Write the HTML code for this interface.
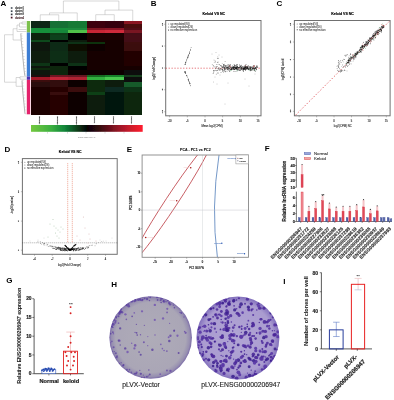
<!DOCTYPE html>
<html><head><meta charset="utf-8"><title>Figure</title>
<style>html,body{margin:0;padding:0;background:#fff;overflow:hidden;}svg{display:block;font-family:"Liberation Sans",Arial,sans-serif;}</style>
</head><body>
<svg width="394" height="400" viewBox="0 0 394 400">
<defs><filter id="gb" filterUnits="userSpaceOnUse" x="0" y="0" width="394" height="400"><feGaussianBlur stdDeviation="0.45"/></filter></defs>
<rect width="394" height="400" fill="#fff"/>
<g filter="url(#gb)" font-family="Liberation Sans, Arial, sans-serif">
<text x="0.60" y="6.40" font-size="8" fill="#000" text-anchor="start" font-weight="bold" >A</text>
<text x="150.80" y="6.30" font-size="8" fill="#000" text-anchor="start" font-weight="bold" >B</text>
<text x="276.50" y="6.40" font-size="8" fill="#000" text-anchor="start" font-weight="bold" >C</text>
<text x="4.50" y="151.60" font-size="8" fill="#000" text-anchor="start" font-weight="bold" >D</text>
<text x="126.70" y="151.60" font-size="8" fill="#000" text-anchor="start" font-weight="bold" >E</text>
<text x="264.80" y="151.30" font-size="8" fill="#000" text-anchor="start" font-weight="bold" >F</text>
<text x="6.20" y="283.40" font-size="8" fill="#000" text-anchor="start" font-weight="bold" >G</text>
<text x="111.20" y="287.00" font-size="8" fill="#000" text-anchor="start" font-weight="bold" >H</text>
<text x="283.30" y="283.70" font-size="8" fill="#000" text-anchor="start" font-weight="bold" >I</text>
<rect x="10.80" y="7.15" width="1.70" height="1.70" fill="#4d5560" stroke="none" stroke-width="0" />
<text x="14.90" y="8.95" font-size="2.6" fill="#333" text-anchor="start" font-weight="normal" stroke="#333" stroke-width="0.14" >cluster1</text>
<rect x="10.80" y="10.35" width="1.70" height="1.70" fill="#3e4650" stroke="none" stroke-width="0" />
<text x="14.90" y="12.15" font-size="2.6" fill="#333" text-anchor="start" font-weight="normal" stroke="#333" stroke-width="0.14" >cluster2</text>
<rect x="10.80" y="13.55" width="1.70" height="1.70" fill="#30343e" stroke="none" stroke-width="0" />
<text x="14.90" y="15.35" font-size="2.6" fill="#333" text-anchor="start" font-weight="normal" stroke="#333" stroke-width="0.14" >cluster3</text>
<rect x="10.80" y="16.75" width="1.70" height="1.70" fill="#4a1420" stroke="none" stroke-width="0" />
<text x="14.90" y="18.55" font-size="2.6" fill="#4a2a30" text-anchor="start" font-weight="normal" stroke="#4a2a30" stroke-width="0.14" >cluster4</text>
<rect x="26.80" y="21.00" width="3.40" height="11.50" fill="#7cc04e" stroke="none" stroke-width="0" />
<rect x="26.80" y="32.50" width="3.40" height="44.00" fill="#3d7ed4" stroke="none" stroke-width="0" />
<rect x="26.80" y="76.50" width="3.40" height="3.30" fill="#4b32b0" stroke="none" stroke-width="0" />
<rect x="26.80" y="79.80" width="3.40" height="34.50" fill="#e4246c" stroke="none" stroke-width="0" />
<g shape-rendering="crispEdges">
<rect x="31.00" y="21.00" width="18.80" height="3.30" fill="#0c2612" stroke="none" stroke-width="0" />
<rect x="49.50" y="21.00" width="18.80" height="3.30" fill="#147034" stroke="none" stroke-width="0" />
<rect x="68.00" y="21.00" width="18.80" height="3.30" fill="#147a36" stroke="none" stroke-width="0" />
<rect x="86.50" y="21.00" width="18.80" height="3.30" fill="#3c060c" stroke="none" stroke-width="0" />
<rect x="105.00" y="21.00" width="18.80" height="3.30" fill="#36060c" stroke="none" stroke-width="0" />
<rect x="123.50" y="21.00" width="18.80" height="3.30" fill="#8a1222" stroke="none" stroke-width="0" />
<rect x="31.00" y="24.00" width="18.80" height="4.50" fill="#0c2612" stroke="none" stroke-width="0" />
<rect x="49.50" y="24.00" width="18.80" height="4.50" fill="#147034" stroke="none" stroke-width="0" />
<rect x="68.00" y="24.00" width="18.80" height="4.50" fill="#147a36" stroke="none" stroke-width="0" />
<rect x="86.50" y="24.00" width="18.80" height="4.50" fill="#3c060c" stroke="none" stroke-width="0" />
<rect x="105.00" y="24.00" width="18.80" height="4.50" fill="#36060c" stroke="none" stroke-width="0" />
<rect x="123.50" y="24.00" width="18.80" height="4.50" fill="#4a0810" stroke="none" stroke-width="0" />
<rect x="31.00" y="28.20" width="18.80" height="2.10" fill="#18903a" stroke="none" stroke-width="0" />
<rect x="49.50" y="28.20" width="18.80" height="2.10" fill="#18903a" stroke="none" stroke-width="0" />
<rect x="68.00" y="28.20" width="18.80" height="2.10" fill="#1a8a3c" stroke="none" stroke-width="0" />
<rect x="86.50" y="28.20" width="18.80" height="2.10" fill="#801420" stroke="none" stroke-width="0" />
<rect x="105.00" y="28.20" width="18.80" height="2.10" fill="#8a1826" stroke="none" stroke-width="0" />
<rect x="123.50" y="28.20" width="18.80" height="2.10" fill="#500a12" stroke="none" stroke-width="0" />
<rect x="31.00" y="30.00" width="18.80" height="2.80" fill="#18903a" stroke="none" stroke-width="0" />
<rect x="49.50" y="30.00" width="18.80" height="2.80" fill="#17883a" stroke="none" stroke-width="0" />
<rect x="68.00" y="30.00" width="18.80" height="2.80" fill="#50c048" stroke="none" stroke-width="0" />
<rect x="86.50" y="30.00" width="18.80" height="2.80" fill="#c82535" stroke="none" stroke-width="0" />
<rect x="105.00" y="30.00" width="18.80" height="2.80" fill="#d02a3a" stroke="none" stroke-width="0" />
<rect x="123.50" y="30.00" width="18.80" height="2.80" fill="#7a1420" stroke="none" stroke-width="0" />
<rect x="31.00" y="32.50" width="18.80" height="2.30" fill="#0a200c" stroke="none" stroke-width="0" />
<rect x="49.50" y="32.50" width="18.80" height="2.30" fill="#0e3a18" stroke="none" stroke-width="0" />
<rect x="68.00" y="32.50" width="18.80" height="2.30" fill="#050505" stroke="none" stroke-width="0" />
<rect x="86.50" y="32.50" width="18.80" height="2.30" fill="#1a0305" stroke="none" stroke-width="0" />
<rect x="105.00" y="32.50" width="18.80" height="2.30" fill="#1a0305" stroke="none" stroke-width="0" />
<rect x="123.50" y="32.50" width="18.80" height="2.30" fill="#440a12" stroke="none" stroke-width="0" />
<rect x="31.00" y="34.50" width="18.80" height="6.00" fill="#0a200c" stroke="none" stroke-width="0" />
<rect x="49.50" y="34.50" width="18.80" height="6.00" fill="#10401a" stroke="none" stroke-width="0" />
<rect x="68.00" y="34.50" width="18.80" height="6.00" fill="#060404" stroke="none" stroke-width="0" />
<rect x="86.50" y="34.50" width="18.80" height="6.00" fill="#1a0305" stroke="none" stroke-width="0" />
<rect x="105.00" y="34.50" width="18.80" height="6.00" fill="#1a0305" stroke="none" stroke-width="0" />
<rect x="123.50" y="34.50" width="18.80" height="6.00" fill="#460a12" stroke="none" stroke-width="0" />
<rect x="31.00" y="40.20" width="18.80" height="2.40" fill="#104a1e" stroke="none" stroke-width="0" />
<rect x="49.50" y="40.20" width="18.80" height="2.40" fill="#050505" stroke="none" stroke-width="0" />
<rect x="68.00" y="40.20" width="18.80" height="2.40" fill="#0a1a0a" stroke="none" stroke-width="0" />
<rect x="86.50" y="40.20" width="18.80" height="2.40" fill="#120303" stroke="none" stroke-width="0" />
<rect x="105.00" y="40.20" width="18.80" height="2.40" fill="#180305" stroke="none" stroke-width="0" />
<rect x="123.50" y="40.20" width="18.80" height="2.40" fill="#420a12" stroke="none" stroke-width="0" />
<rect x="31.00" y="42.30" width="18.80" height="2.40" fill="#081808" stroke="none" stroke-width="0" />
<rect x="49.50" y="42.30" width="18.80" height="2.40" fill="#0c2c12" stroke="none" stroke-width="0" />
<rect x="68.00" y="42.30" width="18.80" height="2.40" fill="#0c3012" stroke="none" stroke-width="0" />
<rect x="86.50" y="42.30" width="18.80" height="2.40" fill="#0c3010" stroke="none" stroke-width="0" />
<rect x="105.00" y="42.30" width="18.80" height="2.40" fill="#180305" stroke="none" stroke-width="0" />
<rect x="123.50" y="42.30" width="18.80" height="2.40" fill="#3e0810" stroke="none" stroke-width="0" />
<rect x="31.00" y="44.40" width="18.80" height="6.90" fill="#081808" stroke="none" stroke-width="0" />
<rect x="49.50" y="44.40" width="18.80" height="6.90" fill="#0c2c12" stroke="none" stroke-width="0" />
<rect x="68.00" y="44.40" width="18.80" height="6.90" fill="#0a0a06" stroke="none" stroke-width="0" />
<rect x="86.50" y="44.40" width="18.80" height="6.90" fill="#100202" stroke="none" stroke-width="0" />
<rect x="105.00" y="44.40" width="18.80" height="6.90" fill="#180305" stroke="none" stroke-width="0" />
<rect x="123.50" y="44.40" width="18.80" height="6.90" fill="#3a0810" stroke="none" stroke-width="0" />
<rect x="31.00" y="51.00" width="18.80" height="12.10" fill="#081a0c" stroke="none" stroke-width="0" />
<rect x="49.50" y="51.00" width="18.80" height="12.10" fill="#0c2e14" stroke="none" stroke-width="0" />
<rect x="68.00" y="51.00" width="18.80" height="12.10" fill="#0a1a0e" stroke="none" stroke-width="0" />
<rect x="86.50" y="51.00" width="18.80" height="12.10" fill="#140304" stroke="none" stroke-width="0" />
<rect x="105.00" y="51.00" width="18.80" height="12.10" fill="#140304" stroke="none" stroke-width="0" />
<rect x="123.50" y="51.00" width="18.80" height="12.10" fill="#200406" stroke="none" stroke-width="0" />
<rect x="31.00" y="62.80" width="18.80" height="3.10" fill="#0c3414" stroke="none" stroke-width="0" />
<rect x="49.50" y="62.80" width="18.80" height="3.10" fill="#030303" stroke="none" stroke-width="0" />
<rect x="68.00" y="62.80" width="18.80" height="3.10" fill="#0c3012" stroke="none" stroke-width="0" />
<rect x="86.50" y="62.80" width="18.80" height="3.10" fill="#140304" stroke="none" stroke-width="0" />
<rect x="105.00" y="62.80" width="18.80" height="3.10" fill="#140304" stroke="none" stroke-width="0" />
<rect x="123.50" y="62.80" width="18.80" height="3.10" fill="#200406" stroke="none" stroke-width="0" />
<rect x="31.00" y="65.60" width="18.80" height="2.50" fill="#081808" stroke="none" stroke-width="0" />
<rect x="49.50" y="65.60" width="18.80" height="2.50" fill="#0a2810" stroke="none" stroke-width="0" />
<rect x="68.00" y="65.60" width="18.80" height="2.50" fill="#060606" stroke="none" stroke-width="0" />
<rect x="86.50" y="65.60" width="18.80" height="2.50" fill="#140304" stroke="none" stroke-width="0" />
<rect x="105.00" y="65.60" width="18.80" height="2.50" fill="#140304" stroke="none" stroke-width="0" />
<rect x="123.50" y="65.60" width="18.80" height="2.50" fill="#140304" stroke="none" stroke-width="0" />
<rect x="31.00" y="67.80" width="18.80" height="2.50" fill="#0a2a10" stroke="none" stroke-width="0" />
<rect x="49.50" y="67.80" width="18.80" height="2.50" fill="#0a2810" stroke="none" stroke-width="0" />
<rect x="68.00" y="67.80" width="18.80" height="2.50" fill="#060606" stroke="none" stroke-width="0" />
<rect x="86.50" y="67.80" width="18.80" height="2.50" fill="#140304" stroke="none" stroke-width="0" />
<rect x="105.00" y="67.80" width="18.80" height="2.50" fill="#140304" stroke="none" stroke-width="0" />
<rect x="123.50" y="67.80" width="18.80" height="2.50" fill="#140304" stroke="none" stroke-width="0" />
<rect x="31.00" y="70.00" width="18.80" height="5.30" fill="#081808" stroke="none" stroke-width="0" />
<rect x="49.50" y="70.00" width="18.80" height="5.30" fill="#0a2810" stroke="none" stroke-width="0" />
<rect x="68.00" y="70.00" width="18.80" height="5.30" fill="#080606" stroke="none" stroke-width="0" />
<rect x="86.50" y="70.00" width="18.80" height="5.30" fill="#100304" stroke="none" stroke-width="0" />
<rect x="105.00" y="70.00" width="18.80" height="5.30" fill="#100304" stroke="none" stroke-width="0" />
<rect x="123.50" y="70.00" width="18.80" height="5.30" fill="#0a0a0a" stroke="none" stroke-width="0" />
<rect x="31.00" y="75.00" width="18.80" height="1.80" fill="#1a0808" stroke="none" stroke-width="0" />
<rect x="49.50" y="75.00" width="18.80" height="1.80" fill="#701822" stroke="none" stroke-width="0" />
<rect x="68.00" y="75.00" width="18.80" height="1.80" fill="#681822" stroke="none" stroke-width="0" />
<rect x="86.50" y="75.00" width="18.80" height="1.80" fill="#126a24" stroke="none" stroke-width="0" />
<rect x="105.00" y="75.00" width="18.80" height="1.80" fill="#18802c" stroke="none" stroke-width="0" />
<rect x="123.50" y="75.00" width="18.80" height="1.80" fill="#183e1c" stroke="none" stroke-width="0" />
<rect x="31.00" y="76.50" width="18.80" height="3.40" fill="#a01828" stroke="none" stroke-width="0" />
<rect x="49.50" y="76.50" width="18.80" height="3.40" fill="#c02838" stroke="none" stroke-width="0" />
<rect x="68.00" y="76.50" width="18.80" height="3.40" fill="#b02030" stroke="none" stroke-width="0" />
<rect x="86.50" y="76.50" width="18.80" height="3.40" fill="#30b040" stroke="none" stroke-width="0" />
<rect x="105.00" y="76.50" width="18.80" height="3.40" fill="#48c850" stroke="none" stroke-width="0" />
<rect x="123.50" y="76.50" width="18.80" height="3.40" fill="#0a0a0a" stroke="none" stroke-width="0" />
<rect x="31.00" y="79.60" width="18.80" height="2.20" fill="#3a0a0c" stroke="none" stroke-width="0" />
<rect x="49.50" y="79.60" width="18.80" height="2.20" fill="#300808" stroke="none" stroke-width="0" />
<rect x="68.00" y="79.60" width="18.80" height="2.20" fill="#100303" stroke="none" stroke-width="0" />
<rect x="86.50" y="79.60" width="18.80" height="2.20" fill="#0a2a10" stroke="none" stroke-width="0" />
<rect x="105.00" y="79.60" width="18.80" height="2.20" fill="#0a1a0c" stroke="none" stroke-width="0" />
<rect x="123.50" y="79.60" width="18.80" height="2.20" fill="#0a0a0a" stroke="none" stroke-width="0" />
<rect x="31.00" y="81.50" width="18.80" height="5.30" fill="#2a0708" stroke="none" stroke-width="0" />
<rect x="49.50" y="81.50" width="18.80" height="5.30" fill="#300808" stroke="none" stroke-width="0" />
<rect x="68.00" y="81.50" width="18.80" height="5.30" fill="#100303" stroke="none" stroke-width="0" />
<rect x="86.50" y="81.50" width="18.80" height="5.30" fill="#0a2a10" stroke="none" stroke-width="0" />
<rect x="105.00" y="81.50" width="18.80" height="5.30" fill="#0a1a0c" stroke="none" stroke-width="0" />
<rect x="123.50" y="81.50" width="18.80" height="5.30" fill="#175a2a" stroke="none" stroke-width="0" />
<rect x="31.00" y="86.50" width="18.80" height="6.00" fill="#1e0405" stroke="none" stroke-width="0" />
<rect x="49.50" y="86.50" width="18.80" height="6.00" fill="#280606" stroke="none" stroke-width="0" />
<rect x="68.00" y="86.50" width="18.80" height="6.00" fill="#3a0a10" stroke="none" stroke-width="0" />
<rect x="86.50" y="86.50" width="18.80" height="6.00" fill="#0a2a10" stroke="none" stroke-width="0" />
<rect x="105.00" y="86.50" width="18.80" height="6.00" fill="#0c2a20" stroke="none" stroke-width="0" />
<rect x="123.50" y="86.50" width="18.80" height="6.00" fill="#0a3014" stroke="none" stroke-width="0" />
<rect x="31.00" y="92.20" width="18.80" height="3.10" fill="#1e0405" stroke="none" stroke-width="0" />
<rect x="49.50" y="92.20" width="18.80" height="3.10" fill="#380a0c" stroke="none" stroke-width="0" />
<rect x="68.00" y="92.20" width="18.80" height="3.10" fill="#0c0303" stroke="none" stroke-width="0" />
<rect x="86.50" y="92.20" width="18.80" height="3.10" fill="#0e4018" stroke="none" stroke-width="0" />
<rect x="105.00" y="92.20" width="18.80" height="3.10" fill="#061408" stroke="none" stroke-width="0" />
<rect x="123.50" y="92.20" width="18.80" height="3.10" fill="#0a2810" stroke="none" stroke-width="0" />
<rect x="31.00" y="95.00" width="18.80" height="19.60" fill="#1e0405" stroke="none" stroke-width="0" />
<rect x="49.50" y="95.00" width="18.80" height="19.60" fill="#280606" stroke="none" stroke-width="0" />
<rect x="68.00" y="95.00" width="18.80" height="19.60" fill="#0c0303" stroke="none" stroke-width="0" />
<rect x="86.50" y="95.00" width="18.80" height="19.60" fill="#081e0c" stroke="none" stroke-width="0" />
<rect x="105.00" y="95.00" width="18.80" height="19.60" fill="#061408" stroke="none" stroke-width="0" />
<rect x="123.50" y="95.00" width="18.80" height="19.60" fill="#0a2810" stroke="none" stroke-width="0" />
</g>
<line x1="40.25" y1="21.00" x2="40.25" y2="14.80" stroke="#a8a8a8" stroke-width="0.45" />
<line x1="58.75" y1="21.00" x2="58.75" y2="14.80" stroke="#a8a8a8" stroke-width="0.45" />
<line x1="40.25" y1="14.80" x2="58.75" y2="14.80" stroke="#a8a8a8" stroke-width="0.45" />
<line x1="49.50" y1="14.80" x2="49.50" y2="12.90" stroke="#a8a8a8" stroke-width="0.45" />
<line x1="77.25" y1="21.00" x2="77.25" y2="12.90" stroke="#a8a8a8" stroke-width="0.45" />
<line x1="49.50" y1="12.90" x2="77.25" y2="12.90" stroke="#a8a8a8" stroke-width="0.45" />
<line x1="95.75" y1="21.00" x2="95.75" y2="14.70" stroke="#a8a8a8" stroke-width="0.45" />
<line x1="114.25" y1="21.00" x2="114.25" y2="14.70" stroke="#a8a8a8" stroke-width="0.45" />
<line x1="95.75" y1="14.70" x2="114.25" y2="14.70" stroke="#a8a8a8" stroke-width="0.45" />
<line x1="105.00" y1="14.70" x2="105.00" y2="10.10" stroke="#a8a8a8" stroke-width="0.45" />
<line x1="132.75" y1="21.00" x2="132.75" y2="10.10" stroke="#a8a8a8" stroke-width="0.45" />
<line x1="105.00" y1="10.10" x2="132.75" y2="10.10" stroke="#a8a8a8" stroke-width="0.45" />
<line x1="63.38" y1="12.90" x2="63.38" y2="1.00" stroke="#a8a8a8" stroke-width="0.45" />
<line x1="118.88" y1="10.10" x2="118.88" y2="1.00" stroke="#a8a8a8" stroke-width="0.45" />
<line x1="63.38" y1="1.00" x2="118.88" y2="1.00" stroke="#a8a8a8" stroke-width="0.45" />
<line x1="4.50" y1="34.75" x2="4.50" y2="82.20" stroke="#a8a8a8" stroke-width="0.45" />
<line x1="4.50" y1="34.75" x2="13.10" y2="34.75" stroke="#a8a8a8" stroke-width="0.45" />
<line x1="13.10" y1="28.75" x2="13.10" y2="40.00" stroke="#a8a8a8" stroke-width="0.45" />
<line x1="13.10" y1="28.75" x2="17.00" y2="28.75" stroke="#a8a8a8" stroke-width="0.45" />
<line x1="17.00" y1="25.00" x2="17.00" y2="31.50" stroke="#a8a8a8" stroke-width="0.45" />
<line x1="17.00" y1="31.50" x2="26.50" y2="31.50" stroke="#a8a8a8" stroke-width="0.45" />
<line x1="17.00" y1="25.00" x2="19.50" y2="25.00" stroke="#a8a8a8" stroke-width="0.45" />
<line x1="19.50" y1="23.00" x2="19.50" y2="27.00" stroke="#a8a8a8" stroke-width="0.45" />
<line x1="19.50" y1="27.00" x2="26.50" y2="27.00" stroke="#a8a8a8" stroke-width="0.45" />
<line x1="19.50" y1="23.00" x2="22.00" y2="23.00" stroke="#a8a8a8" stroke-width="0.45" />
<line x1="22.00" y1="22.00" x2="22.00" y2="24.00" stroke="#a8a8a8" stroke-width="0.45" />
<line x1="22.00" y1="22.00" x2="26.50" y2="22.00" stroke="#a8a8a8" stroke-width="0.45" />
<line x1="22.00" y1="24.00" x2="26.50" y2="24.00" stroke="#a8a8a8" stroke-width="0.45" />
<line x1="18.50" y1="29.50" x2="26.50" y2="29.50" stroke="#a8a8a8" stroke-width="0.45" />
<line x1="13.10" y1="40.00" x2="20.80" y2="40.00" stroke="#a8a8a8" stroke-width="0.45" />
<polyline points="20.8,33.5 21.2,40 21.8,46 22.4,52 22.9,58 23.5,64 24.1,70 24.8,75.8" fill="none" stroke="#8a8a8a" stroke-width="0.65"/>
<line x1="20.80" y1="33.50" x2="22.40" y2="33.50" stroke="#a8a8a8" stroke-width="0.3" />
<line x1="21.04" y1="36.00" x2="22.64" y2="36.00" stroke="#a8a8a8" stroke-width="0.3" />
<line x1="21.28" y1="38.50" x2="22.88" y2="38.50" stroke="#a8a8a8" stroke-width="0.3" />
<line x1="21.56" y1="41.50" x2="23.16" y2="41.50" stroke="#a8a8a8" stroke-width="0.3" />
<line x1="21.84" y1="44.50" x2="23.45" y2="44.50" stroke="#a8a8a8" stroke-width="0.3" />
<line x1="22.13" y1="47.50" x2="23.73" y2="47.50" stroke="#a8a8a8" stroke-width="0.3" />
<line x1="22.41" y1="50.50" x2="24.02" y2="50.50" stroke="#a8a8a8" stroke-width="0.3" />
<line x1="22.70" y1="53.50" x2="24.30" y2="53.50" stroke="#a8a8a8" stroke-width="0.3" />
<line x1="22.98" y1="56.50" x2="24.59" y2="56.50" stroke="#a8a8a8" stroke-width="0.3" />
<line x1="23.27" y1="59.50" x2="24.87" y2="59.50" stroke="#a8a8a8" stroke-width="0.3" />
<line x1="23.55" y1="62.50" x2="25.16" y2="62.50" stroke="#a8a8a8" stroke-width="0.3" />
<line x1="23.84" y1="65.50" x2="25.44" y2="65.50" stroke="#a8a8a8" stroke-width="0.3" />
<line x1="24.12" y1="68.50" x2="25.73" y2="68.50" stroke="#a8a8a8" stroke-width="0.3" />
<line x1="24.41" y1="71.50" x2="26.01" y2="71.50" stroke="#a8a8a8" stroke-width="0.3" />
<line x1="24.65" y1="74.00" x2="26.25" y2="74.00" stroke="#a8a8a8" stroke-width="0.3" />
<line x1="24.82" y1="75.80" x2="26.42" y2="75.80" stroke="#a8a8a8" stroke-width="0.3" />
<line x1="4.50" y1="82.20" x2="16.10" y2="82.20" stroke="#a8a8a8" stroke-width="0.45" />
<line x1="16.10" y1="77.50" x2="16.10" y2="86.30" stroke="#a8a8a8" stroke-width="0.45" />
<line x1="16.10" y1="77.50" x2="20.00" y2="77.50" stroke="#a8a8a8" stroke-width="0.45" />
<line x1="20.00" y1="76.80" x2="20.00" y2="79.20" stroke="#a8a8a8" stroke-width="0.45" />
<line x1="20.00" y1="76.80" x2="26.50" y2="76.80" stroke="#a8a8a8" stroke-width="0.45" />
<line x1="20.00" y1="79.20" x2="26.50" y2="79.20" stroke="#a8a8a8" stroke-width="0.45" />
<line x1="16.10" y1="86.30" x2="22.00" y2="86.30" stroke="#a8a8a8" stroke-width="0.45" />
<polyline points="22,80.5 22.3,86 22.8,92 23.4,98 24.0,104 24.6,110 25.0,113.8" fill="none" stroke="#8a8a8a" stroke-width="0.65"/>
<line x1="22.00" y1="80.50" x2="23.60" y2="80.50" stroke="#a8a8a8" stroke-width="0.3" />
<line x1="22.23" y1="83.00" x2="23.83" y2="83.00" stroke="#a8a8a8" stroke-width="0.3" />
<line x1="22.50" y1="86.00" x2="24.10" y2="86.00" stroke="#a8a8a8" stroke-width="0.3" />
<line x1="22.77" y1="89.00" x2="24.37" y2="89.00" stroke="#a8a8a8" stroke-width="0.3" />
<line x1="23.04" y1="92.00" x2="24.64" y2="92.00" stroke="#a8a8a8" stroke-width="0.3" />
<line x1="23.30" y1="95.00" x2="24.91" y2="95.00" stroke="#a8a8a8" stroke-width="0.3" />
<line x1="23.57" y1="98.00" x2="25.18" y2="98.00" stroke="#a8a8a8" stroke-width="0.3" />
<line x1="23.84" y1="101.00" x2="25.45" y2="101.00" stroke="#a8a8a8" stroke-width="0.3" />
<line x1="24.11" y1="104.00" x2="25.71" y2="104.00" stroke="#a8a8a8" stroke-width="0.3" />
<line x1="24.38" y1="107.00" x2="25.98" y2="107.00" stroke="#a8a8a8" stroke-width="0.3" />
<line x1="24.66" y1="110.00" x2="26.26" y2="110.00" stroke="#a8a8a8" stroke-width="0.3" />
<line x1="25.00" y1="113.80" x2="26.60" y2="113.80" stroke="#a8a8a8" stroke-width="0.3" />
<text x="38.95" y="116.60" font-size="2.1" fill="#444" text-anchor="start" font-weight="normal" transform="rotate(90 38.95 116.60)" stroke="#444" stroke-width="0.15" >Normal1</text>
<text x="57.45" y="116.60" font-size="2.1" fill="#444" text-anchor="start" font-weight="normal" transform="rotate(90 57.45 116.60)" stroke="#444" stroke-width="0.15" >Normal2</text>
<text x="75.95" y="116.60" font-size="2.1" fill="#444" text-anchor="start" font-weight="normal" transform="rotate(90 75.95 116.60)" stroke="#444" stroke-width="0.15" >Normal3</text>
<text x="94.45" y="116.60" font-size="2.1" fill="#444" text-anchor="start" font-weight="normal" transform="rotate(90 94.45 116.60)" stroke="#444" stroke-width="0.15" >Keloid1</text>
<text x="112.95" y="116.60" font-size="2.1" fill="#444" text-anchor="start" font-weight="normal" transform="rotate(90 112.95 116.60)" stroke="#444" stroke-width="0.15" >Keloid2</text>
<text x="131.45" y="116.60" font-size="2.1" fill="#444" text-anchor="start" font-weight="normal" transform="rotate(90 131.45 116.60)" stroke="#444" stroke-width="0.15" >Keloid3</text>
<defs><linearGradient id="cb" x1="0" x2="1" y1="0" y2="0"><stop offset="0" stop-color="#74c840"/><stop offset="0.18" stop-color="#3cb040"/><stop offset="0.3" stop-color="#12863a"/><stop offset="0.42" stop-color="#0a3a18"/><stop offset="0.5" stop-color="#050505"/><stop offset="0.62" stop-color="#3a0810"/><stop offset="0.8" stop-color="#a01828"/><stop offset="1" stop-color="#ff1e2e"/></linearGradient></defs>
<rect x="31.00" y="125.00" width="111.70" height="6.80" fill="url(#cb)" stroke="none" stroke-width="0" />
<line x1="47.50" y1="132.00" x2="47.50" y2="133.60" stroke="#999" stroke-width="0.35" />
<line x1="67.50" y1="132.00" x2="67.50" y2="133.60" stroke="#999" stroke-width="0.35" />
<line x1="86.00" y1="132.00" x2="86.00" y2="133.60" stroke="#999" stroke-width="0.35" />
<line x1="105.00" y1="132.00" x2="105.00" y2="133.60" stroke="#999" stroke-width="0.35" />
<line x1="124.00" y1="132.00" x2="124.00" y2="133.60" stroke="#999" stroke-width="0.35" />
<text x="86.60" y="138.20" font-size="1.8" fill="#777" text-anchor="middle" font-weight="normal" >scaled log2(FPKM+1)</text>
<rect x="165.70" y="20.50" width="95.30" height="95.30" fill="none" stroke="#707070" stroke-width="1.0" />
<text x="213.80" y="15.00" font-size="3.55" fill="#000" text-anchor="middle" font-weight="bold" stroke="#000" stroke-width="0.15" >Keloid VS NC</text>
<line x1="164.20" y1="24.25" x2="165.70" y2="24.25" stroke="#707070" stroke-width="0.45" />
<text x="162.60" y="24.25" font-size="2.5" fill="#333" text-anchor="middle" font-weight="normal" transform="rotate(-90 162.60 24.25)" stroke="#333" stroke-width="0.12" >10</text>
<line x1="164.20" y1="46.00" x2="165.70" y2="46.00" stroke="#707070" stroke-width="0.45" />
<text x="162.60" y="46.00" font-size="2.5" fill="#333" text-anchor="middle" font-weight="normal" transform="rotate(-90 162.60 46.00)" stroke="#333" stroke-width="0.12" >5</text>
<line x1="164.20" y1="68.00" x2="165.70" y2="68.00" stroke="#707070" stroke-width="0.45" />
<text x="162.60" y="68.00" font-size="2.5" fill="#333" text-anchor="middle" font-weight="normal" transform="rotate(-90 162.60 68.00)" stroke="#333" stroke-width="0.12" >0</text>
<line x1="164.20" y1="89.75" x2="165.70" y2="89.75" stroke="#707070" stroke-width="0.45" />
<text x="162.60" y="89.75" font-size="2.5" fill="#333" text-anchor="middle" font-weight="normal" transform="rotate(-90 162.60 89.75)" stroke="#333" stroke-width="0.12" >-5</text>
<line x1="164.20" y1="111.75" x2="165.70" y2="111.75" stroke="#707070" stroke-width="0.45" />
<text x="162.60" y="111.75" font-size="2.5" fill="#333" text-anchor="middle" font-weight="normal" transform="rotate(-90 162.60 111.75)" stroke="#333" stroke-width="0.12" >-10</text>
<line x1="169.60" y1="115.80" x2="169.60" y2="117.30" stroke="#707070" stroke-width="0.45" />
<text x="169.60" y="121.80" font-size="2.6" fill="#333" text-anchor="middle" font-weight="normal" stroke="#333" stroke-width="0.12" >-10</text>
<line x1="187.30" y1="115.80" x2="187.30" y2="117.30" stroke="#707070" stroke-width="0.45" />
<text x="187.30" y="121.80" font-size="2.6" fill="#333" text-anchor="middle" font-weight="normal" stroke="#333" stroke-width="0.12" >-5</text>
<line x1="205.00" y1="115.80" x2="205.00" y2="117.30" stroke="#707070" stroke-width="0.45" />
<text x="205.00" y="121.80" font-size="2.6" fill="#333" text-anchor="middle" font-weight="normal" stroke="#333" stroke-width="0.12" >0</text>
<line x1="222.60" y1="115.80" x2="222.60" y2="117.30" stroke="#707070" stroke-width="0.45" />
<text x="222.60" y="121.80" font-size="2.6" fill="#333" text-anchor="middle" font-weight="normal" stroke="#333" stroke-width="0.12" >5</text>
<line x1="240.30" y1="115.80" x2="240.30" y2="117.30" stroke="#707070" stroke-width="0.45" />
<text x="240.30" y="121.80" font-size="2.6" fill="#333" text-anchor="middle" font-weight="normal" stroke="#333" stroke-width="0.12" >10</text>
<line x1="257.90" y1="115.80" x2="257.90" y2="117.30" stroke="#707070" stroke-width="0.45" />
<text x="257.90" y="121.80" font-size="2.6" fill="#333" text-anchor="middle" font-weight="normal" stroke="#333" stroke-width="0.12" >15</text>
<text x="212.00" y="127.20" font-size="2.8" fill="#333" text-anchor="middle" font-weight="normal" stroke="#333" stroke-width="0.1" >Mean log2(CPM)</text>
<text x="155.40" y="68.40" font-size="2.8" fill="#333" text-anchor="middle" font-weight="normal" transform="rotate(-90 155.40 68.40)" stroke="#333" stroke-width="0.1" >log2(Fold Change)</text>
<circle cx="168.60" cy="24.10" r="0.50" fill="#777" />
<text x="170.60" y="25.00" font-size="2.6" fill="#444" text-anchor="start" font-weight="normal" stroke="#444" stroke-width="0.06" >up regulated(53)</text>
<circle cx="168.60" cy="27.03" r="0.50" fill="#777" />
<text x="170.60" y="27.93" font-size="2.6" fill="#444" text-anchor="start" font-weight="normal" stroke="#444" stroke-width="0.06" >down regulated(26)</text>
<circle cx="168.60" cy="29.96" r="0.50" fill="#111" />
<text x="170.60" y="30.86" font-size="2.6" fill="#444" text-anchor="start" font-weight="normal" stroke="#444" stroke-width="0.06" >no effective expression</text>
<line x1="165.70" y1="68.20" x2="261.00" y2="68.20" stroke="#d83038" stroke-width="0.65" stroke-dasharray="1.3,1.6"/>
<circle cx="186.76" cy="59.27" r="0.45" fill="#333" />
<circle cx="188.41" cy="80.83" r="0.45" fill="#333" />
<circle cx="188.35" cy="55.39" r="0.45" fill="#333" />
<circle cx="185.15" cy="72.06" r="0.45" fill="#333" />
<circle cx="185.01" cy="64.51" r="0.45" fill="#333" />
<circle cx="184.93" cy="72.23" r="0.45" fill="#333" />
<circle cx="187.92" cy="57.43" r="0.45" fill="#333" />
<circle cx="185.35" cy="73.03" r="0.45" fill="#333" />
<circle cx="189.38" cy="53.72" r="0.45" fill="#333" />
<circle cx="188.19" cy="79.74" r="0.45" fill="#333" />
<circle cx="191.12" cy="47.33" r="0.45" fill="#333" />
<circle cx="189.80" cy="83.91" r="0.45" fill="#333" />
<circle cx="185.51" cy="62.56" r="0.45" fill="#333" />
<circle cx="186.87" cy="75.77" r="0.45" fill="#333" />
<circle cx="186.09" cy="61.89" r="0.45" fill="#333" />
<circle cx="188.54" cy="80.66" r="0.45" fill="#333" />
<circle cx="188.22" cy="55.18" r="0.45" fill="#333" />
<circle cx="184.95" cy="72.08" r="0.45" fill="#333" />
<circle cx="189.38" cy="52.75" r="0.45" fill="#333" />
<circle cx="186.74" cy="75.85" r="0.45" fill="#333" />
<circle cx="187.74" cy="56.91" r="0.45" fill="#333" />
<circle cx="189.71" cy="82.96" r="0.45" fill="#333" />
<circle cx="186.51" cy="60.73" r="0.45" fill="#333" />
<circle cx="188.21" cy="78.97" r="0.45" fill="#333" />
<circle cx="189.61" cy="51.85" r="0.45" fill="#333" />
<circle cx="190.41" cy="85.71" r="0.45" fill="#333" />
<circle cx="187.82" cy="57.55" r="0.45" fill="#333" />
<circle cx="185.70" cy="73.45" r="0.45" fill="#333" />
<circle cx="185.18" cy="64.48" r="0.45" fill="#333" />
<circle cx="189.44" cy="82.52" r="0.45" fill="#333" />
<circle cx="190.62" cy="49.18" r="0.45" fill="#333" />
<circle cx="189.04" cy="81.49" r="0.45" fill="#333" />
<circle cx="188.71" cy="54.59" r="0.45" fill="#333" />
<circle cx="190.15" cy="83.63" r="0.45" fill="#333" />
<circle cx="188.14" cy="56.52" r="0.45" fill="#333" />
<circle cx="185.31" cy="72.10" r="0.45" fill="#333" />
<circle cx="189.55" cy="53.36" r="0.45" fill="#333" />
<circle cx="189.58" cy="83.36" r="0.45" fill="#333" />
<circle cx="187.54" cy="58.14" r="0.45" fill="#333" />
<circle cx="184.91" cy="71.53" r="0.45" fill="#333" />
<circle cx="185.67" cy="62.12" r="0.45" fill="#333" />
<circle cx="185.34" cy="72.07" r="0.45" fill="#333" />
<circle cx="185.50" cy="62.83" r="0.45" fill="#333" />
<circle cx="187.41" cy="76.99" r="0.45" fill="#333" />
<circle cx="185.31" cy="63.73" r="0.45" fill="#333" />
<circle cx="188.37" cy="79.33" r="0.45" fill="#333" />
<circle cx="190.63" cy="50.21" r="0.45" fill="#333" />
<circle cx="186.41" cy="75.32" r="0.45" fill="#333" />
<circle cx="247.40" cy="68.16" r="0.45" fill="#1a1a1a" />
<circle cx="237.57" cy="69.55" r="0.45" fill="#1a1a1a" />
<circle cx="229.88" cy="66.94" r="0.45" fill="#1a1a1a" />
<circle cx="254.87" cy="68.85" r="0.45" fill="#1a1a1a" />
<circle cx="250.16" cy="70.71" r="0.45" fill="#1a1a1a" />
<circle cx="235.37" cy="68.44" r="0.45" fill="#1a1a1a" />
<circle cx="250.38" cy="68.54" r="0.45" fill="#1a1a1a" />
<circle cx="246.49" cy="68.32" r="0.45" fill="#1a1a1a" />
<circle cx="247.96" cy="69.16" r="0.45" fill="#1a1a1a" />
<circle cx="252.96" cy="70.01" r="0.45" fill="#1a1a1a" />
<circle cx="241.41" cy="68.24" r="0.45" fill="#1a1a1a" />
<circle cx="231.10" cy="69.61" r="0.45" fill="#1a1a1a" />
<circle cx="255.78" cy="68.30" r="0.45" fill="#1a1a1a" />
<circle cx="251.81" cy="68.86" r="0.45" fill="#1a1a1a" />
<circle cx="225.14" cy="69.03" r="0.45" fill="#1a1a1a" />
<circle cx="250.35" cy="70.15" r="0.45" fill="#1a1a1a" />
<circle cx="254.13" cy="70.02" r="0.45" fill="#40a060" />
<circle cx="245.64" cy="66.62" r="0.45" fill="#1a1a1a" />
<circle cx="243.48" cy="68.43" r="0.45" fill="#1a1a1a" />
<circle cx="234.02" cy="67.17" r="0.45" fill="#1a1a1a" />
<circle cx="234.41" cy="65.47" r="0.45" fill="#1a1a1a" />
<circle cx="256.35" cy="66.54" r="0.45" fill="#1a1a1a" />
<circle cx="224.89" cy="67.73" r="0.45" fill="#1a1a1a" />
<circle cx="240.02" cy="66.30" r="0.45" fill="#1a1a1a" />
<circle cx="246.24" cy="69.25" r="0.45" fill="#1a1a1a" />
<circle cx="236.04" cy="67.24" r="0.45" fill="#1a1a1a" />
<circle cx="235.24" cy="68.98" r="0.45" fill="#1a1a1a" />
<circle cx="232.52" cy="67.63" r="0.45" fill="#1a1a1a" />
<circle cx="224.36" cy="69.21" r="0.45" fill="#1a1a1a" />
<circle cx="231.75" cy="69.77" r="0.45" fill="#1a1a1a" />
<circle cx="231.82" cy="68.40" r="0.45" fill="#1a1a1a" />
<circle cx="225.11" cy="69.11" r="0.45" fill="#1a1a1a" />
<circle cx="254.89" cy="68.86" r="0.45" fill="#1a1a1a" />
<circle cx="237.16" cy="64.50" r="0.45" fill="#1a1a1a" />
<circle cx="237.64" cy="70.86" r="0.45" fill="#1a1a1a" />
<circle cx="248.88" cy="69.40" r="0.45" fill="#1a1a1a" />
<circle cx="247.75" cy="67.56" r="0.45" fill="#1a1a1a" />
<circle cx="245.80" cy="69.07" r="0.45" fill="#1a1a1a" />
<circle cx="252.91" cy="68.59" r="0.45" fill="#1a1a1a" />
<circle cx="239.45" cy="67.74" r="0.45" fill="#1a1a1a" />
<circle cx="232.13" cy="66.97" r="0.45" fill="#1a1a1a" />
<circle cx="236.34" cy="68.70" r="0.45" fill="#1a1a1a" />
<circle cx="241.57" cy="68.81" r="0.45" fill="#1a1a1a" />
<circle cx="245.23" cy="69.23" r="0.45" fill="#1a1a1a" />
<circle cx="256.37" cy="69.15" r="0.45" fill="#1a1a1a" />
<circle cx="228.84" cy="68.73" r="0.45" fill="#1a1a1a" />
<circle cx="241.45" cy="67.08" r="0.45" fill="#1a1a1a" />
<circle cx="225.24" cy="68.77" r="0.45" fill="#1a1a1a" />
<circle cx="253.96" cy="65.44" r="0.45" fill="#1a1a1a" />
<circle cx="244.66" cy="67.93" r="0.45" fill="#1a1a1a" />
<circle cx="244.34" cy="66.23" r="0.45" fill="#1a1a1a" />
<circle cx="257.66" cy="67.32" r="0.45" fill="#1a1a1a" />
<circle cx="234.64" cy="68.95" r="0.45" fill="#1a1a1a" />
<circle cx="236.57" cy="68.48" r="0.45" fill="#1a1a1a" />
<circle cx="244.08" cy="68.62" r="0.45" fill="#1a1a1a" />
<circle cx="242.95" cy="68.83" r="0.45" fill="#1a1a1a" />
<circle cx="244.81" cy="67.34" r="0.45" fill="#1a1a1a" />
<circle cx="234.42" cy="68.14" r="0.45" fill="#1a1a1a" />
<circle cx="248.01" cy="68.44" r="0.45" fill="#1a1a1a" />
<circle cx="251.63" cy="69.73" r="0.45" fill="#1a1a1a" />
<circle cx="234.77" cy="69.57" r="0.45" fill="#1a1a1a" />
<circle cx="240.60" cy="68.04" r="0.45" fill="#1a1a1a" />
<circle cx="222.21" cy="69.80" r="0.45" fill="#1a1a1a" />
<circle cx="245.90" cy="67.99" r="0.45" fill="#1a1a1a" />
<circle cx="234.81" cy="69.59" r="0.45" fill="#1a1a1a" />
<circle cx="227.69" cy="67.38" r="0.45" fill="#1a1a1a" />
<circle cx="236.69" cy="67.35" r="0.45" fill="#1a1a1a" />
<circle cx="240.71" cy="70.11" r="0.45" fill="#1a1a1a" />
<circle cx="240.73" cy="67.05" r="0.45" fill="#1a1a1a" />
<circle cx="245.59" cy="68.02" r="0.45" fill="#1a1a1a" />
<circle cx="233.00" cy="68.00" r="0.45" fill="#1a1a1a" />
<circle cx="245.86" cy="66.61" r="0.45" fill="#1a1a1a" />
<circle cx="247.23" cy="66.81" r="0.45" fill="#1a1a1a" />
<circle cx="245.06" cy="68.86" r="0.45" fill="#1a1a1a" />
<circle cx="229.63" cy="69.00" r="0.45" fill="#1a1a1a" />
<circle cx="228.25" cy="67.82" r="0.45" fill="#1a1a1a" />
<circle cx="245.56" cy="70.28" r="0.45" fill="#1a1a1a" />
<circle cx="243.49" cy="68.58" r="0.45" fill="#1a1a1a" />
<circle cx="244.59" cy="67.84" r="0.45" fill="#1a1a1a" />
<circle cx="236.42" cy="67.88" r="0.45" fill="#1a1a1a" />
<circle cx="234.57" cy="67.09" r="0.45" fill="#1a1a1a" />
<circle cx="226.89" cy="68.50" r="0.45" fill="#1a1a1a" />
<circle cx="248.17" cy="69.15" r="0.45" fill="#1a1a1a" />
<circle cx="243.80" cy="67.78" r="0.45" fill="#1a1a1a" />
<circle cx="253.00" cy="68.84" r="0.45" fill="#1a1a1a" />
<circle cx="243.30" cy="71.55" r="0.45" fill="#1a1a1a" />
<circle cx="247.83" cy="68.05" r="0.45" fill="#1a1a1a" />
<circle cx="249.35" cy="68.09" r="0.45" fill="#1a1a1a" />
<circle cx="253.23" cy="65.89" r="0.45" fill="#1a1a1a" />
<circle cx="254.59" cy="70.17" r="0.45" fill="#1a1a1a" />
<circle cx="250.24" cy="69.80" r="0.45" fill="#1a1a1a" />
<circle cx="239.12" cy="67.51" r="0.45" fill="#1a1a1a" />
<circle cx="237.41" cy="66.58" r="0.45" fill="#1a1a1a" />
<circle cx="227.86" cy="68.67" r="0.45" fill="#1a1a1a" />
<circle cx="247.95" cy="68.11" r="0.45" fill="#1a1a1a" />
<circle cx="245.92" cy="67.46" r="0.45" fill="#1a1a1a" />
<circle cx="254.18" cy="69.30" r="0.45" fill="#1a1a1a" />
<circle cx="242.14" cy="68.90" r="0.45" fill="#1a1a1a" />
<circle cx="242.92" cy="68.61" r="0.45" fill="#1a1a1a" />
<circle cx="246.87" cy="67.05" r="0.45" fill="#1a1a1a" />
<circle cx="230.24" cy="64.65" r="0.45" fill="#1a1a1a" />
<circle cx="230.88" cy="70.56" r="0.45" fill="#40a060" />
<circle cx="230.55" cy="69.09" r="0.45" fill="#1a1a1a" />
<circle cx="231.27" cy="68.28" r="0.45" fill="#1a1a1a" />
<circle cx="232.94" cy="68.26" r="0.45" fill="#1a1a1a" />
<circle cx="231.34" cy="69.27" r="0.45" fill="#1a1a1a" />
<circle cx="222.57" cy="67.65" r="0.45" fill="#1a1a1a" />
<circle cx="252.95" cy="68.84" r="0.45" fill="#1a1a1a" />
<circle cx="252.24" cy="67.07" r="0.45" fill="#1a1a1a" />
<circle cx="244.78" cy="68.59" r="0.45" fill="#1a1a1a" />
<circle cx="256.88" cy="65.78" r="0.45" fill="#1a1a1a" />
<circle cx="239.11" cy="69.15" r="0.45" fill="#1a1a1a" />
<circle cx="231.14" cy="69.22" r="0.45" fill="#1a1a1a" />
<circle cx="248.18" cy="68.99" r="0.45" fill="#1a1a1a" />
<circle cx="246.88" cy="66.68" r="0.45" fill="#d04040" />
<circle cx="233.39" cy="67.85" r="0.45" fill="#1a1a1a" />
<circle cx="240.10" cy="66.44" r="0.45" fill="#1a1a1a" />
<circle cx="246.26" cy="68.86" r="0.45" fill="#1a1a1a" />
<circle cx="233.50" cy="67.18" r="0.45" fill="#1a1a1a" />
<circle cx="231.43" cy="68.22" r="0.45" fill="#1a1a1a" />
<circle cx="237.76" cy="67.76" r="0.45" fill="#1a1a1a" />
<circle cx="229.32" cy="65.67" r="0.45" fill="#d04040" />
<circle cx="244.74" cy="69.32" r="0.45" fill="#1a1a1a" />
<circle cx="235.96" cy="71.58" r="0.45" fill="#1a1a1a" />
<circle cx="248.98" cy="66.82" r="0.45" fill="#1a1a1a" />
<circle cx="232.19" cy="67.96" r="0.45" fill="#1a1a1a" />
<circle cx="253.19" cy="67.07" r="0.45" fill="#1a1a1a" />
<circle cx="233.51" cy="67.02" r="0.45" fill="#1a1a1a" />
<circle cx="236.15" cy="66.29" r="0.45" fill="#1a1a1a" />
<circle cx="233.25" cy="66.98" r="0.45" fill="#1a1a1a" />
<circle cx="256.57" cy="69.00" r="0.45" fill="#1a1a1a" />
<circle cx="250.40" cy="68.79" r="0.45" fill="#1a1a1a" />
<circle cx="237.93" cy="69.59" r="0.45" fill="#1a1a1a" />
<circle cx="244.49" cy="69.09" r="0.45" fill="#1a1a1a" />
<circle cx="250.30" cy="69.60" r="0.45" fill="#1a1a1a" />
<circle cx="233.40" cy="68.45" r="0.45" fill="#1a1a1a" />
<circle cx="233.29" cy="68.32" r="0.45" fill="#1a1a1a" />
<circle cx="227.54" cy="67.23" r="0.45" fill="#1a1a1a" />
<circle cx="252.32" cy="68.04" r="0.45" fill="#1a1a1a" />
<circle cx="236.40" cy="68.38" r="0.45" fill="#1a1a1a" />
<circle cx="233.99" cy="67.81" r="0.45" fill="#1a1a1a" />
<circle cx="254.73" cy="69.93" r="0.45" fill="#1a1a1a" />
<circle cx="240.25" cy="68.88" r="0.45" fill="#1a1a1a" />
<circle cx="235.11" cy="67.18" r="0.45" fill="#1a1a1a" />
<circle cx="237.89" cy="68.45" r="0.45" fill="#1a1a1a" />
<circle cx="224.86" cy="69.83" r="0.45" fill="#1a1a1a" />
<circle cx="230.47" cy="69.20" r="0.45" fill="#1a1a1a" />
<circle cx="254.64" cy="65.42" r="0.45" fill="#d04040" />
<circle cx="246.98" cy="67.25" r="0.45" fill="#1a1a1a" />
<circle cx="237.32" cy="67.18" r="0.45" fill="#1a1a1a" />
<circle cx="227.51" cy="67.20" r="0.45" fill="#1a1a1a" />
<circle cx="243.51" cy="68.88" r="0.45" fill="#1a1a1a" />
<circle cx="236.59" cy="68.38" r="0.45" fill="#1a1a1a" />
<circle cx="233.74" cy="67.55" r="0.45" fill="#1a1a1a" />
<circle cx="236.81" cy="67.78" r="0.45" fill="#1a1a1a" />
<circle cx="233.97" cy="71.23" r="0.45" fill="#1a1a1a" />
<circle cx="225.75" cy="67.12" r="0.45" fill="#1a1a1a" />
<circle cx="251.71" cy="67.09" r="0.45" fill="#1a1a1a" />
<circle cx="236.69" cy="68.15" r="0.45" fill="#1a1a1a" />
<circle cx="243.61" cy="69.49" r="0.45" fill="#1a1a1a" />
<circle cx="228.66" cy="68.70" r="0.45" fill="#1a1a1a" />
<circle cx="243.93" cy="69.27" r="0.45" fill="#1a1a1a" />
<circle cx="228.80" cy="68.44" r="0.45" fill="#1a1a1a" />
<circle cx="247.31" cy="68.65" r="0.45" fill="#1a1a1a" />
<circle cx="242.91" cy="70.39" r="0.45" fill="#1a1a1a" />
<circle cx="236.02" cy="67.76" r="0.45" fill="#1a1a1a" />
<circle cx="241.25" cy="67.45" r="0.45" fill="#1a1a1a" />
<circle cx="237.60" cy="66.51" r="0.45" fill="#1a1a1a" />
<circle cx="244.82" cy="67.52" r="0.45" fill="#1a1a1a" />
<circle cx="241.13" cy="65.26" r="0.45" fill="#1a1a1a" />
<circle cx="249.86" cy="68.43" r="0.45" fill="#1a1a1a" />
<circle cx="236.10" cy="65.91" r="0.45" fill="#1a1a1a" />
<circle cx="252.26" cy="68.24" r="0.45" fill="#1a1a1a" />
<circle cx="234.01" cy="66.68" r="0.45" fill="#1a1a1a" />
<circle cx="228.99" cy="66.08" r="0.45" fill="#1a1a1a" />
<circle cx="236.65" cy="67.85" r="0.45" fill="#1a1a1a" />
<circle cx="233.95" cy="67.79" r="0.45" fill="#1a1a1a" />
<circle cx="233.99" cy="69.35" r="0.45" fill="#1a1a1a" />
<circle cx="242.37" cy="67.27" r="0.45" fill="#1a1a1a" />
<circle cx="244.60" cy="68.59" r="0.45" fill="#1a1a1a" />
<circle cx="238.09" cy="69.04" r="0.45" fill="#1a1a1a" />
<circle cx="248.16" cy="65.74" r="0.45" fill="#1a1a1a" />
<circle cx="240.23" cy="70.16" r="0.45" fill="#1a1a1a" />
<circle cx="235.34" cy="68.04" r="0.45" fill="#1a1a1a" />
<circle cx="255.38" cy="69.96" r="0.45" fill="#40a060" />
<circle cx="253.38" cy="66.68" r="0.45" fill="#d04040" />
<circle cx="238.52" cy="69.97" r="0.45" fill="#1a1a1a" />
<circle cx="243.12" cy="66.64" r="0.45" fill="#1a1a1a" />
<circle cx="238.33" cy="68.07" r="0.45" fill="#1a1a1a" />
<circle cx="236.90" cy="68.74" r="0.45" fill="#1a1a1a" />
<circle cx="257.21" cy="66.30" r="0.45" fill="#1a1a1a" />
<circle cx="252.53" cy="68.35" r="0.45" fill="#1a1a1a" />
<circle cx="223.69" cy="66.15" r="0.45" fill="#1a1a1a" />
<circle cx="255.23" cy="71.34" r="0.45" fill="#1a1a1a" />
<circle cx="240.93" cy="65.71" r="0.45" fill="#1a1a1a" />
<circle cx="238.27" cy="67.63" r="0.45" fill="#1a1a1a" />
<circle cx="241.10" cy="66.65" r="0.45" fill="#1a1a1a" />
<circle cx="234.62" cy="66.03" r="0.45" fill="#1a1a1a" />
<circle cx="242.24" cy="68.88" r="0.45" fill="#1a1a1a" />
<circle cx="235.17" cy="68.03" r="0.45" fill="#1a1a1a" />
<circle cx="238.49" cy="67.61" r="0.45" fill="#1a1a1a" />
<circle cx="251.89" cy="67.15" r="0.45" fill="#1a1a1a" />
<circle cx="243.96" cy="69.05" r="0.45" fill="#1a1a1a" />
<circle cx="237.20" cy="65.87" r="0.45" fill="#1a1a1a" />
<circle cx="255.35" cy="68.66" r="0.45" fill="#1a1a1a" />
<circle cx="244.23" cy="68.17" r="0.45" fill="#1a1a1a" />
<circle cx="245.42" cy="67.43" r="0.45" fill="#1a1a1a" />
<circle cx="256.91" cy="67.26" r="0.45" fill="#1a1a1a" />
<circle cx="256.05" cy="67.40" r="0.45" fill="#1a1a1a" />
<circle cx="225.70" cy="65.41" r="0.45" fill="#1a1a1a" />
<circle cx="255.16" cy="68.23" r="0.45" fill="#1a1a1a" />
<circle cx="226.52" cy="67.50" r="0.45" fill="#1a1a1a" />
<circle cx="234.78" cy="67.04" r="0.45" fill="#1a1a1a" />
<circle cx="240.20" cy="66.98" r="0.45" fill="#1a1a1a" />
<circle cx="224.94" cy="67.09" r="0.45" fill="#1a1a1a" />
<circle cx="252.48" cy="69.60" r="0.45" fill="#1a1a1a" />
<circle cx="235.65" cy="68.39" r="0.45" fill="#1a1a1a" />
<circle cx="233.24" cy="66.97" r="0.45" fill="#1a1a1a" />
<circle cx="223.15" cy="67.03" r="0.45" fill="#1a1a1a" />
<circle cx="255.78" cy="67.53" r="0.45" fill="#1a1a1a" />
<circle cx="231.08" cy="67.10" r="0.45" fill="#1a1a1a" />
<circle cx="247.91" cy="68.20" r="0.45" fill="#1a1a1a" />
<circle cx="243.57" cy="68.33" r="0.45" fill="#1a1a1a" />
<circle cx="244.27" cy="68.82" r="0.45" fill="#1a1a1a" />
<circle cx="228.22" cy="67.73" r="0.45" fill="#1a1a1a" />
<circle cx="247.17" cy="67.97" r="0.45" fill="#1a1a1a" />
<circle cx="253.94" cy="68.38" r="0.45" fill="#1a1a1a" />
<circle cx="229.66" cy="68.22" r="0.45" fill="#1a1a1a" />
<circle cx="231.82" cy="67.35" r="0.45" fill="#1a1a1a" />
<circle cx="250.83" cy="66.82" r="0.45" fill="#1a1a1a" />
<circle cx="245.25" cy="65.63" r="0.45" fill="#d04040" />
<circle cx="236.60" cy="64.87" r="0.45" fill="#1a1a1a" />
<circle cx="235.91" cy="67.19" r="0.45" fill="#1a1a1a" />
<circle cx="254.16" cy="68.10" r="0.45" fill="#1a1a1a" />
<circle cx="231.22" cy="69.89" r="0.45" fill="#40a060" />
<circle cx="236.56" cy="65.90" r="0.45" fill="#1a1a1a" />
<circle cx="246.25" cy="68.08" r="0.45" fill="#1a1a1a" />
<circle cx="244.61" cy="68.45" r="0.45" fill="#1a1a1a" />
<circle cx="237.00" cy="70.82" r="0.45" fill="#40a060" />
<circle cx="239.60" cy="70.46" r="0.45" fill="#1a1a1a" />
<circle cx="250.74" cy="68.37" r="0.45" fill="#1a1a1a" />
<circle cx="255.32" cy="67.72" r="0.45" fill="#1a1a1a" />
<circle cx="254.38" cy="68.81" r="0.45" fill="#1a1a1a" />
<circle cx="226.21" cy="67.50" r="0.45" fill="#1a1a1a" />
<circle cx="249.07" cy="66.39" r="0.45" fill="#1a1a1a" />
<circle cx="254.53" cy="66.63" r="0.45" fill="#1a1a1a" />
<circle cx="249.69" cy="69.30" r="0.45" fill="#1a1a1a" />
<circle cx="245.79" cy="67.18" r="0.45" fill="#1a1a1a" />
<circle cx="222.77" cy="69.55" r="0.45" fill="#1a1a1a" />
<circle cx="233.94" cy="69.47" r="0.45" fill="#1a1a1a" />
<circle cx="240.51" cy="68.94" r="0.45" fill="#1a1a1a" />
<circle cx="243.33" cy="67.80" r="0.45" fill="#1a1a1a" />
<circle cx="223.74" cy="67.82" r="0.45" fill="#1a1a1a" />
<circle cx="230.68" cy="67.40" r="0.45" fill="#1a1a1a" />
<circle cx="236.59" cy="69.06" r="0.45" fill="#1a1a1a" />
<circle cx="234.11" cy="69.41" r="0.45" fill="#1a1a1a" />
<circle cx="245.99" cy="64.50" r="0.45" fill="#1a1a1a" />
<circle cx="243.57" cy="69.50" r="0.45" fill="#1a1a1a" />
<circle cx="243.59" cy="68.73" r="0.45" fill="#1a1a1a" />
<circle cx="244.62" cy="68.10" r="0.45" fill="#1a1a1a" />
<circle cx="239.64" cy="65.04" r="0.45" fill="#1a1a1a" />
<circle cx="236.67" cy="67.20" r="0.45" fill="#1a1a1a" />
<circle cx="248.61" cy="69.56" r="0.45" fill="#1a1a1a" />
<circle cx="250.29" cy="67.56" r="0.45" fill="#1a1a1a" />
<circle cx="242.04" cy="69.45" r="0.45" fill="#1a1a1a" />
<circle cx="239.69" cy="68.89" r="0.45" fill="#1a1a1a" />
<circle cx="237.29" cy="67.63" r="0.45" fill="#1a1a1a" />
<circle cx="245.25" cy="68.93" r="0.45" fill="#1a1a1a" />
<circle cx="247.86" cy="67.35" r="0.45" fill="#1a1a1a" />
<circle cx="229.03" cy="70.23" r="0.45" fill="#1a1a1a" />
<circle cx="251.34" cy="70.14" r="0.45" fill="#1a1a1a" />
<circle cx="232.83" cy="67.44" r="0.45" fill="#1a1a1a" />
<circle cx="243.09" cy="68.09" r="0.45" fill="#1a1a1a" />
<circle cx="253.94" cy="66.47" r="0.45" fill="#d04040" />
<circle cx="247.48" cy="66.74" r="0.45" fill="#1a1a1a" />
<circle cx="239.47" cy="67.39" r="0.45" fill="#1a1a1a" />
<circle cx="241.70" cy="68.61" r="0.45" fill="#1a1a1a" />
<circle cx="245.13" cy="65.44" r="0.45" fill="#1a1a1a" />
<circle cx="232.44" cy="68.88" r="0.45" fill="#1a1a1a" />
<circle cx="226.86" cy="67.77" r="0.45" fill="#1a1a1a" />
<circle cx="241.61" cy="67.47" r="0.45" fill="#1a1a1a" />
<circle cx="242.69" cy="66.77" r="0.45" fill="#1a1a1a" />
<circle cx="236.95" cy="69.52" r="0.45" fill="#1a1a1a" />
<circle cx="247.73" cy="67.65" r="0.45" fill="#1a1a1a" />
<circle cx="232.21" cy="69.63" r="0.45" fill="#1a1a1a" />
<circle cx="245.04" cy="66.73" r="0.45" fill="#1a1a1a" />
<circle cx="230.23" cy="65.40" r="0.45" fill="#1a1a1a" />
<circle cx="229.78" cy="71.43" r="0.45" fill="#1a1a1a" />
<circle cx="245.08" cy="67.80" r="0.45" fill="#1a1a1a" />
<circle cx="249.10" cy="69.94" r="0.45" fill="#40a060" />
<circle cx="229.28" cy="66.14" r="0.45" fill="#d04040" />
<circle cx="225.39" cy="66.40" r="0.45" fill="#1a1a1a" />
<circle cx="246.16" cy="66.91" r="0.45" fill="#1a1a1a" />
<circle cx="235.38" cy="67.38" r="0.45" fill="#1a1a1a" />
<circle cx="234.16" cy="64.70" r="0.45" fill="#1a1a1a" />
<circle cx="246.48" cy="68.09" r="0.45" fill="#1a1a1a" />
<circle cx="247.65" cy="67.45" r="0.45" fill="#1a1a1a" />
<circle cx="248.57" cy="68.67" r="0.45" fill="#1a1a1a" />
<circle cx="250.24" cy="67.40" r="0.45" fill="#1a1a1a" />
<circle cx="253.41" cy="68.81" r="0.45" fill="#1a1a1a" />
<circle cx="246.12" cy="68.36" r="0.45" fill="#1a1a1a" />
<circle cx="254.84" cy="67.39" r="0.45" fill="#1a1a1a" />
<circle cx="246.65" cy="67.03" r="0.45" fill="#1a1a1a" />
<circle cx="237.16" cy="67.97" r="0.45" fill="#1a1a1a" />
<circle cx="235.28" cy="68.48" r="0.45" fill="#1a1a1a" />
<circle cx="234.34" cy="67.50" r="0.45" fill="#1a1a1a" />
<circle cx="245.46" cy="69.17" r="0.45" fill="#1a1a1a" />
<circle cx="243.37" cy="70.36" r="0.45" fill="#1a1a1a" />
<circle cx="241.43" cy="69.51" r="0.45" fill="#1a1a1a" />
<circle cx="231.43" cy="69.53" r="0.45" fill="#1a1a1a" />
<circle cx="251.16" cy="67.35" r="0.45" fill="#1a1a1a" />
<circle cx="250.53" cy="66.92" r="0.45" fill="#1a1a1a" />
<circle cx="253.39" cy="67.79" r="0.45" fill="#1a1a1a" />
<circle cx="232.47" cy="65.88" r="0.45" fill="#1a1a1a" />
<circle cx="224.68" cy="68.94" r="0.45" fill="#1a1a1a" />
<circle cx="230.73" cy="66.52" r="0.45" fill="#d04040" />
<circle cx="256.69" cy="69.83" r="0.45" fill="#1a1a1a" />
<circle cx="231.12" cy="69.54" r="0.45" fill="#1a1a1a" />
<circle cx="230.00" cy="66.97" r="0.45" fill="#1a1a1a" />
<circle cx="245.47" cy="66.93" r="0.45" fill="#1a1a1a" />
<circle cx="250.98" cy="69.89" r="0.45" fill="#1a1a1a" />
<circle cx="238.70" cy="67.63" r="0.45" fill="#1a1a1a" />
<circle cx="231.43" cy="68.08" r="0.45" fill="#1a1a1a" />
<circle cx="243.84" cy="69.00" r="0.45" fill="#1a1a1a" />
<circle cx="235.46" cy="65.82" r="0.45" fill="#1a1a1a" />
<circle cx="245.90" cy="67.32" r="0.45" fill="#1a1a1a" />
<circle cx="233.43" cy="69.02" r="0.45" fill="#1a1a1a" />
<circle cx="254.21" cy="68.41" r="0.45" fill="#1a1a1a" />
<circle cx="251.38" cy="69.73" r="0.45" fill="#40a060" />
<circle cx="249.31" cy="67.78" r="0.45" fill="#1a1a1a" />
<circle cx="228.55" cy="66.11" r="0.42" fill="#888" />
<circle cx="223.75" cy="64.51" r="0.42" fill="#333" />
<circle cx="216.43" cy="68.70" r="0.42" fill="#888" />
<circle cx="227.11" cy="68.45" r="0.42" fill="#333" />
<circle cx="215.34" cy="61.96" r="0.42" fill="#888" />
<circle cx="215.03" cy="60.78" r="0.42" fill="#888" />
<circle cx="226.95" cy="67.89" r="0.42" fill="#333" />
<circle cx="226.86" cy="65.75" r="0.42" fill="#333" />
<circle cx="218.63" cy="64.20" r="0.42" fill="#888" />
<circle cx="216.31" cy="66.59" r="0.42" fill="#333" />
<circle cx="222.20" cy="63.56" r="0.42" fill="#888" />
<circle cx="228.29" cy="65.01" r="0.42" fill="#888" />
<circle cx="220.90" cy="65.82" r="0.42" fill="#333" />
<circle cx="222.46" cy="68.01" r="0.42" fill="#333" />
<circle cx="224.38" cy="69.69" r="0.42" fill="#888" />
<circle cx="213.61" cy="72.80" r="0.42" fill="#333" />
<circle cx="219.91" cy="70.28" r="0.42" fill="#333" />
<circle cx="227.13" cy="71.69" r="0.42" fill="#888" />
<circle cx="226.16" cy="66.06" r="0.42" fill="#333" />
<circle cx="221.26" cy="69.34" r="0.42" fill="#333" />
<circle cx="218.10" cy="62.12" r="0.42" fill="#888" />
<circle cx="228.27" cy="69.25" r="0.42" fill="#333" />
<circle cx="217.32" cy="62.65" r="0.42" fill="#333" />
<circle cx="215.52" cy="70.16" r="0.42" fill="#333" />
<circle cx="217.83" cy="56.80" r="0.42" fill="#888" />
<circle cx="227.58" cy="69.56" r="0.42" fill="#888" />
<circle cx="229.31" cy="65.29" r="0.42" fill="#333" />
<circle cx="224.18" cy="64.17" r="0.42" fill="#333" />
<circle cx="217.35" cy="58.13" r="0.42" fill="#333" />
<circle cx="223.65" cy="64.61" r="0.42" fill="#333" />
<circle cx="218.18" cy="68.76" r="0.42" fill="#333" />
<circle cx="224.22" cy="67.52" r="0.42" fill="#333" />
<circle cx="213.53" cy="65.33" r="0.42" fill="#333" />
<circle cx="219.49" cy="64.74" r="0.42" fill="#333" />
<circle cx="222.17" cy="66.64" r="0.42" fill="#333" />
<circle cx="228.02" cy="68.69" r="0.42" fill="#333" />
<circle cx="214.02" cy="70.52" r="0.42" fill="#333" />
<circle cx="221.55" cy="65.91" r="0.42" fill="#333" />
<circle cx="220.81" cy="65.47" r="0.42" fill="#333" />
<circle cx="214.03" cy="66.78" r="0.42" fill="#333" />
<circle cx="222.59" cy="71.03" r="0.42" fill="#333" />
<circle cx="219.91" cy="69.94" r="0.42" fill="#888" />
<circle cx="221.91" cy="66.70" r="0.42" fill="#333" />
<circle cx="229.83" cy="64.83" r="0.42" fill="#888" />
<circle cx="213.84" cy="70.47" r="0.42" fill="#333" />
<circle cx="229.28" cy="66.21" r="0.42" fill="#333" />
<circle cx="225.95" cy="71.06" r="0.42" fill="#333" />
<circle cx="216.26" cy="74.09" r="0.42" fill="#333" />
<circle cx="212.27" cy="64.87" r="0.42" fill="#333" />
<circle cx="224.73" cy="66.86" r="0.42" fill="#333" />
<circle cx="228.00" cy="64.62" r="0.42" fill="#333" />
<circle cx="228.52" cy="64.93" r="0.42" fill="#888" />
<circle cx="215.02" cy="67.87" r="0.42" fill="#888" />
<circle cx="224.25" cy="65.21" r="0.42" fill="#888" />
<circle cx="214.21" cy="62.23" r="0.42" fill="#888" />
<circle cx="224.99" cy="71.40" r="0.42" fill="#333" />
<circle cx="222.87" cy="71.40" r="0.42" fill="#888" />
<circle cx="214.03" cy="71.77" r="0.42" fill="#888" />
<circle cx="224.15" cy="67.94" r="0.42" fill="#333" />
<circle cx="227.09" cy="69.63" r="0.42" fill="#333" />
<circle cx="214.04" cy="70.44" r="0.42" fill="#888" />
<circle cx="215.33" cy="68.31" r="0.42" fill="#333" />
<circle cx="217.22" cy="66.32" r="0.42" fill="#333" />
<circle cx="227.76" cy="65.88" r="0.42" fill="#333" />
<circle cx="224.41" cy="70.63" r="0.42" fill="#333" />
<circle cx="218.16" cy="58.28" r="0.42" fill="#333" />
<circle cx="221.03" cy="72.63" r="0.42" fill="#333" />
<circle cx="215.28" cy="61.78" r="0.42" fill="#888" />
<circle cx="224.23" cy="65.29" r="0.42" fill="#333" />
<circle cx="227.21" cy="69.75" r="0.42" fill="#333" />
<circle cx="227.71" cy="67.28" r="0.42" fill="#333" />
<circle cx="215.89" cy="66.80" r="0.42" fill="#888" />
<circle cx="222.61" cy="69.98" r="0.42" fill="#333" />
<circle cx="220.42" cy="68.63" r="0.42" fill="#333" />
<circle cx="218.98" cy="67.73" r="0.42" fill="#333" />
<circle cx="218.01" cy="68.37" r="0.42" fill="#333" />
<circle cx="220.27" cy="69.17" r="0.42" fill="#333" />
<circle cx="224.08" cy="67.92" r="0.42" fill="#333" />
<circle cx="216.92" cy="64.48" r="0.42" fill="#333" />
<circle cx="221.51" cy="68.00" r="0.42" fill="#888" />
<circle cx="229.86" cy="70.42" r="0.42" fill="#888" />
<circle cx="227.70" cy="68.64" r="0.42" fill="#888" />
<circle cx="223.40" cy="65.97" r="0.42" fill="#333" />
<circle cx="226.32" cy="66.13" r="0.42" fill="#888" />
<circle cx="228.90" cy="67.24" r="0.42" fill="#888" />
<circle cx="225.31" cy="65.81" r="0.42" fill="#333" />
<circle cx="223.43" cy="65.60" r="0.42" fill="#333" />
<circle cx="213.09" cy="73.40" r="0.42" fill="#333" />
<circle cx="217.82" cy="72.96" r="0.42" fill="#333" />
<circle cx="216.38" cy="67.61" r="0.42" fill="#333" />
<circle cx="218.29" cy="68.34" r="0.42" fill="#888" />
<circle cx="220.16" cy="68.35" r="0.42" fill="#333" />
<circle cx="222.24" cy="67.32" r="0.42" fill="#333" />
<circle cx="217.43" cy="70.54" r="0.42" fill="#333" />
<circle cx="225.08" cy="61.56" r="0.42" fill="#333" />
<circle cx="228.58" cy="66.37" r="0.42" fill="#333" />
<circle cx="213.44" cy="70.97" r="0.42" fill="#888" />
<circle cx="218.43" cy="73.01" r="0.42" fill="#888" />
<circle cx="219.71" cy="69.00" r="0.42" fill="#333" />
<circle cx="228.18" cy="67.38" r="0.42" fill="#333" />
<circle cx="216.64" cy="70.71" r="0.42" fill="#333" />
<circle cx="224.68" cy="68.26" r="0.42" fill="#333" />
<circle cx="219.19" cy="69.69" r="0.42" fill="#888" />
<circle cx="223.67" cy="72.10" r="0.42" fill="#333" />
<circle cx="225.21" cy="71.77" r="0.42" fill="#333" />
<circle cx="226.57" cy="67.20" r="0.42" fill="#888" />
<circle cx="218.14" cy="69.80" r="0.42" fill="#333" />
<circle cx="227.76" cy="69.15" r="0.42" fill="#333" />
<circle cx="228.61" cy="68.46" r="0.42" fill="#888" />
<circle cx="223.68" cy="70.74" r="0.42" fill="#333" />
<circle cx="212.00" cy="54.00" r="0.42" fill="#999" />
<circle cx="216.00" cy="52.50" r="0.42" fill="#999" />
<circle cx="219.00" cy="55.00" r="0.42" fill="#999" />
<circle cx="222.00" cy="57.00" r="0.42" fill="#999" />
<circle cx="213.50" cy="82.00" r="0.42" fill="#999" />
<circle cx="217.00" cy="84.00" r="0.42" fill="#999" />
<circle cx="228.00" cy="83.00" r="0.42" fill="#999" />
<circle cx="245.00" cy="79.00" r="0.42" fill="#999" />
<circle cx="225.00" cy="104.00" r="0.42" fill="#999" />
<circle cx="249.00" cy="86.00" r="0.42" fill="#999" />
<circle cx="255.00" cy="74.00" r="0.42" fill="#999" />
<circle cx="214.00" cy="60.00" r="0.42" fill="#999" />
<circle cx="215.00" cy="77.00" r="0.42" fill="#999" />
<circle cx="218.00" cy="62.00" r="0.42" fill="#999" />
<circle cx="220.00" cy="75.00" r="0.42" fill="#999" />
<rect x="294.40" y="20.50" width="95.70" height="95.30" fill="none" stroke="#707070" stroke-width="1.0" />
<text x="342.60" y="14.90" font-size="3.55" fill="#000" text-anchor="middle" font-weight="bold" stroke="#000" stroke-width="0.15" >Keloid VS NC</text>
<line x1="292.90" y1="24.25" x2="294.40" y2="24.25" stroke="#707070" stroke-width="0.45" />
<text x="291.10" y="24.25" font-size="2.5" fill="#333" text-anchor="middle" font-weight="normal" transform="rotate(-90 291.10 24.25)" stroke="#333" stroke-width="0.12" >15</text>
<line x1="292.90" y1="42.00" x2="294.40" y2="42.00" stroke="#707070" stroke-width="0.45" />
<text x="291.10" y="42.00" font-size="2.5" fill="#333" text-anchor="middle" font-weight="normal" transform="rotate(-90 291.10 42.00)" stroke="#333" stroke-width="0.12" >10</text>
<line x1="292.90" y1="59.50" x2="294.40" y2="59.50" stroke="#707070" stroke-width="0.45" />
<text x="291.10" y="59.50" font-size="2.5" fill="#333" text-anchor="middle" font-weight="normal" transform="rotate(-90 291.10 59.50)" stroke="#333" stroke-width="0.12" >5</text>
<line x1="292.90" y1="77.10" x2="294.40" y2="77.10" stroke="#707070" stroke-width="0.45" />
<text x="291.10" y="77.10" font-size="2.5" fill="#333" text-anchor="middle" font-weight="normal" transform="rotate(-90 291.10 77.10)" stroke="#333" stroke-width="0.12" >0</text>
<line x1="292.90" y1="94.40" x2="294.40" y2="94.40" stroke="#707070" stroke-width="0.45" />
<text x="291.10" y="94.40" font-size="2.5" fill="#333" text-anchor="middle" font-weight="normal" transform="rotate(-90 291.10 94.40)" stroke="#333" stroke-width="0.12" >-5</text>
<line x1="292.90" y1="111.30" x2="294.40" y2="111.30" stroke="#707070" stroke-width="0.45" />
<text x="291.10" y="111.30" font-size="2.5" fill="#333" text-anchor="middle" font-weight="normal" transform="rotate(-90 291.10 111.30)" stroke="#333" stroke-width="0.12" >-10</text>
<line x1="299.20" y1="115.80" x2="299.20" y2="117.30" stroke="#707070" stroke-width="0.45" />
<text x="299.20" y="121.80" font-size="2.6" fill="#333" text-anchor="middle" font-weight="normal" stroke="#333" stroke-width="0.12" >-10</text>
<line x1="316.60" y1="115.80" x2="316.60" y2="117.30" stroke="#707070" stroke-width="0.45" />
<text x="316.60" y="121.80" font-size="2.6" fill="#333" text-anchor="middle" font-weight="normal" stroke="#333" stroke-width="0.12" >-5</text>
<line x1="334.00" y1="115.80" x2="334.00" y2="117.30" stroke="#707070" stroke-width="0.45" />
<text x="334.00" y="121.80" font-size="2.6" fill="#333" text-anchor="middle" font-weight="normal" stroke="#333" stroke-width="0.12" >0</text>
<line x1="351.50" y1="115.80" x2="351.50" y2="117.30" stroke="#707070" stroke-width="0.45" />
<text x="351.50" y="121.80" font-size="2.6" fill="#333" text-anchor="middle" font-weight="normal" stroke="#333" stroke-width="0.12" >5</text>
<line x1="368.90" y1="115.80" x2="368.90" y2="117.30" stroke="#707070" stroke-width="0.45" />
<text x="368.90" y="121.80" font-size="2.6" fill="#333" text-anchor="middle" font-weight="normal" stroke="#333" stroke-width="0.12" >10</text>
<line x1="386.30" y1="115.80" x2="386.30" y2="117.30" stroke="#707070" stroke-width="0.45" />
<text x="386.30" y="121.80" font-size="2.6" fill="#333" text-anchor="middle" font-weight="normal" stroke="#333" stroke-width="0.12" >15</text>
<text x="342.80" y="127.20" font-size="2.8" fill="#333" text-anchor="middle" font-weight="normal" stroke="#333" stroke-width="0.1" >log2(CPM) NC</text>
<text x="284.00" y="69.40" font-size="2.8" fill="#333" text-anchor="middle" font-weight="normal" transform="rotate(-90 284.00 69.40)" stroke="#333" stroke-width="0.1" >log2(CPM) keloid</text>
<circle cx="297.20" cy="24.10" r="0.50" fill="#777" />
<text x="299.20" y="25.00" font-size="2.6" fill="#444" text-anchor="start" font-weight="normal" stroke="#444" stroke-width="0.06" >up regulated(53)</text>
<circle cx="297.20" cy="26.95" r="0.50" fill="#777" />
<text x="299.20" y="27.85" font-size="2.6" fill="#444" text-anchor="start" font-weight="normal" stroke="#444" stroke-width="0.06" >down regulated(26)</text>
<circle cx="297.20" cy="29.80" r="0.50" fill="#111" />
<text x="299.20" y="30.70" font-size="2.6" fill="#444" text-anchor="start" font-weight="normal" stroke="#444" stroke-width="0.06" >no effective expression</text>
<line x1="295.50" y1="115.20" x2="389.50" y2="21.20" stroke="#d83038" stroke-width="0.7" stroke-dasharray="1.4,1.8"/>
<circle cx="372.82" cy="36.92" r="0.42" fill="#151515" />
<circle cx="348.35" cy="62.07" r="0.42" fill="#151515" />
<circle cx="360.18" cy="47.86" r="0.42" fill="#151515" />
<circle cx="365.02" cy="45.05" r="0.42" fill="#c04040" />
<circle cx="381.44" cy="24.62" r="0.42" fill="#c04040" />
<circle cx="370.50" cy="37.82" r="0.42" fill="#151515" />
<circle cx="359.98" cy="50.73" r="0.42" fill="#50a060" />
<circle cx="375.94" cy="34.53" r="0.42" fill="#c04040" />
<circle cx="377.58" cy="30.83" r="0.42" fill="#151515" />
<circle cx="368.37" cy="42.47" r="0.42" fill="#151515" />
<circle cx="370.05" cy="38.79" r="0.42" fill="#151515" />
<circle cx="373.97" cy="38.11" r="0.42" fill="#151515" />
<circle cx="376.25" cy="32.85" r="0.42" fill="#151515" />
<circle cx="364.64" cy="47.69" r="0.42" fill="#151515" />
<circle cx="367.22" cy="43.50" r="0.42" fill="#c04040" />
<circle cx="365.47" cy="44.25" r="0.42" fill="#151515" />
<circle cx="376.18" cy="30.98" r="0.42" fill="#151515" />
<circle cx="375.56" cy="37.77" r="0.42" fill="#c04040" />
<circle cx="347.52" cy="62.82" r="0.42" fill="#151515" />
<circle cx="368.38" cy="42.00" r="0.42" fill="#151515" />
<circle cx="381.93" cy="27.52" r="0.42" fill="#151515" />
<circle cx="374.90" cy="35.72" r="0.42" fill="#151515" />
<circle cx="353.39" cy="59.09" r="0.42" fill="#151515" />
<circle cx="383.40" cy="27.06" r="0.42" fill="#151515" />
<circle cx="371.29" cy="37.26" r="0.42" fill="#151515" />
<circle cx="359.77" cy="52.39" r="0.42" fill="#151515" />
<circle cx="351.12" cy="58.83" r="0.42" fill="#151515" />
<circle cx="362.73" cy="46.74" r="0.42" fill="#151515" />
<circle cx="349.02" cy="59.61" r="0.42" fill="#151515" />
<circle cx="382.11" cy="27.30" r="0.42" fill="#151515" />
<circle cx="355.89" cy="54.10" r="0.42" fill="#151515" />
<circle cx="356.18" cy="54.95" r="0.42" fill="#151515" />
<circle cx="375.65" cy="33.58" r="0.42" fill="#151515" />
<circle cx="355.59" cy="53.45" r="0.42" fill="#151515" />
<circle cx="353.17" cy="58.74" r="0.42" fill="#151515" />
<circle cx="375.39" cy="32.40" r="0.42" fill="#151515" />
<circle cx="358.18" cy="51.00" r="0.42" fill="#151515" />
<circle cx="353.37" cy="58.09" r="0.42" fill="#151515" />
<circle cx="369.91" cy="38.27" r="0.42" fill="#151515" />
<circle cx="355.32" cy="55.23" r="0.42" fill="#151515" />
<circle cx="361.17" cy="49.37" r="0.42" fill="#151515" />
<circle cx="379.31" cy="27.84" r="0.42" fill="#151515" />
<circle cx="358.77" cy="51.93" r="0.42" fill="#151515" />
<circle cx="346.57" cy="63.54" r="0.42" fill="#151515" />
<circle cx="352.92" cy="57.02" r="0.42" fill="#151515" />
<circle cx="372.95" cy="36.39" r="0.42" fill="#c04040" />
<circle cx="360.37" cy="51.63" r="0.42" fill="#151515" />
<circle cx="383.30" cy="25.57" r="0.42" fill="#c04040" />
<circle cx="356.31" cy="54.27" r="0.42" fill="#c04040" />
<circle cx="366.54" cy="41.32" r="0.42" fill="#151515" />
<circle cx="363.80" cy="46.43" r="0.42" fill="#151515" />
<circle cx="359.49" cy="50.69" r="0.42" fill="#151515" />
<circle cx="351.66" cy="57.56" r="0.42" fill="#151515" />
<circle cx="354.08" cy="55.98" r="0.42" fill="#151515" />
<circle cx="352.81" cy="57.07" r="0.42" fill="#50a060" />
<circle cx="360.91" cy="47.39" r="0.42" fill="#151515" />
<circle cx="381.21" cy="28.20" r="0.42" fill="#151515" />
<circle cx="379.98" cy="30.84" r="0.42" fill="#151515" />
<circle cx="357.81" cy="52.69" r="0.42" fill="#c04040" />
<circle cx="348.25" cy="62.77" r="0.42" fill="#151515" />
<circle cx="362.96" cy="45.75" r="0.42" fill="#c04040" />
<circle cx="373.15" cy="36.38" r="0.42" fill="#151515" />
<circle cx="367.97" cy="39.91" r="0.42" fill="#151515" />
<circle cx="379.66" cy="29.66" r="0.42" fill="#151515" />
<circle cx="362.63" cy="46.74" r="0.42" fill="#151515" />
<circle cx="362.17" cy="49.20" r="0.42" fill="#151515" />
<circle cx="363.03" cy="50.20" r="0.42" fill="#c04040" />
<circle cx="370.28" cy="43.79" r="0.42" fill="#151515" />
<circle cx="357.10" cy="51.82" r="0.42" fill="#151515" />
<circle cx="354.86" cy="54.23" r="0.42" fill="#50a060" />
<circle cx="378.59" cy="32.08" r="0.42" fill="#c04040" />
<circle cx="373.36" cy="33.54" r="0.42" fill="#151515" />
<circle cx="371.65" cy="37.14" r="0.42" fill="#151515" />
<circle cx="346.07" cy="63.55" r="0.42" fill="#151515" />
<circle cx="378.95" cy="29.11" r="0.42" fill="#151515" />
<circle cx="356.30" cy="53.58" r="0.42" fill="#151515" />
<circle cx="375.10" cy="33.25" r="0.42" fill="#151515" />
<circle cx="367.32" cy="44.25" r="0.42" fill="#151515" />
<circle cx="372.76" cy="36.35" r="0.42" fill="#151515" />
<circle cx="355.86" cy="55.98" r="0.42" fill="#151515" />
<circle cx="357.50" cy="53.88" r="0.42" fill="#151515" />
<circle cx="367.17" cy="41.94" r="0.42" fill="#151515" />
<circle cx="355.78" cy="56.31" r="0.42" fill="#151515" />
<circle cx="367.24" cy="45.35" r="0.42" fill="#151515" />
<circle cx="377.55" cy="32.51" r="0.42" fill="#151515" />
<circle cx="364.90" cy="45.99" r="0.42" fill="#151515" />
<circle cx="378.04" cy="34.25" r="0.42" fill="#c04040" />
<circle cx="361.95" cy="46.24" r="0.42" fill="#151515" />
<circle cx="377.71" cy="32.89" r="0.42" fill="#151515" />
<circle cx="350.90" cy="59.68" r="0.42" fill="#151515" />
<circle cx="377.20" cy="31.22" r="0.42" fill="#c04040" />
<circle cx="362.49" cy="47.30" r="0.42" fill="#151515" />
<circle cx="373.39" cy="35.04" r="0.42" fill="#151515" />
<circle cx="375.64" cy="34.88" r="0.42" fill="#50a060" />
<circle cx="372.86" cy="35.96" r="0.42" fill="#151515" />
<circle cx="361.56" cy="49.75" r="0.42" fill="#151515" />
<circle cx="361.95" cy="49.02" r="0.42" fill="#151515" />
<circle cx="348.92" cy="61.19" r="0.42" fill="#151515" />
<circle cx="374.21" cy="35.59" r="0.42" fill="#151515" />
<circle cx="378.28" cy="32.99" r="0.42" fill="#c04040" />
<circle cx="371.29" cy="39.32" r="0.42" fill="#151515" />
<circle cx="376.82" cy="32.43" r="0.42" fill="#151515" />
<circle cx="361.59" cy="49.92" r="0.42" fill="#151515" />
<circle cx="374.01" cy="36.42" r="0.42" fill="#151515" />
<circle cx="362.96" cy="45.47" r="0.42" fill="#151515" />
<circle cx="362.11" cy="45.77" r="0.42" fill="#151515" />
<circle cx="381.42" cy="29.97" r="0.42" fill="#151515" />
<circle cx="361.62" cy="51.99" r="0.42" fill="#151515" />
<circle cx="359.99" cy="52.21" r="0.42" fill="#151515" />
<circle cx="367.31" cy="43.74" r="0.42" fill="#151515" />
<circle cx="380.61" cy="29.41" r="0.42" fill="#151515" />
<circle cx="364.99" cy="44.68" r="0.42" fill="#151515" />
<circle cx="378.47" cy="30.12" r="0.42" fill="#151515" />
<circle cx="364.14" cy="46.69" r="0.42" fill="#151515" />
<circle cx="366.80" cy="44.18" r="0.42" fill="#151515" />
<circle cx="362.72" cy="45.35" r="0.42" fill="#c04040" />
<circle cx="372.85" cy="34.81" r="0.42" fill="#151515" />
<circle cx="351.56" cy="57.62" r="0.42" fill="#151515" />
<circle cx="349.79" cy="60.49" r="0.42" fill="#c04040" />
<circle cx="375.45" cy="33.94" r="0.42" fill="#151515" />
<circle cx="348.79" cy="60.25" r="0.42" fill="#151515" />
<circle cx="348.78" cy="59.14" r="0.42" fill="#151515" />
<circle cx="363.33" cy="42.24" r="0.42" fill="#151515" />
<circle cx="379.59" cy="27.83" r="0.42" fill="#50a060" />
<circle cx="360.18" cy="49.67" r="0.42" fill="#151515" />
<circle cx="357.88" cy="52.10" r="0.42" fill="#151515" />
<circle cx="359.36" cy="50.55" r="0.42" fill="#151515" />
<circle cx="366.77" cy="46.10" r="0.42" fill="#151515" />
<circle cx="348.62" cy="60.41" r="0.42" fill="#151515" />
<circle cx="379.06" cy="33.68" r="0.42" fill="#151515" />
<circle cx="355.01" cy="56.70" r="0.42" fill="#151515" />
<circle cx="365.05" cy="45.53" r="0.42" fill="#151515" />
<circle cx="369.41" cy="38.86" r="0.42" fill="#151515" />
<circle cx="381.23" cy="30.72" r="0.42" fill="#151515" />
<circle cx="348.62" cy="60.68" r="0.42" fill="#151515" />
<circle cx="368.73" cy="42.92" r="0.42" fill="#151515" />
<circle cx="357.83" cy="52.51" r="0.42" fill="#151515" />
<circle cx="377.17" cy="31.67" r="0.42" fill="#151515" />
<circle cx="364.69" cy="46.75" r="0.42" fill="#151515" />
<circle cx="348.92" cy="60.46" r="0.42" fill="#151515" />
<circle cx="371.40" cy="41.35" r="0.42" fill="#c04040" />
<circle cx="369.86" cy="41.01" r="0.42" fill="#151515" />
<circle cx="381.34" cy="26.25" r="0.42" fill="#151515" />
<circle cx="372.64" cy="36.39" r="0.42" fill="#151515" />
<circle cx="358.66" cy="52.01" r="0.42" fill="#50a060" />
<circle cx="381.18" cy="31.51" r="0.42" fill="#151515" />
<circle cx="350.82" cy="61.28" r="0.42" fill="#151515" />
<circle cx="363.21" cy="48.22" r="0.42" fill="#151515" />
<circle cx="357.21" cy="54.62" r="0.42" fill="#50a060" />
<circle cx="348.87" cy="59.90" r="0.42" fill="#151515" />
<circle cx="348.18" cy="62.44" r="0.42" fill="#151515" />
<circle cx="369.35" cy="39.62" r="0.42" fill="#151515" />
<circle cx="368.57" cy="43.24" r="0.42" fill="#151515" />
<circle cx="378.53" cy="34.11" r="0.42" fill="#50a060" />
<circle cx="377.06" cy="34.37" r="0.42" fill="#c04040" />
<circle cx="361.91" cy="47.91" r="0.42" fill="#151515" />
<circle cx="355.86" cy="53.52" r="0.42" fill="#151515" />
<circle cx="374.56" cy="35.25" r="0.42" fill="#151515" />
<circle cx="372.82" cy="39.23" r="0.42" fill="#50a060" />
<circle cx="381.37" cy="30.43" r="0.42" fill="#151515" />
<circle cx="381.92" cy="26.89" r="0.42" fill="#151515" />
<circle cx="375.34" cy="34.46" r="0.42" fill="#151515" />
<circle cx="381.59" cy="29.80" r="0.42" fill="#151515" />
<circle cx="369.91" cy="41.01" r="0.42" fill="#151515" />
<circle cx="350.28" cy="60.45" r="0.42" fill="#151515" />
<circle cx="378.67" cy="32.22" r="0.42" fill="#151515" />
<circle cx="381.41" cy="30.51" r="0.42" fill="#151515" />
<circle cx="360.56" cy="49.84" r="0.42" fill="#151515" />
<circle cx="372.02" cy="39.22" r="0.42" fill="#151515" />
<circle cx="356.81" cy="53.59" r="0.42" fill="#151515" />
<circle cx="354.07" cy="56.21" r="0.42" fill="#c04040" />
<circle cx="368.52" cy="40.29" r="0.42" fill="#c04040" />
<circle cx="368.24" cy="42.22" r="0.42" fill="#151515" />
<circle cx="347.80" cy="60.31" r="0.42" fill="#151515" />
<circle cx="350.66" cy="58.87" r="0.42" fill="#151515" />
<circle cx="360.88" cy="48.50" r="0.42" fill="#151515" />
<circle cx="372.26" cy="38.20" r="0.42" fill="#151515" />
<circle cx="360.07" cy="50.69" r="0.42" fill="#151515" />
<circle cx="379.64" cy="29.54" r="0.42" fill="#c04040" />
<circle cx="379.84" cy="30.26" r="0.42" fill="#50a060" />
<circle cx="366.22" cy="43.07" r="0.42" fill="#151515" />
<circle cx="353.47" cy="56.37" r="0.42" fill="#151515" />
<circle cx="366.61" cy="42.74" r="0.42" fill="#151515" />
<circle cx="355.07" cy="55.65" r="0.42" fill="#50a060" />
<circle cx="356.51" cy="54.67" r="0.42" fill="#151515" />
<circle cx="346.87" cy="61.89" r="0.42" fill="#151515" />
<circle cx="365.94" cy="44.54" r="0.42" fill="#151515" />
<circle cx="356.09" cy="52.08" r="0.42" fill="#151515" />
<circle cx="353.04" cy="56.93" r="0.42" fill="#151515" />
<circle cx="367.03" cy="43.34" r="0.42" fill="#151515" />
<circle cx="380.23" cy="31.41" r="0.42" fill="#151515" />
<circle cx="369.83" cy="41.14" r="0.42" fill="#151515" />
<circle cx="373.95" cy="37.06" r="0.42" fill="#151515" />
<circle cx="383.42" cy="27.00" r="0.42" fill="#c04040" />
<circle cx="370.65" cy="38.40" r="0.42" fill="#151515" />
<circle cx="377.45" cy="30.06" r="0.42" fill="#151515" />
<circle cx="381.28" cy="32.15" r="0.42" fill="#151515" />
<circle cx="362.92" cy="47.31" r="0.42" fill="#c04040" />
<circle cx="356.71" cy="53.07" r="0.42" fill="#50a060" />
<circle cx="360.56" cy="47.27" r="0.42" fill="#50a060" />
<circle cx="354.85" cy="55.39" r="0.42" fill="#151515" />
<circle cx="383.91" cy="27.37" r="0.42" fill="#151515" />
<circle cx="365.62" cy="41.86" r="0.42" fill="#151515" />
<circle cx="375.38" cy="34.66" r="0.42" fill="#151515" />
<circle cx="354.89" cy="53.13" r="0.42" fill="#151515" />
<circle cx="350.45" cy="57.56" r="0.42" fill="#151515" />
<circle cx="360.74" cy="51.23" r="0.42" fill="#151515" />
<circle cx="375.18" cy="38.03" r="0.42" fill="#50a060" />
<circle cx="378.08" cy="34.82" r="0.42" fill="#151515" />
<circle cx="378.22" cy="30.57" r="0.42" fill="#151515" />
<circle cx="369.65" cy="37.86" r="0.42" fill="#151515" />
<circle cx="379.55" cy="31.52" r="0.42" fill="#151515" />
<circle cx="382.66" cy="23.91" r="0.42" fill="#50a060" />
<circle cx="382.92" cy="26.39" r="0.42" fill="#151515" />
<circle cx="356.99" cy="53.56" r="0.42" fill="#151515" />
<circle cx="364.81" cy="44.29" r="0.42" fill="#151515" />
<circle cx="366.09" cy="45.75" r="0.42" fill="#151515" />
<circle cx="362.36" cy="46.44" r="0.42" fill="#151515" />
<circle cx="376.86" cy="31.72" r="0.42" fill="#151515" />
<circle cx="362.89" cy="43.95" r="0.42" fill="#c04040" />
<circle cx="371.88" cy="38.81" r="0.42" fill="#151515" />
<circle cx="378.35" cy="30.52" r="0.42" fill="#151515" />
<circle cx="346.29" cy="63.44" r="0.42" fill="#50a060" />
<circle cx="377.52" cy="32.50" r="0.42" fill="#151515" />
<circle cx="370.17" cy="38.57" r="0.42" fill="#151515" />
<circle cx="360.91" cy="49.43" r="0.42" fill="#151515" />
<circle cx="370.69" cy="39.15" r="0.42" fill="#151515" />
<circle cx="373.61" cy="36.99" r="0.42" fill="#151515" />
<circle cx="372.18" cy="38.08" r="0.42" fill="#151515" />
<circle cx="348.17" cy="61.14" r="0.42" fill="#151515" />
<circle cx="354.29" cy="55.22" r="0.42" fill="#151515" />
<circle cx="355.89" cy="57.72" r="0.42" fill="#151515" />
<circle cx="370.36" cy="40.78" r="0.42" fill="#151515" />
<circle cx="382.48" cy="26.62" r="0.42" fill="#151515" />
<circle cx="383.61" cy="27.41" r="0.42" fill="#151515" />
<circle cx="367.36" cy="45.18" r="0.42" fill="#c04040" />
<circle cx="353.93" cy="57.57" r="0.42" fill="#151515" />
<circle cx="356.94" cy="52.51" r="0.42" fill="#151515" />
<circle cx="350.82" cy="56.45" r="0.42" fill="#151515" />
<circle cx="361.78" cy="47.28" r="0.42" fill="#151515" />
<circle cx="380.35" cy="29.36" r="0.42" fill="#151515" />
<circle cx="364.30" cy="45.20" r="0.42" fill="#151515" />
<circle cx="361.22" cy="47.69" r="0.42" fill="#151515" />
<circle cx="367.17" cy="41.09" r="0.42" fill="#151515" />
<circle cx="380.81" cy="27.81" r="0.42" fill="#151515" />
<circle cx="348.88" cy="61.13" r="0.42" fill="#151515" />
<circle cx="372.98" cy="35.54" r="0.42" fill="#151515" />
<circle cx="380.25" cy="29.19" r="0.42" fill="#151515" />
<circle cx="375.33" cy="35.93" r="0.42" fill="#50a060" />
<circle cx="382.39" cy="27.89" r="0.42" fill="#151515" />
<circle cx="352.66" cy="55.72" r="0.42" fill="#c04040" />
<circle cx="362.37" cy="46.64" r="0.42" fill="#151515" />
<circle cx="371.48" cy="38.04" r="0.42" fill="#151515" />
<circle cx="367.98" cy="44.43" r="0.42" fill="#151515" />
<circle cx="383.25" cy="25.19" r="0.42" fill="#151515" />
<circle cx="361.93" cy="45.97" r="0.42" fill="#151515" />
<circle cx="373.91" cy="35.67" r="0.42" fill="#151515" />
<circle cx="369.10" cy="39.81" r="0.42" fill="#151515" />
<circle cx="376.86" cy="32.68" r="0.42" fill="#151515" />
<circle cx="379.78" cy="30.87" r="0.42" fill="#151515" />
<circle cx="374.92" cy="35.68" r="0.42" fill="#c04040" />
<circle cx="358.77" cy="52.33" r="0.42" fill="#151515" />
<circle cx="382.87" cy="28.04" r="0.42" fill="#151515" />
<circle cx="382.07" cy="27.71" r="0.42" fill="#151515" />
<circle cx="359.66" cy="49.69" r="0.42" fill="#151515" />
<circle cx="362.43" cy="47.83" r="0.42" fill="#151515" />
<circle cx="382.75" cy="27.14" r="0.42" fill="#151515" />
<circle cx="364.53" cy="46.44" r="0.42" fill="#151515" />
<circle cx="371.33" cy="38.90" r="0.42" fill="#50a060" />
<circle cx="375.58" cy="33.18" r="0.42" fill="#151515" />
<circle cx="368.50" cy="40.34" r="0.42" fill="#151515" />
<circle cx="361.26" cy="46.62" r="0.42" fill="#151515" />
<circle cx="367.44" cy="42.08" r="0.42" fill="#151515" />
<circle cx="376.08" cy="35.90" r="0.42" fill="#c04040" />
<circle cx="378.02" cy="30.75" r="0.42" fill="#151515" />
<circle cx="357.52" cy="51.93" r="0.42" fill="#151515" />
<circle cx="349.46" cy="58.22" r="0.42" fill="#151515" />
<circle cx="363.14" cy="46.14" r="0.42" fill="#151515" />
<circle cx="351.27" cy="58.00" r="0.42" fill="#151515" />
<circle cx="371.21" cy="40.74" r="0.42" fill="#151515" />
<circle cx="376.20" cy="31.09" r="0.42" fill="#151515" />
<circle cx="360.46" cy="51.66" r="0.42" fill="#151515" />
<circle cx="377.29" cy="32.17" r="0.42" fill="#151515" />
<circle cx="367.53" cy="43.23" r="0.42" fill="#151515" />
<circle cx="372.48" cy="38.15" r="0.42" fill="#151515" />
<circle cx="349.29" cy="60.26" r="0.42" fill="#151515" />
<circle cx="366.44" cy="44.84" r="0.42" fill="#151515" />
<circle cx="362.80" cy="45.48" r="0.42" fill="#151515" />
<circle cx="357.84" cy="53.59" r="0.42" fill="#151515" />
<circle cx="352.94" cy="54.95" r="0.42" fill="#151515" />
<circle cx="375.48" cy="31.42" r="0.42" fill="#151515" />
<circle cx="375.09" cy="34.90" r="0.42" fill="#151515" />
<circle cx="371.75" cy="38.81" r="0.42" fill="#151515" />
<circle cx="373.70" cy="35.77" r="0.42" fill="#151515" />
<circle cx="357.89" cy="53.91" r="0.42" fill="#151515" />
<circle cx="357.81" cy="53.00" r="0.42" fill="#151515" />
<circle cx="355.88" cy="55.93" r="0.42" fill="#151515" />
<circle cx="377.16" cy="34.05" r="0.42" fill="#151515" />
<circle cx="373.55" cy="38.94" r="0.42" fill="#151515" />
<circle cx="346.23" cy="64.98" r="0.42" fill="#151515" />
<circle cx="352.42" cy="57.50" r="0.42" fill="#151515" />
<circle cx="368.37" cy="42.13" r="0.42" fill="#151515" />
<circle cx="348.08" cy="62.25" r="0.42" fill="#151515" />
<circle cx="371.05" cy="38.33" r="0.42" fill="#151515" />
<circle cx="360.05" cy="49.03" r="0.42" fill="#151515" />
<circle cx="355.29" cy="54.29" r="0.42" fill="#151515" />
<circle cx="377.39" cy="32.26" r="0.42" fill="#151515" />
<circle cx="347.54" cy="62.38" r="0.42" fill="#151515" />
<circle cx="363.55" cy="48.33" r="0.42" fill="#151515" />
<circle cx="369.45" cy="41.34" r="0.42" fill="#151515" />
<circle cx="366.81" cy="42.31" r="0.42" fill="#151515" />
<circle cx="383.85" cy="25.60" r="0.42" fill="#151515" />
<circle cx="382.68" cy="25.29" r="0.42" fill="#c04040" />
<circle cx="365.55" cy="48.18" r="0.42" fill="#50a060" />
<circle cx="364.67" cy="44.40" r="0.42" fill="#151515" />
<circle cx="360.46" cy="47.47" r="0.42" fill="#151515" />
<circle cx="362.77" cy="47.04" r="0.42" fill="#151515" />
<circle cx="366.96" cy="43.98" r="0.42" fill="#151515" />
<circle cx="354.83" cy="54.89" r="0.42" fill="#151515" />
<circle cx="368.56" cy="40.52" r="0.42" fill="#151515" />
<circle cx="383.08" cy="26.87" r="0.42" fill="#151515" />
<circle cx="374.36" cy="32.11" r="0.42" fill="#151515" />
<circle cx="349.14" cy="60.92" r="0.42" fill="#151515" />
<circle cx="374.34" cy="35.88" r="0.42" fill="#151515" />
<circle cx="357.45" cy="52.01" r="0.42" fill="#151515" />
<circle cx="383.71" cy="26.98" r="0.42" fill="#151515" />
<circle cx="348.30" cy="62.32" r="0.42" fill="#151515" />
<circle cx="377.24" cy="33.97" r="0.42" fill="#151515" />
<circle cx="350.88" cy="59.78" r="0.42" fill="#151515" />
<circle cx="365.31" cy="45.21" r="0.42" fill="#151515" />
<circle cx="380.97" cy="29.49" r="0.42" fill="#151515" />
<circle cx="351.99" cy="56.43" r="0.42" fill="#50a060" />
<circle cx="368.67" cy="40.33" r="0.42" fill="#151515" />
<circle cx="347.19" cy="62.77" r="0.42" fill="#151515" />
<circle cx="373.93" cy="39.90" r="0.42" fill="#151515" />
<circle cx="374.71" cy="33.92" r="0.42" fill="#151515" />
<circle cx="377.50" cy="32.92" r="0.42" fill="#c04040" />
<circle cx="355.49" cy="53.86" r="0.42" fill="#151515" />
<circle cx="361.87" cy="50.86" r="0.42" fill="#151515" />
<circle cx="365.03" cy="45.13" r="0.42" fill="#c04040" />
<circle cx="380.18" cy="29.27" r="0.42" fill="#151515" />
<circle cx="370.88" cy="39.00" r="0.42" fill="#151515" />
<circle cx="365.80" cy="43.57" r="0.42" fill="#151515" />
<circle cx="380.76" cy="28.48" r="0.42" fill="#151515" />
<circle cx="350.96" cy="58.41" r="0.42" fill="#151515" />
<circle cx="364.76" cy="44.83" r="0.42" fill="#151515" />
<circle cx="371.30" cy="38.28" r="0.42" fill="#c04040" />
<circle cx="374.43" cy="34.06" r="0.42" fill="#c04040" />
<circle cx="365.28" cy="42.96" r="0.42" fill="#151515" />
<circle cx="356.51" cy="54.76" r="0.42" fill="#151515" />
<circle cx="373.28" cy="35.93" r="0.42" fill="#151515" />
<circle cx="369.96" cy="40.18" r="0.42" fill="#c04040" />
<circle cx="356.46" cy="54.58" r="0.42" fill="#151515" />
<circle cx="376.67" cy="33.25" r="0.42" fill="#151515" />
<circle cx="371.21" cy="38.77" r="0.42" fill="#c04040" />
<circle cx="383.18" cy="26.41" r="0.42" fill="#151515" />
<circle cx="348.01" cy="63.02" r="0.42" fill="#151515" />
<circle cx="355.71" cy="54.61" r="0.42" fill="#151515" />
<circle cx="381.61" cy="26.30" r="0.42" fill="#151515" />
<circle cx="353.03" cy="54.48" r="0.42" fill="#c04040" />
<circle cx="375.58" cy="37.52" r="0.42" fill="#151515" />
<circle cx="354.40" cy="57.97" r="0.42" fill="#151515" />
<circle cx="353.42" cy="55.90" r="0.42" fill="#151515" />
<circle cx="380.20" cy="29.74" r="0.42" fill="#151515" />
<circle cx="346.16" cy="64.94" r="0.42" fill="#151515" />
<circle cx="366.45" cy="42.06" r="0.42" fill="#151515" />
<circle cx="369.80" cy="40.38" r="0.42" fill="#c04040" />
<circle cx="368.02" cy="41.42" r="0.42" fill="#151515" />
<circle cx="362.54" cy="49.85" r="0.42" fill="#c04040" />
<circle cx="378.12" cy="31.99" r="0.42" fill="#151515" />
<circle cx="364.82" cy="46.70" r="0.42" fill="#151515" />
<circle cx="363.74" cy="47.72" r="0.42" fill="#50a060" />
<circle cx="383.19" cy="25.51" r="0.42" fill="#c04040" />
<circle cx="374.63" cy="34.98" r="0.42" fill="#151515" />
<circle cx="378.77" cy="32.34" r="0.42" fill="#151515" />
<circle cx="375.77" cy="35.06" r="0.42" fill="#50a060" />
<circle cx="370.23" cy="42.23" r="0.42" fill="#c04040" />
<circle cx="349.69" cy="59.97" r="0.42" fill="#50a060" />
<circle cx="373.30" cy="35.27" r="0.42" fill="#151515" />
<circle cx="362.94" cy="46.04" r="0.42" fill="#151515" />
<circle cx="350.48" cy="53.58" r="0.42" fill="#444" />
<circle cx="353.07" cy="61.18" r="0.42" fill="#999" />
<circle cx="340.01" cy="70.91" r="0.42" fill="#444" />
<circle cx="350.28" cy="57.80" r="0.42" fill="#444" />
<circle cx="343.30" cy="59.16" r="0.42" fill="#444" />
<circle cx="341.00" cy="69.84" r="0.42" fill="#999" />
<circle cx="342.91" cy="67.64" r="0.42" fill="#999" />
<circle cx="346.87" cy="54.99" r="0.42" fill="#999" />
<circle cx="342.62" cy="64.91" r="0.42" fill="#444" />
<circle cx="339.64" cy="63.09" r="0.42" fill="#444" />
<circle cx="344.45" cy="70.36" r="0.42" fill="#444" />
<circle cx="355.36" cy="54.70" r="0.42" fill="#444" />
<circle cx="342.10" cy="70.22" r="0.42" fill="#444" />
<circle cx="341.57" cy="66.60" r="0.42" fill="#999" />
<circle cx="339.94" cy="61.32" r="0.42" fill="#444" />
<circle cx="351.19" cy="57.72" r="0.42" fill="#444" />
<circle cx="337.04" cy="66.13" r="0.42" fill="#444" />
<circle cx="341.56" cy="71.32" r="0.42" fill="#444" />
<circle cx="348.03" cy="65.47" r="0.42" fill="#444" />
<circle cx="350.05" cy="58.77" r="0.42" fill="#444" />
<circle cx="338.70" cy="62.38" r="0.42" fill="#999" />
<circle cx="349.91" cy="58.20" r="0.42" fill="#999" />
<circle cx="342.41" cy="60.77" r="0.42" fill="#444" />
<circle cx="345.18" cy="66.84" r="0.42" fill="#444" />
<circle cx="354.68" cy="59.50" r="0.42" fill="#999" />
<circle cx="337.10" cy="68.75" r="0.42" fill="#444" />
<circle cx="349.58" cy="58.28" r="0.42" fill="#444" />
<circle cx="340.20" cy="70.19" r="0.42" fill="#444" />
<circle cx="349.36" cy="64.15" r="0.42" fill="#444" />
<circle cx="338.39" cy="71.67" r="0.42" fill="#444" />
<circle cx="349.22" cy="63.82" r="0.42" fill="#444" />
<circle cx="353.12" cy="55.47" r="0.42" fill="#999" />
<circle cx="343.59" cy="66.73" r="0.42" fill="#444" />
<circle cx="351.87" cy="57.78" r="0.42" fill="#444" />
<circle cx="346.70" cy="55.12" r="0.42" fill="#444" />
<circle cx="352.02" cy="58.42" r="0.42" fill="#444" />
<circle cx="351.41" cy="57.26" r="0.42" fill="#444" />
<circle cx="340.77" cy="60.30" r="0.42" fill="#444" />
<circle cx="349.01" cy="61.96" r="0.42" fill="#999" />
<circle cx="337.49" cy="65.61" r="0.42" fill="#999" />
<circle cx="345.05" cy="55.20" r="0.42" fill="#444" />
<circle cx="350.37" cy="54.78" r="0.42" fill="#444" />
<circle cx="345.85" cy="56.30" r="0.42" fill="#444" />
<circle cx="345.09" cy="55.25" r="0.42" fill="#444" />
<circle cx="343.54" cy="61.91" r="0.42" fill="#999" />
<circle cx="347.32" cy="54.36" r="0.42" fill="#444" />
<circle cx="351.01" cy="63.69" r="0.42" fill="#999" />
<circle cx="338.65" cy="70.93" r="0.42" fill="#444" />
<circle cx="353.36" cy="57.04" r="0.42" fill="#444" />
<circle cx="341.67" cy="70.56" r="0.42" fill="#444" />
<circle cx="350.76" cy="54.41" r="0.42" fill="#444" />
<circle cx="349.43" cy="59.86" r="0.42" fill="#444" />
<circle cx="349.23" cy="62.78" r="0.42" fill="#444" />
<circle cx="345.67" cy="67.07" r="0.42" fill="#444" />
<circle cx="341.06" cy="62.48" r="0.42" fill="#444" />
<circle cx="349.20" cy="55.76" r="0.42" fill="#999" />
<circle cx="353.22" cy="59.99" r="0.42" fill="#999" />
<circle cx="351.10" cy="64.08" r="0.42" fill="#999" />
<circle cx="344.34" cy="65.90" r="0.42" fill="#444" />
<circle cx="354.99" cy="57.43" r="0.42" fill="#444" />
<circle cx="348.61" cy="57.11" r="0.42" fill="#999" />
<circle cx="340.44" cy="71.99" r="0.42" fill="#444" />
<circle cx="340.91" cy="71.26" r="0.42" fill="#444" />
<circle cx="344.44" cy="59.52" r="0.42" fill="#444" />
<circle cx="339.66" cy="68.73" r="0.42" fill="#444" />
<circle cx="348.35" cy="57.90" r="0.42" fill="#444" />
<circle cx="347.46" cy="66.52" r="0.42" fill="#444" />
<circle cx="355.22" cy="55.83" r="0.42" fill="#444" />
<circle cx="346.68" cy="64.05" r="0.42" fill="#999" />
<circle cx="339.77" cy="64.13" r="0.42" fill="#444" />
<circle cx="344.47" cy="69.88" r="0.42" fill="#444" />
<circle cx="341.74" cy="70.90" r="0.42" fill="#444" />
<circle cx="337.51" cy="70.38" r="0.42" fill="#444" />
<circle cx="338.31" cy="62.17" r="0.40" fill="#444" />
<circle cx="338.47" cy="67.25" r="0.40" fill="#444" />
<circle cx="338.82" cy="63.15" r="0.40" fill="#444" />
<circle cx="338.62" cy="66.37" r="0.40" fill="#444" />
<circle cx="338.78" cy="64.90" r="0.40" fill="#444" />
<circle cx="338.61" cy="60.87" r="0.40" fill="#444" />
<circle cx="338.45" cy="64.94" r="0.40" fill="#444" />
<circle cx="338.65" cy="66.01" r="0.40" fill="#444" />
<circle cx="338.84" cy="67.22" r="0.40" fill="#444" />
<circle cx="338.42" cy="60.57" r="0.40" fill="#444" />
<circle cx="341.00" cy="70.50" r="0.40" fill="#666" />
<circle cx="343.00" cy="70.80" r="0.40" fill="#666" />
<circle cx="345.00" cy="70.60" r="0.40" fill="#666" />
<circle cx="347.00" cy="70.90" r="0.40" fill="#666" />
<rect x="22.40" y="158.60" width="94.80" height="95.70" fill="none" stroke="#707070" stroke-width="1.0" />
<text x="70.20" y="152.90" font-size="3.55" fill="#000" text-anchor="middle" font-weight="bold" stroke="#000" stroke-width="0.15" >Keloid VS NC</text>
<line x1="20.90" y1="162.30" x2="22.40" y2="162.30" stroke="#707070" stroke-width="0.45" />
<text x="19.00" y="162.30" font-size="2.5" fill="#333" text-anchor="middle" font-weight="normal" transform="rotate(-90 19.00 162.30)" stroke="#333" stroke-width="0.12" >15</text>
<line x1="20.90" y1="191.70" x2="22.40" y2="191.70" stroke="#707070" stroke-width="0.45" />
<text x="19.00" y="191.70" font-size="2.5" fill="#333" text-anchor="middle" font-weight="normal" transform="rotate(-90 19.00 191.70)" stroke="#333" stroke-width="0.12" >10</text>
<line x1="20.90" y1="221.10" x2="22.40" y2="221.10" stroke="#707070" stroke-width="0.45" />
<text x="19.00" y="221.10" font-size="2.5" fill="#333" text-anchor="middle" font-weight="normal" transform="rotate(-90 19.00 221.10)" stroke="#333" stroke-width="0.12" >5</text>
<line x1="20.90" y1="250.20" x2="22.40" y2="250.20" stroke="#707070" stroke-width="0.45" />
<text x="19.00" y="250.20" font-size="2.5" fill="#333" text-anchor="middle" font-weight="normal" transform="rotate(-90 19.00 250.20)" stroke="#333" stroke-width="0.12" >0</text>
<line x1="34.50" y1="254.30" x2="34.50" y2="255.80" stroke="#707070" stroke-width="0.45" />
<text x="34.50" y="259.60" font-size="2.6" fill="#333" text-anchor="middle" font-weight="normal" stroke="#333" stroke-width="0.12" >-4</text>
<line x1="52.20" y1="254.30" x2="52.20" y2="255.80" stroke="#707070" stroke-width="0.45" />
<text x="52.20" y="259.60" font-size="2.6" fill="#333" text-anchor="middle" font-weight="normal" stroke="#333" stroke-width="0.12" >-2</text>
<line x1="70.00" y1="254.30" x2="70.00" y2="255.80" stroke="#707070" stroke-width="0.45" />
<text x="70.00" y="259.60" font-size="2.6" fill="#333" text-anchor="middle" font-weight="normal" stroke="#333" stroke-width="0.12" >0</text>
<line x1="87.70" y1="254.30" x2="87.70" y2="255.80" stroke="#707070" stroke-width="0.45" />
<text x="87.70" y="259.60" font-size="2.6" fill="#333" text-anchor="middle" font-weight="normal" stroke="#333" stroke-width="0.12" >2</text>
<line x1="105.50" y1="254.30" x2="105.50" y2="255.80" stroke="#707070" stroke-width="0.45" />
<text x="105.50" y="259.60" font-size="2.6" fill="#333" text-anchor="middle" font-weight="normal" stroke="#333" stroke-width="0.12" >4</text>
<text x="69.50" y="266.00" font-size="2.8" fill="#333" text-anchor="middle" font-weight="normal" stroke="#333" stroke-width="0.1" >log2(Fold Change)</text>
<text x="12.80" y="205.00" font-size="2.8" fill="#333" text-anchor="middle" font-weight="normal" transform="rotate(-90 12.80 205.00)" stroke="#333" stroke-width="0.1" >-log10(pvalue)</text>
<circle cx="24.90" cy="162.20" r="0.50" fill="#777" />
<text x="26.90" y="163.10" font-size="2.6" fill="#444" text-anchor="start" font-weight="normal" stroke="#444" stroke-width="0.06" >up regulated(53)</text>
<circle cx="24.90" cy="165.05" r="0.50" fill="#777" />
<text x="26.90" y="165.95" font-size="2.6" fill="#444" text-anchor="start" font-weight="normal" stroke="#444" stroke-width="0.06" >down regulated(26)</text>
<circle cx="24.90" cy="167.90" r="0.50" fill="#111" />
<text x="26.90" y="168.80" font-size="2.6" fill="#444" text-anchor="start" font-weight="normal" stroke="#444" stroke-width="0.06" >no effective expression</text>
<line x1="67.70" y1="163.30" x2="67.70" y2="243.00" stroke="#e04a2a" stroke-width="0.55" stroke-dasharray="0.9,1.1"/>
<line x1="72.30" y1="163.30" x2="72.30" y2="243.00" stroke="#e04a2a" stroke-width="0.55" stroke-dasharray="0.9,1.1"/>
<line x1="22.40" y1="242.80" x2="117.20" y2="242.80" stroke="#333" stroke-width="0.5" stroke-dasharray="0.8,1.2"/>
<circle cx="65.22" cy="245.42" r="0.45" fill="#111" />
<circle cx="73.99" cy="245.79" r="0.45" fill="#111" />
<circle cx="67.96" cy="248.38" r="0.45" fill="#111" />
<circle cx="70.45" cy="249.73" r="0.45" fill="#111" />
<circle cx="67.50" cy="247.92" r="0.45" fill="#111" />
<circle cx="69.89" cy="250.15" r="0.45" fill="#111" />
<circle cx="66.25" cy="246.36" r="0.45" fill="#111" />
<circle cx="75.96" cy="244.19" r="0.45" fill="#111" />
<circle cx="67.89" cy="247.77" r="0.45" fill="#111" />
<circle cx="72.66" cy="247.89" r="0.45" fill="#111" />
<circle cx="68.78" cy="248.85" r="0.45" fill="#111" />
<circle cx="74.12" cy="245.90" r="0.45" fill="#111" />
<circle cx="68.52" cy="248.85" r="0.45" fill="#111" />
<circle cx="69.85" cy="249.83" r="0.45" fill="#111" />
<circle cx="67.41" cy="248.05" r="0.45" fill="#111" />
<circle cx="75.74" cy="244.36" r="0.45" fill="#111" />
<circle cx="66.15" cy="246.38" r="0.45" fill="#111" />
<circle cx="72.55" cy="247.32" r="0.45" fill="#111" />
<circle cx="68.93" cy="249.57" r="0.45" fill="#111" />
<circle cx="74.81" cy="245.58" r="0.45" fill="#111" />
<circle cx="66.67" cy="247.21" r="0.45" fill="#111" />
<circle cx="71.23" cy="248.80" r="0.45" fill="#111" />
<circle cx="68.71" cy="248.88" r="0.45" fill="#111" />
<circle cx="75.34" cy="245.06" r="0.45" fill="#111" />
<circle cx="68.53" cy="249.13" r="0.45" fill="#111" />
<circle cx="74.21" cy="245.49" r="0.45" fill="#111" />
<circle cx="69.63" cy="250.19" r="0.45" fill="#111" />
<circle cx="69.71" cy="249.94" r="0.45" fill="#111" />
<circle cx="66.44" cy="246.26" r="0.45" fill="#111" />
<circle cx="70.82" cy="249.70" r="0.45" fill="#111" />
<circle cx="68.98" cy="249.37" r="0.45" fill="#111" />
<circle cx="71.79" cy="248.17" r="0.45" fill="#111" />
<circle cx="68.24" cy="248.56" r="0.45" fill="#111" />
<circle cx="70.61" cy="249.20" r="0.45" fill="#111" />
<circle cx="66.09" cy="246.79" r="0.45" fill="#111" />
<circle cx="74.27" cy="245.72" r="0.45" fill="#111" />
<circle cx="69.13" cy="249.19" r="0.45" fill="#111" />
<circle cx="69.96" cy="249.91" r="0.45" fill="#111" />
<circle cx="67.98" cy="248.01" r="0.45" fill="#111" />
<circle cx="74.97" cy="245.07" r="0.45" fill="#111" />
<circle cx="66.62" cy="247.29" r="0.45" fill="#111" />
<circle cx="75.01" cy="245.11" r="0.45" fill="#111" />
<circle cx="69.46" cy="249.67" r="0.45" fill="#111" />
<circle cx="70.52" cy="249.32" r="0.45" fill="#111" />
<circle cx="69.37" cy="249.41" r="0.45" fill="#111" />
<circle cx="71.41" cy="248.57" r="0.45" fill="#111" />
<circle cx="65.80" cy="246.61" r="0.45" fill="#111" />
<circle cx="71.09" cy="248.86" r="0.45" fill="#111" />
<circle cx="66.32" cy="246.89" r="0.45" fill="#111" />
<circle cx="71.01" cy="248.97" r="0.45" fill="#111" />
<circle cx="68.29" cy="248.63" r="0.45" fill="#111" />
<circle cx="74.83" cy="245.60" r="0.45" fill="#111" />
<circle cx="65.04" cy="245.19" r="0.45" fill="#111" />
<circle cx="71.94" cy="247.94" r="0.45" fill="#111" />
<circle cx="66.44" cy="246.78" r="0.45" fill="#111" />
<circle cx="72.83" cy="247.28" r="0.45" fill="#111" />
<circle cx="65.27" cy="245.53" r="0.45" fill="#111" />
<circle cx="70.60" cy="249.40" r="0.45" fill="#111" />
<circle cx="68.09" cy="248.30" r="0.45" fill="#111" />
<circle cx="74.42" cy="245.19" r="0.45" fill="#111" />
<circle cx="67.83" cy="248.02" r="0.45" fill="#111" />
<circle cx="73.83" cy="245.98" r="0.45" fill="#111" />
<circle cx="67.50" cy="247.88" r="0.45" fill="#111" />
<circle cx="72.12" cy="248.13" r="0.45" fill="#111" />
<circle cx="65.06" cy="245.19" r="0.45" fill="#111" />
<circle cx="72.76" cy="247.23" r="0.45" fill="#111" />
<circle cx="69.94" cy="250.16" r="0.45" fill="#111" />
<circle cx="70.63" cy="249.40" r="0.45" fill="#111" />
<circle cx="68.03" cy="248.75" r="0.45" fill="#111" />
<circle cx="74.59" cy="245.23" r="0.45" fill="#111" />
<circle cx="67.56" cy="248.41" r="0.45" fill="#111" />
<circle cx="70.04" cy="249.95" r="0.45" fill="#111" />
<circle cx="68.91" cy="249.17" r="0.45" fill="#111" />
<circle cx="70.89" cy="249.32" r="0.45" fill="#111" />
<circle cx="68.77" cy="249.41" r="0.45" fill="#111" />
<circle cx="72.39" cy="247.32" r="0.45" fill="#111" />
<circle cx="68.87" cy="248.66" r="0.45" fill="#111" />
<circle cx="71.60" cy="248.78" r="0.45" fill="#111" />
<circle cx="65.13" cy="245.85" r="0.45" fill="#111" />
<circle cx="73.47" cy="246.45" r="0.45" fill="#111" />
<circle cx="66.27" cy="246.30" r="0.45" fill="#111" />
<circle cx="71.33" cy="248.70" r="0.45" fill="#111" />
<circle cx="65.52" cy="245.88" r="0.45" fill="#111" />
<circle cx="71.41" cy="248.86" r="0.45" fill="#111" />
<circle cx="69.29" cy="249.25" r="0.45" fill="#111" />
<circle cx="71.07" cy="248.97" r="0.45" fill="#111" />
<circle cx="68.83" cy="249.36" r="0.45" fill="#111" />
<circle cx="75.25" cy="244.63" r="0.45" fill="#111" />
<circle cx="65.94" cy="246.52" r="0.45" fill="#111" />
<circle cx="75.65" cy="244.60" r="0.45" fill="#111" />
<circle cx="70.34" cy="249.76" r="0.50" fill="#000" />
<circle cx="68.78" cy="249.75" r="0.50" fill="#000" />
<circle cx="68.97" cy="250.07" r="0.50" fill="#000" />
<circle cx="71.02" cy="249.93" r="0.50" fill="#000" />
<circle cx="71.15" cy="249.44" r="0.50" fill="#000" />
<circle cx="69.02" cy="249.14" r="0.50" fill="#000" />
<circle cx="69.89" cy="249.10" r="0.50" fill="#000" />
<circle cx="68.73" cy="249.23" r="0.50" fill="#000" />
<circle cx="72.27" cy="249.29" r="0.50" fill="#000" />
<circle cx="69.71" cy="249.22" r="0.50" fill="#000" />
<circle cx="69.81" cy="249.74" r="0.50" fill="#000" />
<circle cx="72.04" cy="249.19" r="0.50" fill="#000" />
<circle cx="71.10" cy="249.80" r="0.50" fill="#000" />
<circle cx="71.24" cy="249.22" r="0.50" fill="#000" />
<circle cx="68.22" cy="249.18" r="0.50" fill="#000" />
<circle cx="72.24" cy="249.15" r="0.50" fill="#000" />
<circle cx="72.12" cy="249.31" r="0.50" fill="#000" />
<circle cx="72.56" cy="249.39" r="0.50" fill="#000" />
<circle cx="69.58" cy="249.16" r="0.50" fill="#000" />
<circle cx="69.47" cy="249.54" r="0.50" fill="#000" />
<circle cx="68.54" cy="249.26" r="0.50" fill="#000" />
<circle cx="70.23" cy="249.26" r="0.50" fill="#000" />
<circle cx="70.56" cy="249.79" r="0.50" fill="#000" />
<circle cx="69.09" cy="249.90" r="0.50" fill="#000" />
<circle cx="70.93" cy="250.17" r="0.50" fill="#000" />
<circle cx="64.77" cy="250.77" r="0.42" fill="#2a2a2a" />
<circle cx="60.46" cy="250.31" r="0.42" fill="#2a2a2a" />
<circle cx="82.57" cy="248.93" r="0.42" fill="#2a2a2a" />
<circle cx="103.16" cy="241.07" r="0.42" fill="#888" />
<circle cx="76.18" cy="249.83" r="0.42" fill="#2a2a2a" />
<circle cx="85.79" cy="248.04" r="0.42" fill="#555" />
<circle cx="58.19" cy="247.08" r="0.42" fill="#2a2a2a" />
<circle cx="60.73" cy="249.26" r="0.42" fill="#2a2a2a" />
<circle cx="65.02" cy="249.92" r="0.42" fill="#2a2a2a" />
<circle cx="98.61" cy="242.37" r="0.42" fill="#888" />
<circle cx="56.71" cy="248.06" r="0.42" fill="#2a2a2a" />
<circle cx="81.29" cy="248.82" r="0.42" fill="#2a2a2a" />
<circle cx="61.74" cy="250.38" r="0.42" fill="#2a2a2a" />
<circle cx="89.52" cy="245.63" r="0.42" fill="#555" />
<circle cx="73.42" cy="248.71" r="0.42" fill="#2a2a2a" />
<circle cx="64.88" cy="248.35" r="0.42" fill="#2a2a2a" />
<circle cx="74.07" cy="249.14" r="0.42" fill="#2a2a2a" />
<circle cx="40.79" cy="243.59" r="0.42" fill="#888" />
<circle cx="60.59" cy="248.23" r="0.42" fill="#2a2a2a" />
<circle cx="56.31" cy="249.25" r="0.42" fill="#2a2a2a" />
<circle cx="65.32" cy="248.30" r="0.42" fill="#2a2a2a" />
<circle cx="47.06" cy="245.81" r="0.42" fill="#555" />
<circle cx="65.03" cy="250.94" r="0.42" fill="#2a2a2a" />
<circle cx="60.20" cy="247.63" r="0.42" fill="#2a2a2a" />
<circle cx="65.80" cy="249.17" r="0.42" fill="#2a2a2a" />
<circle cx="61.84" cy="248.86" r="0.42" fill="#2a2a2a" />
<circle cx="81.62" cy="249.35" r="0.42" fill="#2a2a2a" />
<circle cx="60.15" cy="249.02" r="0.42" fill="#2a2a2a" />
<circle cx="52.49" cy="246.29" r="0.42" fill="#555" />
<circle cx="53.55" cy="248.29" r="0.42" fill="#555" />
<circle cx="74.99" cy="248.52" r="0.42" fill="#2a2a2a" />
<circle cx="58.11" cy="247.35" r="0.42" fill="#2a2a2a" />
<circle cx="53.52" cy="246.85" r="0.42" fill="#555" />
<circle cx="64.17" cy="248.42" r="0.42" fill="#2a2a2a" />
<circle cx="60.65" cy="250.49" r="0.42" fill="#2a2a2a" />
<circle cx="47.06" cy="244.20" r="0.42" fill="#555" />
<circle cx="73.88" cy="249.69" r="0.42" fill="#2a2a2a" />
<circle cx="77.60" cy="248.54" r="0.42" fill="#2a2a2a" />
<circle cx="64.77" cy="248.38" r="0.42" fill="#2a2a2a" />
<circle cx="81.98" cy="249.07" r="0.42" fill="#2a2a2a" />
<circle cx="57.27" cy="248.55" r="0.42" fill="#2a2a2a" />
<circle cx="65.20" cy="250.07" r="0.42" fill="#2a2a2a" />
<circle cx="74.38" cy="249.59" r="0.42" fill="#2a2a2a" />
<circle cx="86.99" cy="246.99" r="0.42" fill="#555" />
<circle cx="101.32" cy="241.57" r="0.42" fill="#888" />
<circle cx="60.97" cy="249.02" r="0.42" fill="#2a2a2a" />
<circle cx="64.70" cy="249.92" r="0.42" fill="#2a2a2a" />
<circle cx="85.59" cy="248.14" r="0.42" fill="#555" />
<circle cx="82.72" cy="248.43" r="0.42" fill="#2a2a2a" />
<circle cx="66.92" cy="248.78" r="0.42" fill="#2a2a2a" />
<circle cx="76.73" cy="248.92" r="0.42" fill="#2a2a2a" />
<circle cx="59.27" cy="248.28" r="0.42" fill="#2a2a2a" />
<circle cx="37.53" cy="242.10" r="0.42" fill="#888" />
<circle cx="83.68" cy="248.42" r="0.42" fill="#2a2a2a" />
<circle cx="81.27" cy="248.09" r="0.42" fill="#2a2a2a" />
<circle cx="88.50" cy="247.85" r="0.42" fill="#555" />
<circle cx="82.87" cy="248.94" r="0.42" fill="#2a2a2a" />
<circle cx="44.57" cy="243.50" r="0.42" fill="#555" />
<circle cx="57.77" cy="247.57" r="0.42" fill="#2a2a2a" />
<circle cx="79.20" cy="249.39" r="0.42" fill="#2a2a2a" />
<circle cx="63.04" cy="249.22" r="0.42" fill="#2a2a2a" />
<circle cx="82.54" cy="248.43" r="0.42" fill="#2a2a2a" />
<circle cx="75.29" cy="249.13" r="0.42" fill="#2a2a2a" />
<circle cx="72.52" cy="248.74" r="0.42" fill="#2a2a2a" />
<circle cx="62.84" cy="248.05" r="0.42" fill="#2a2a2a" />
<circle cx="64.12" cy="249.93" r="0.42" fill="#2a2a2a" />
<circle cx="74.10" cy="248.98" r="0.42" fill="#2a2a2a" />
<circle cx="66.56" cy="250.48" r="0.42" fill="#2a2a2a" />
<circle cx="65.76" cy="250.38" r="0.42" fill="#2a2a2a" />
<circle cx="61.61" cy="250.27" r="0.42" fill="#2a2a2a" />
<circle cx="37.99" cy="241.13" r="0.42" fill="#888" />
<circle cx="52.53" cy="248.27" r="0.42" fill="#555" />
<circle cx="66.94" cy="249.64" r="0.42" fill="#2a2a2a" />
<circle cx="77.84" cy="248.78" r="0.42" fill="#2a2a2a" />
<circle cx="58.26" cy="247.16" r="0.42" fill="#2a2a2a" />
<circle cx="66.47" cy="250.62" r="0.42" fill="#2a2a2a" />
<circle cx="67.13" cy="249.01" r="0.42" fill="#2a2a2a" />
<circle cx="66.16" cy="250.60" r="0.42" fill="#2a2a2a" />
<circle cx="65.15" cy="249.94" r="0.42" fill="#2a2a2a" />
<circle cx="62.88" cy="247.86" r="0.42" fill="#2a2a2a" />
<circle cx="76.28" cy="249.63" r="0.42" fill="#2a2a2a" />
<circle cx="75.00" cy="248.06" r="0.42" fill="#2a2a2a" />
<circle cx="65.54" cy="248.37" r="0.42" fill="#2a2a2a" />
<circle cx="82.19" cy="247.97" r="0.42" fill="#2a2a2a" />
<circle cx="79.90" cy="248.32" r="0.42" fill="#2a2a2a" />
<circle cx="52.06" cy="246.93" r="0.42" fill="#555" />
<circle cx="61.34" cy="247.96" r="0.42" fill="#2a2a2a" />
<circle cx="83.14" cy="248.20" r="0.42" fill="#2a2a2a" />
<circle cx="47.73" cy="244.40" r="0.42" fill="#555" />
<circle cx="60.48" cy="248.41" r="0.42" fill="#2a2a2a" />
<circle cx="55.62" cy="249.51" r="0.42" fill="#2a2a2a" />
<circle cx="48.74" cy="246.42" r="0.42" fill="#555" />
<circle cx="58.91" cy="248.02" r="0.42" fill="#2a2a2a" />
<circle cx="76.41" cy="249.40" r="0.42" fill="#2a2a2a" />
<circle cx="63.55" cy="249.74" r="0.42" fill="#2a2a2a" />
<circle cx="51.64" cy="246.09" r="0.42" fill="#555" />
<circle cx="76.18" cy="248.59" r="0.42" fill="#2a2a2a" />
<circle cx="88.50" cy="247.31" r="0.42" fill="#555" />
<circle cx="60.58" cy="248.00" r="0.42" fill="#2a2a2a" />
<circle cx="65.74" cy="248.78" r="0.42" fill="#2a2a2a" />
<circle cx="96.12" cy="243.72" r="0.42" fill="#555" />
<circle cx="84.56" cy="249.39" r="0.42" fill="#2a2a2a" />
<circle cx="66.26" cy="250.26" r="0.42" fill="#2a2a2a" />
<circle cx="58.03" cy="248.74" r="0.42" fill="#2a2a2a" />
<circle cx="73.20" cy="249.76" r="0.42" fill="#2a2a2a" />
<circle cx="73.38" cy="249.62" r="0.42" fill="#2a2a2a" />
<circle cx="74.76" cy="249.04" r="0.42" fill="#2a2a2a" />
<circle cx="87.59" cy="247.98" r="0.42" fill="#555" />
<circle cx="87.00" cy="246.68" r="0.42" fill="#555" />
<circle cx="78.44" cy="248.00" r="0.42" fill="#2a2a2a" />
<circle cx="83.85" cy="247.48" r="0.42" fill="#2a2a2a" />
<circle cx="66.88" cy="248.62" r="0.42" fill="#2a2a2a" />
<circle cx="72.90" cy="248.16" r="0.42" fill="#2a2a2a" />
<circle cx="63.02" cy="248.26" r="0.42" fill="#2a2a2a" />
<circle cx="64.34" cy="249.43" r="0.42" fill="#2a2a2a" />
<circle cx="78.85" cy="250.27" r="0.42" fill="#2a2a2a" />
<circle cx="64.92" cy="249.20" r="0.42" fill="#2a2a2a" />
<circle cx="54.29" cy="248.16" r="0.42" fill="#555" />
<circle cx="56.99" cy="247.31" r="0.42" fill="#2a2a2a" />
<circle cx="76.45" cy="250.35" r="0.42" fill="#2a2a2a" />
<circle cx="60.93" cy="248.18" r="0.42" fill="#2a2a2a" />
<circle cx="75.36" cy="250.77" r="0.42" fill="#2a2a2a" />
<circle cx="43.66" cy="243.67" r="0.42" fill="#555" />
<circle cx="57.39" cy="248.31" r="0.42" fill="#2a2a2a" />
<circle cx="74.74" cy="249.75" r="0.42" fill="#2a2a2a" />
<circle cx="88.73" cy="246.20" r="0.42" fill="#555" />
<circle cx="74.99" cy="249.59" r="0.42" fill="#2a2a2a" />
<circle cx="41.68" cy="244.14" r="0.42" fill="#888" />
<circle cx="59.27" cy="249.06" r="0.42" fill="#2a2a2a" />
<circle cx="42.71" cy="242.40" r="0.42" fill="#555" />
<circle cx="79.15" cy="249.68" r="0.42" fill="#2a2a2a" />
<circle cx="73.39" cy="249.60" r="0.42" fill="#2a2a2a" />
<circle cx="74.12" cy="248.39" r="0.42" fill="#2a2a2a" />
<circle cx="77.13" cy="250.42" r="0.42" fill="#2a2a2a" />
<circle cx="60.45" cy="249.62" r="0.42" fill="#2a2a2a" />
<circle cx="77.21" cy="249.11" r="0.42" fill="#2a2a2a" />
<circle cx="87.07" cy="247.79" r="0.42" fill="#555" />
<circle cx="73.67" cy="250.23" r="0.42" fill="#2a2a2a" />
<circle cx="80.63" cy="247.39" r="0.42" fill="#2a2a2a" />
<circle cx="78.90" cy="247.73" r="0.42" fill="#2a2a2a" />
<circle cx="59.51" cy="247.73" r="0.42" fill="#2a2a2a" />
<circle cx="62.88" cy="248.98" r="0.42" fill="#2a2a2a" />
<circle cx="75.82" cy="248.78" r="0.42" fill="#2a2a2a" />
<circle cx="61.89" cy="250.05" r="0.42" fill="#2a2a2a" />
<circle cx="65.05" cy="249.49" r="0.42" fill="#2a2a2a" />
<circle cx="53.36" cy="248.23" r="0.42" fill="#555" />
<circle cx="55.82" cy="246.79" r="0.42" fill="#2a2a2a" />
<circle cx="56.01" cy="247.47" r="0.42" fill="#2a2a2a" />
<circle cx="64.25" cy="248.02" r="0.42" fill="#2a2a2a" />
<circle cx="60.11" cy="249.36" r="0.42" fill="#2a2a2a" />
<circle cx="67.22" cy="250.53" r="0.42" fill="#2a2a2a" />
<circle cx="43.69" cy="244.85" r="0.42" fill="#555" />
<circle cx="40.46" cy="243.23" r="0.42" fill="#888" />
<circle cx="83.58" cy="248.48" r="0.42" fill="#2a2a2a" />
<circle cx="66.65" cy="248.62" r="0.42" fill="#2a2a2a" />
<circle cx="73.52" cy="248.85" r="0.42" fill="#2a2a2a" />
<circle cx="79.57" cy="249.13" r="0.42" fill="#2a2a2a" />
<circle cx="82.11" cy="247.99" r="0.42" fill="#2a2a2a" />
<circle cx="62.70" cy="249.68" r="0.42" fill="#2a2a2a" />
<circle cx="62.90" cy="248.10" r="0.42" fill="#2a2a2a" />
<circle cx="80.19" cy="249.83" r="0.42" fill="#2a2a2a" />
<circle cx="65.73" cy="249.29" r="0.42" fill="#2a2a2a" />
<circle cx="65.61" cy="249.54" r="0.42" fill="#2a2a2a" />
<circle cx="59.13" cy="249.01" r="0.42" fill="#2a2a2a" />
<circle cx="54.35" cy="248.50" r="0.42" fill="#555" />
<circle cx="64.65" cy="248.71" r="0.42" fill="#2a2a2a" />
<circle cx="44.78" cy="244.92" r="0.42" fill="#555" />
<circle cx="49.34" cy="245.95" r="0.42" fill="#555" />
<circle cx="76.44" cy="248.54" r="0.42" fill="#2a2a2a" />
<circle cx="61.32" cy="249.09" r="0.42" fill="#2a2a2a" />
<circle cx="58.09" cy="249.51" r="0.42" fill="#2a2a2a" />
<circle cx="64.34" cy="248.63" r="0.42" fill="#2a2a2a" />
<circle cx="63.21" cy="250.60" r="0.42" fill="#2a2a2a" />
<circle cx="73.12" cy="248.77" r="0.42" fill="#2a2a2a" />
<circle cx="75.15" cy="250.50" r="0.42" fill="#2a2a2a" />
<circle cx="78.01" cy="247.85" r="0.42" fill="#2a2a2a" />
<circle cx="55.10" cy="248.11" r="0.42" fill="#2a2a2a" />
<circle cx="58.51" cy="248.64" r="0.42" fill="#2a2a2a" />
<circle cx="50.27" cy="245.65" r="0.42" fill="#555" />
<circle cx="79.42" cy="249.43" r="0.42" fill="#2a2a2a" />
<circle cx="59.99" cy="248.15" r="0.42" fill="#2a2a2a" />
<circle cx="60.20" cy="249.92" r="0.42" fill="#2a2a2a" />
<circle cx="61.67" cy="248.66" r="0.42" fill="#2a2a2a" />
<circle cx="64.60" cy="249.57" r="0.42" fill="#2a2a2a" />
<circle cx="56.51" cy="249.42" r="0.42" fill="#2a2a2a" />
<circle cx="73.27" cy="249.04" r="0.42" fill="#2a2a2a" />
<circle cx="76.43" cy="250.04" r="0.42" fill="#2a2a2a" />
<circle cx="74.87" cy="249.79" r="0.42" fill="#2a2a2a" />
<circle cx="73.07" cy="250.86" r="0.42" fill="#2a2a2a" />
<circle cx="59.52" cy="247.34" r="0.42" fill="#2a2a2a" />
<circle cx="62.53" cy="248.71" r="0.42" fill="#2a2a2a" />
<circle cx="74.51" cy="249.01" r="0.42" fill="#2a2a2a" />
<circle cx="80.62" cy="248.89" r="0.42" fill="#2a2a2a" />
<circle cx="40.19" cy="241.46" r="0.42" fill="#888" />
<circle cx="73.71" cy="250.88" r="0.42" fill="#2a2a2a" />
<circle cx="73.71" cy="249.02" r="0.42" fill="#2a2a2a" />
<circle cx="58.72" cy="247.24" r="0.42" fill="#2a2a2a" />
<circle cx="51.77" cy="246.12" r="0.42" fill="#555" />
<circle cx="66.15" cy="250.12" r="0.42" fill="#2a2a2a" />
<circle cx="64.85" cy="248.15" r="0.42" fill="#2a2a2a" />
<circle cx="76.63" cy="248.73" r="0.42" fill="#2a2a2a" />
<circle cx="77.57" cy="248.22" r="0.42" fill="#2a2a2a" />
<circle cx="65.93" cy="249.44" r="0.42" fill="#2a2a2a" />
<circle cx="92.35" cy="245.09" r="0.42" fill="#555" />
<circle cx="56.59" cy="248.96" r="0.42" fill="#2a2a2a" />
<circle cx="66.13" cy="249.94" r="0.42" fill="#2a2a2a" />
<circle cx="67.31" cy="251.02" r="0.42" fill="#2a2a2a" />
<circle cx="73.23" cy="250.19" r="0.42" fill="#2a2a2a" />
<circle cx="91.11" cy="245.21" r="0.42" fill="#555" />
<circle cx="63.62" cy="250.27" r="0.42" fill="#2a2a2a" />
<circle cx="73.70" cy="250.01" r="0.42" fill="#2a2a2a" />
<circle cx="57.69" cy="247.99" r="0.42" fill="#2a2a2a" />
<circle cx="60.34" cy="249.19" r="0.42" fill="#2a2a2a" />
<circle cx="66.90" cy="250.25" r="0.42" fill="#2a2a2a" />
<circle cx="52.65" cy="246.64" r="0.42" fill="#555" />
<circle cx="79.64" cy="249.66" r="0.42" fill="#2a2a2a" />
<circle cx="80.20" cy="249.43" r="0.42" fill="#2a2a2a" />
<circle cx="50.28" cy="246.58" r="0.42" fill="#555" />
<circle cx="54.28" cy="246.60" r="0.42" fill="#555" />
<circle cx="78.42" cy="250.33" r="0.42" fill="#2a2a2a" />
<circle cx="85.57" cy="248.53" r="0.42" fill="#555" />
<circle cx="82.44" cy="247.81" r="0.42" fill="#2a2a2a" />
<circle cx="80.30" cy="249.27" r="0.42" fill="#2a2a2a" />
<circle cx="72.68" cy="248.25" r="0.42" fill="#2a2a2a" />
<circle cx="88.67" cy="247.58" r="0.42" fill="#555" />
<circle cx="78.74" cy="248.39" r="0.42" fill="#2a2a2a" />
<circle cx="60.66" cy="249.39" r="0.42" fill="#2a2a2a" />
<circle cx="95.02" cy="245.82" r="0.42" fill="#555" />
<circle cx="44.78" cy="243.44" r="0.42" fill="#555" />
<circle cx="75.75" cy="250.44" r="0.42" fill="#2a2a2a" />
<circle cx="63.01" cy="250.63" r="0.42" fill="#2a2a2a" />
<circle cx="63.32" cy="248.29" r="0.42" fill="#2a2a2a" />
<circle cx="61.78" cy="250.08" r="0.42" fill="#2a2a2a" />
<circle cx="79.47" cy="250.10" r="0.42" fill="#2a2a2a" />
<circle cx="78.14" cy="249.44" r="0.42" fill="#2a2a2a" />
<circle cx="62.58" cy="250.73" r="0.42" fill="#2a2a2a" />
<circle cx="73.56" cy="250.12" r="0.42" fill="#2a2a2a" />
<circle cx="55.97" cy="247.73" r="0.42" fill="#2a2a2a" />
<circle cx="65.03" cy="249.27" r="0.42" fill="#2a2a2a" />
<circle cx="63.87" cy="250.30" r="0.42" fill="#2a2a2a" />
<circle cx="64.69" cy="249.22" r="0.42" fill="#2a2a2a" />
<circle cx="73.64" cy="249.37" r="0.42" fill="#2a2a2a" />
<circle cx="54.00" cy="226.00" r="0.50" fill="#b0c8b0" />
<circle cx="56.00" cy="228.00" r="0.50" fill="#b0c8b0" />
<circle cx="58.00" cy="230.00" r="0.50" fill="#b0c8b0" />
<circle cx="60.00" cy="232.00" r="0.50" fill="#b0c8b0" />
<circle cx="55.50" cy="233.00" r="0.50" fill="#b0c8b0" />
<circle cx="57.00" cy="236.00" r="0.50" fill="#b0c8b0" />
<circle cx="61.00" cy="227.00" r="0.50" fill="#b0c8b0" />
<circle cx="50.00" cy="224.00" r="0.50" fill="#b0c8b0" />
<circle cx="48.00" cy="237.00" r="0.50" fill="#b0c8b0" />
<circle cx="53.00" cy="219.50" r="0.50" fill="#b0c8b0" />
<circle cx="63.00" cy="229.00" r="0.50" fill="#b0c8b0" />
<circle cx="59.00" cy="238.00" r="0.50" fill="#b0c8b0" />
<circle cx="83.40" cy="217.00" r="0.50" fill="#d8b4b4" />
<circle cx="85.00" cy="228.00" r="0.50" fill="#d8b4b4" />
<circle cx="89.00" cy="234.00" r="0.50" fill="#d8b4b4" />
<circle cx="90.00" cy="239.00" r="0.50" fill="#d8b4b4" />
<circle cx="77.00" cy="236.00" r="0.50" fill="#d8b4b4" />
<circle cx="80.00" cy="240.00" r="0.50" fill="#d8b4b4" />
<circle cx="96.00" cy="241.00" r="0.50" fill="#d8b4b4" />
<circle cx="88.00" cy="243.00" r="0.50" fill="#d8b4b4" />
<circle cx="30.00" cy="241.00" r="0.45" fill="#bbb" />
<circle cx="38.00" cy="240.00" r="0.45" fill="#bbb" />
<circle cx="44.00" cy="238.00" r="0.45" fill="#bbb" />
<circle cx="106.00" cy="241.00" r="0.45" fill="#bbb" />
<circle cx="112.00" cy="238.00" r="0.45" fill="#bbb" />
<circle cx="100.00" cy="240.00" r="0.45" fill="#bbb" />
<defs><clipPath id="ce"><rect x="142.1" y="155" width="106.4" height="102.3"/></clipPath></defs>
<g clip-path="url(#ce)">
<ellipse cx="171.45" cy="201.75" rx="71.8" ry="5.94" transform="rotate(-56.63 171.45 201.75)" fill="none" stroke="#b83038" stroke-width="0.7"/>
<path d="M219,155.1 Q210.8,207.8 217.4,257.3" fill="none" stroke="#3a6cb0" stroke-width="0.7"/>
</g>
<line x1="142.10" y1="210.10" x2="248.50" y2="210.10" stroke="#c0c0c8" stroke-width="0.45" />
<line x1="202.50" y1="155.00" x2="202.50" y2="257.30" stroke="#c8ccd0" stroke-width="0.4" />
<rect x="142.10" y="155.00" width="106.40" height="102.30" fill="none" stroke="#888" stroke-width="0.9" />
<text x="195.40" y="151.30" font-size="3.6" fill="#000" text-anchor="middle" font-weight="bold" stroke="#000" stroke-width="0.05" >PCA - PC1 vs PC2</text>
<line x1="140.70" y1="173.20" x2="142.10" y2="173.20" stroke="#666" stroke-width="0.45" />
<text x="140.30" y="174.10" font-size="2.6" fill="#222" text-anchor="end" font-weight="normal" stroke="#222" stroke-width="0.16" >10</text>
<line x1="140.70" y1="191.80" x2="142.10" y2="191.80" stroke="#666" stroke-width="0.45" />
<text x="140.30" y="192.70" font-size="2.6" fill="#222" text-anchor="end" font-weight="normal" stroke="#222" stroke-width="0.16" >5</text>
<line x1="140.70" y1="210.10" x2="142.10" y2="210.10" stroke="#666" stroke-width="0.45" />
<text x="140.30" y="211.00" font-size="2.6" fill="#222" text-anchor="end" font-weight="normal" stroke="#222" stroke-width="0.16" >0</text>
<line x1="140.70" y1="228.70" x2="142.10" y2="228.70" stroke="#666" stroke-width="0.45" />
<text x="140.30" y="229.60" font-size="2.6" fill="#222" text-anchor="end" font-weight="normal" stroke="#222" stroke-width="0.16" >-5</text>
<line x1="140.70" y1="247.00" x2="142.10" y2="247.00" stroke="#666" stroke-width="0.45" />
<text x="140.30" y="247.90" font-size="2.6" fill="#222" text-anchor="end" font-weight="normal" stroke="#222" stroke-width="0.16" >-10</text>
<line x1="155.20" y1="257.30" x2="155.20" y2="258.70" stroke="#666" stroke-width="0.45" />
<text x="155.20" y="263.40" font-size="2.6" fill="#222" text-anchor="middle" font-weight="normal" stroke="#222" stroke-width="0.16" >-15</text>
<line x1="170.80" y1="257.30" x2="170.80" y2="258.70" stroke="#666" stroke-width="0.45" />
<text x="170.80" y="263.40" font-size="2.6" fill="#222" text-anchor="middle" font-weight="normal" stroke="#222" stroke-width="0.16" >-10</text>
<line x1="186.70" y1="257.30" x2="186.70" y2="258.70" stroke="#666" stroke-width="0.45" />
<text x="186.70" y="263.40" font-size="2.6" fill="#222" text-anchor="middle" font-weight="normal" stroke="#222" stroke-width="0.16" >-5</text>
<line x1="202.50" y1="257.30" x2="202.50" y2="258.70" stroke="#666" stroke-width="0.45" />
<text x="202.50" y="263.40" font-size="2.6" fill="#222" text-anchor="middle" font-weight="normal" stroke="#222" stroke-width="0.16" >0</text>
<line x1="218.20" y1="257.30" x2="218.20" y2="258.70" stroke="#666" stroke-width="0.45" />
<text x="218.20" y="263.40" font-size="2.6" fill="#222" text-anchor="middle" font-weight="normal" stroke="#222" stroke-width="0.16" >5</text>
<line x1="234.00" y1="257.30" x2="234.00" y2="258.70" stroke="#666" stroke-width="0.45" />
<text x="234.00" y="263.40" font-size="2.6" fill="#222" text-anchor="middle" font-weight="normal" stroke="#222" stroke-width="0.16" >10</text>
<text x="196.50" y="269.40" font-size="2.6" fill="#222" text-anchor="middle" font-weight="normal" stroke="#222" stroke-width="0.16" >PC1 36.87%</text>
<text x="131.60" y="202.70" font-size="2.6" fill="#222" text-anchor="middle" font-weight="normal" transform="rotate(-90 131.60 202.70)" stroke="#222" stroke-width="0.16" >PC2 24.08%</text>
<circle cx="190.70" cy="167.80" r="0.80" fill="#a81818" />
<circle cx="176.70" cy="200.70" r="0.80" fill="#a81818" />
<circle cx="145.70" cy="237.50" r="0.80" fill="#a81818" />
<text x="189.00" y="168.40" font-size="1.7" fill="#ecc4c4" text-anchor="end" font-weight="normal" >keloid1</text>
<text x="175.00" y="201.30" font-size="1.7" fill="#ecc4c4" text-anchor="end" font-weight="normal" >keloid2</text>
<text x="147.50" y="238.10" font-size="1.7" fill="#ecc4c4" text-anchor="start" font-weight="normal" >keloid3</text>
<circle cx="235.20" cy="158.60" r="0.70" fill="#2050b0" />
<text x="234.20" y="159.00" font-size="1.75" fill="#7090c8" text-anchor="end" font-weight="normal" stroke="#7090c8" stroke-width="0.08" >Normal1</text>
<circle cx="221.80" cy="243.30" r="0.70" fill="#2050b0" />
<text x="220.80" y="243.70" font-size="1.75" fill="#7090c8" text-anchor="end" font-weight="normal" stroke="#7090c8" stroke-width="0.08" >Normal2</text>
<circle cx="244.50" cy="253.80" r="0.70" fill="#2050b0" />
<text x="243.50" y="254.20" font-size="1.75" fill="#7090c8" text-anchor="end" font-weight="normal" stroke="#7090c8" stroke-width="0.08" >Normal3</text>
<rect x="235.90" y="155.00" width="12.60" height="8.90" fill="#fff" stroke="#888" stroke-width="0.5" />
<circle cx="237.90" cy="158.20" r="0.50" fill="#803030" />
<text x="239.40" y="159.10" font-size="2.3" fill="#333" text-anchor="start" font-weight="normal" stroke="#333" stroke-width="0.1" >NC</text>
<circle cx="237.90" cy="160.70" r="0.50" fill="#404060" />
<text x="239.40" y="161.60" font-size="2.3" fill="#333" text-anchor="start" font-weight="normal" stroke="#333" stroke-width="0.1" >Keloid</text>
<rect x="304.20" y="152.40" width="6.60" height="2.40" fill="#98a6da" stroke="#4050a0" stroke-width="0.35" />
<text x="314.00" y="155.30" font-size="4.3" fill="#222" text-anchor="start" font-weight="normal" stroke="#222" stroke-width="0.08" >Normal</text>
<rect x="304.20" y="157.40" width="6.60" height="2.40" fill="#f2a4a4" stroke="#d04040" stroke-width="0.35" />
<text x="314.00" y="160.30" font-size="4.3" fill="#222" text-anchor="start" font-weight="normal" stroke="#222" stroke-width="0.08" >Keloid</text>
<line x1="296.40" y1="158.20" x2="296.40" y2="187.40" stroke="#222" stroke-width="0.6" />
<line x1="296.40" y1="191.60" x2="296.40" y2="221.50" stroke="#222" stroke-width="0.6" />
<line x1="295.00" y1="187.40" x2="296.40" y2="187.40" stroke="#222" stroke-width="0.5" />
<text x="294.90" y="188.85" font-size="4.0" fill="#222" text-anchor="end" font-weight="bold" stroke="#222" stroke-width="0.15" >10</text>
<line x1="295.00" y1="180.10" x2="296.40" y2="180.10" stroke="#222" stroke-width="0.5" />
<text x="294.90" y="181.55" font-size="4.0" fill="#222" text-anchor="end" font-weight="bold" stroke="#222" stroke-width="0.15" >20</text>
<line x1="295.00" y1="172.80" x2="296.40" y2="172.80" stroke="#222" stroke-width="0.5" />
<text x="294.90" y="174.25" font-size="4.0" fill="#222" text-anchor="end" font-weight="bold" stroke="#222" stroke-width="0.15" >30</text>
<line x1="295.00" y1="165.50" x2="296.40" y2="165.50" stroke="#222" stroke-width="0.5" />
<text x="294.90" y="166.95" font-size="4.0" fill="#222" text-anchor="end" font-weight="bold" stroke="#222" stroke-width="0.15" >40</text>
<line x1="295.00" y1="158.20" x2="296.40" y2="158.20" stroke="#222" stroke-width="0.5" />
<text x="294.90" y="159.65" font-size="4.0" fill="#222" text-anchor="end" font-weight="bold" stroke="#222" stroke-width="0.15" >50</text>
<line x1="295.00" y1="221.50" x2="296.40" y2="221.50" stroke="#222" stroke-width="0.5" />
<text x="294.90" y="222.95" font-size="4.0" fill="#222" text-anchor="end" font-weight="bold" stroke="#222" stroke-width="0.15" >0</text>
<line x1="295.00" y1="213.64" x2="296.40" y2="213.64" stroke="#222" stroke-width="0.5" />
<text x="294.90" y="215.09" font-size="4.0" fill="#222" text-anchor="end" font-weight="bold" stroke="#222" stroke-width="0.15" >2</text>
<line x1="295.00" y1="205.78" x2="296.40" y2="205.78" stroke="#222" stroke-width="0.5" />
<text x="294.90" y="207.23" font-size="4.0" fill="#222" text-anchor="end" font-weight="bold" stroke="#222" stroke-width="0.15" >4</text>
<line x1="295.00" y1="197.92" x2="296.40" y2="197.92" stroke="#222" stroke-width="0.5" />
<text x="294.90" y="199.37" font-size="4.0" fill="#222" text-anchor="end" font-weight="bold" stroke="#222" stroke-width="0.15" >6</text>
<text x="286.40" y="191.00" font-size="4.6" fill="#222" text-anchor="middle" font-weight="bold" transform="rotate(-90 286.40 191.00)" stroke="#222" stroke-width="0.18" >Relative lncRNA expression</text>
<line x1="296.40" y1="221.50" x2="392.00" y2="221.50" stroke="#222" stroke-width="0.6" />
<rect x="298.42" y="217.57" width="1.80" height="3.93" fill="#5060a8" stroke="#34448c" stroke-width="0.3" />
<rect x="301.07" y="164.77" width="2.00" height="9.85" fill="#f4c4c8" stroke="none" stroke-width="0" />
<rect x="301.07" y="174.62" width="2.00" height="12.78" fill="#e04858" stroke="#d02030" stroke-width="0.35" />
<rect x="301.07" y="192.03" width="2.00" height="29.47" fill="#f09098" stroke="#d82838" stroke-width="0.4" />
<circle cx="302.07" cy="164.57" r="0.55" fill="#333" />
<line x1="300.72" y1="221.50" x2="300.72" y2="223.00" stroke="#222" stroke-width="0.45" />
<rect x="305.25" y="217.57" width="1.80" height="3.93" fill="#5060a8" stroke="#34448c" stroke-width="0.3" />
<rect x="307.90" y="206.57" width="2.00" height="4.72" fill="#f4c4c8" stroke="none" stroke-width="0" />
<rect x="307.90" y="211.28" width="2.00" height="10.22" fill="#e04858" stroke="#d02030" stroke-width="0.35" />
<circle cx="308.90" cy="206.27" r="0.60" fill="#333" />
<line x1="307.55" y1="221.50" x2="307.55" y2="223.00" stroke="#222" stroke-width="0.45" />
<rect x="312.08" y="217.57" width="1.80" height="3.93" fill="#5060a8" stroke="#34448c" stroke-width="0.3" />
<rect x="314.73" y="201.85" width="2.00" height="6.68" fill="#f4c4c8" stroke="none" stroke-width="0" />
<rect x="314.73" y="208.53" width="2.00" height="12.97" fill="#e04858" stroke="#d02030" stroke-width="0.35" />
<circle cx="315.73" cy="201.55" r="0.60" fill="#333" />
<line x1="314.38" y1="221.50" x2="314.38" y2="223.00" stroke="#222" stroke-width="0.45" />
<rect x="318.91" y="217.57" width="1.80" height="3.93" fill="#5060a8" stroke="#34448c" stroke-width="0.3" />
<rect x="321.56" y="195.56" width="2.00" height="5.11" fill="#f4c4c8" stroke="none" stroke-width="0" />
<rect x="321.56" y="200.67" width="2.00" height="20.83" fill="#e04858" stroke="#d02030" stroke-width="0.35" />
<circle cx="322.56" cy="195.26" r="0.60" fill="#333" />
<line x1="321.21" y1="221.50" x2="321.21" y2="223.00" stroke="#222" stroke-width="0.45" />
<rect x="325.74" y="217.57" width="1.80" height="3.93" fill="#5060a8" stroke="#34448c" stroke-width="0.3" />
<rect x="328.39" y="203.42" width="2.00" height="5.50" fill="#f4c4c8" stroke="none" stroke-width="0" />
<rect x="328.39" y="208.92" width="2.00" height="12.58" fill="#e04858" stroke="#d02030" stroke-width="0.35" />
<circle cx="329.39" cy="203.12" r="0.60" fill="#333" />
<line x1="328.04" y1="221.50" x2="328.04" y2="223.00" stroke="#222" stroke-width="0.45" />
<rect x="332.57" y="217.57" width="1.80" height="3.93" fill="#5060a8" stroke="#34448c" stroke-width="0.3" />
<rect x="335.22" y="207.35" width="2.00" height="3.93" fill="#f4c4c8" stroke="none" stroke-width="0" />
<rect x="335.22" y="211.28" width="2.00" height="10.22" fill="#e04858" stroke="#d02030" stroke-width="0.35" />
<circle cx="336.22" cy="207.05" r="0.60" fill="#333" />
<line x1="334.87" y1="221.50" x2="334.87" y2="223.00" stroke="#222" stroke-width="0.45" />
<rect x="339.40" y="217.57" width="1.80" height="3.93" fill="#5060a8" stroke="#34448c" stroke-width="0.3" />
<rect x="342.05" y="206.57" width="2.00" height="4.72" fill="#f4c4c8" stroke="none" stroke-width="0" />
<rect x="342.05" y="211.28" width="2.00" height="10.22" fill="#e04858" stroke="#d02030" stroke-width="0.35" />
<circle cx="343.05" cy="206.27" r="0.60" fill="#333" />
<line x1="341.70" y1="221.50" x2="341.70" y2="223.00" stroke="#222" stroke-width="0.45" />
<rect x="346.23" y="217.57" width="1.80" height="3.93" fill="#5060a8" stroke="#34448c" stroke-width="0.3" />
<rect x="348.88" y="206.57" width="2.00" height="4.72" fill="#f4c4c8" stroke="none" stroke-width="0" />
<rect x="348.88" y="211.28" width="2.00" height="10.22" fill="#e04858" stroke="#d02030" stroke-width="0.35" />
<circle cx="349.88" cy="206.27" r="0.60" fill="#333" />
<line x1="348.53" y1="221.50" x2="348.53" y2="223.00" stroke="#222" stroke-width="0.45" />
<rect x="353.06" y="217.57" width="1.80" height="3.93" fill="#5060a8" stroke="#34448c" stroke-width="0.3" />
<rect x="355.71" y="204.99" width="2.00" height="5.50" fill="#f4c4c8" stroke="none" stroke-width="0" />
<rect x="355.71" y="210.50" width="2.00" height="11.00" fill="#e04858" stroke="#d02030" stroke-width="0.35" />
<circle cx="356.71" cy="204.69" r="0.60" fill="#333" />
<line x1="355.36" y1="221.50" x2="355.36" y2="223.00" stroke="#222" stroke-width="0.45" />
<rect x="359.89" y="217.57" width="1.80" height="3.93" fill="#5060a8" stroke="#34448c" stroke-width="0.3" />
<rect x="362.54" y="199.88" width="2.00" height="7.07" fill="#f4c4c8" stroke="none" stroke-width="0" />
<rect x="362.54" y="206.96" width="2.00" height="14.54" fill="#e04858" stroke="#d02030" stroke-width="0.35" />
<circle cx="363.54" cy="199.58" r="0.60" fill="#333" />
<line x1="362.19" y1="221.50" x2="362.19" y2="223.00" stroke="#222" stroke-width="0.45" />
<rect x="366.72" y="217.57" width="1.80" height="3.93" fill="#5060a8" stroke="#34448c" stroke-width="0.3" />
<rect x="369.37" y="209.71" width="2.00" height="3.93" fill="#f4c4c8" stroke="none" stroke-width="0" />
<rect x="369.37" y="213.64" width="2.00" height="7.86" fill="#e04858" stroke="#d02030" stroke-width="0.35" />
<circle cx="370.37" cy="209.41" r="0.60" fill="#333" />
<line x1="369.02" y1="221.50" x2="369.02" y2="223.00" stroke="#222" stroke-width="0.45" />
<rect x="373.55" y="217.57" width="1.80" height="3.93" fill="#5060a8" stroke="#34448c" stroke-width="0.3" />
<rect x="376.20" y="206.17" width="2.00" height="4.72" fill="#f4c4c8" stroke="none" stroke-width="0" />
<rect x="376.20" y="210.89" width="2.00" height="10.61" fill="#e04858" stroke="#d02030" stroke-width="0.35" />
<circle cx="377.20" cy="205.87" r="0.60" fill="#333" />
<line x1="375.85" y1="221.50" x2="375.85" y2="223.00" stroke="#222" stroke-width="0.45" />
<rect x="380.38" y="217.57" width="1.80" height="3.93" fill="#5060a8" stroke="#34448c" stroke-width="0.3" />
<rect x="383.03" y="217.37" width="2.00" height="4.13" fill="#6070b0" stroke="#404c90" stroke-width="0.3" />
<line x1="382.68" y1="221.50" x2="382.68" y2="223.00" stroke="#222" stroke-width="0.45" />
<rect x="387.21" y="217.57" width="1.80" height="3.93" fill="#5060a8" stroke="#34448c" stroke-width="0.3" />
<rect x="389.86" y="218.75" width="2.00" height="2.75" fill="#6070b0" stroke="#404c90" stroke-width="0.3" />
<line x1="389.51" y1="221.50" x2="389.51" y2="223.00" stroke="#222" stroke-width="0.45" />
<circle cx="322.10" cy="194.66" r="0.55" fill="#222" />
<circle cx="323.70" cy="194.66" r="0.55" fill="#222" />
<text x="302.60" y="229.10" font-size="4.75" fill="#333" text-anchor="end" font-weight="bold" transform="rotate(-45 302.60 229.10)" stroke="#333" stroke-width="0.15" >ENSG00000206947</text>
<text x="309.43" y="229.10" font-size="4.75" fill="#333" text-anchor="end" font-weight="bold" transform="rotate(-45 309.43 229.10)" stroke="#333" stroke-width="0.15" >ENSG00000231772</text>
<text x="316.26" y="229.10" font-size="4.75" fill="#333" text-anchor="end" font-weight="bold" transform="rotate(-45 316.26 229.10)" stroke="#333" stroke-width="0.15" >ENSG00000224259</text>
<text x="323.09" y="229.10" font-size="4.75" fill="#333" text-anchor="end" font-weight="bold" transform="rotate(-45 323.09 229.10)" stroke="#333" stroke-width="0.15" >ENSG00000227906</text>
<text x="329.92" y="229.10" font-size="4.75" fill="#333" text-anchor="end" font-weight="bold" transform="rotate(-45 329.92 229.10)" stroke="#333" stroke-width="0.15" >ENSG00000232527</text>
<text x="336.75" y="229.10" font-size="4.75" fill="#333" text-anchor="end" font-weight="bold" transform="rotate(-45 336.75 229.10)" stroke="#333" stroke-width="0.15" >ENSG00000233058</text>
<text x="343.58" y="229.10" font-size="4.75" fill="#333" text-anchor="end" font-weight="bold" transform="rotate(-45 343.58 229.10)" stroke="#333" stroke-width="0.15" >ENSG00000226125</text>
<text x="350.41" y="229.10" font-size="4.75" fill="#333" text-anchor="end" font-weight="bold" transform="rotate(-45 350.41 229.10)" stroke="#333" stroke-width="0.15" >ENSG00000237298</text>
<text x="357.24" y="229.10" font-size="4.75" fill="#333" text-anchor="end" font-weight="bold" transform="rotate(-45 357.24 229.10)" stroke="#333" stroke-width="0.15" >ENSG00000229619</text>
<text x="364.07" y="229.10" font-size="4.75" fill="#333" text-anchor="end" font-weight="bold" transform="rotate(-45 364.07 229.10)" stroke="#333" stroke-width="0.15" >ENSG00000236352</text>
<text x="370.90" y="229.10" font-size="4.75" fill="#333" text-anchor="end" font-weight="bold" transform="rotate(-45 370.90 229.10)" stroke="#333" stroke-width="0.15" >ENSG00000235065</text>
<text x="377.73" y="229.10" font-size="4.75" fill="#333" text-anchor="end" font-weight="bold" transform="rotate(-45 377.73 229.10)" stroke="#333" stroke-width="0.15" >ENSG00000230937</text>
<text x="384.56" y="229.10" font-size="4.75" fill="#333" text-anchor="end" font-weight="bold" transform="rotate(-45 384.56 229.10)" stroke="#333" stroke-width="0.15" >ENSG00000228649</text>
<text x="391.39" y="229.10" font-size="4.75" fill="#333" text-anchor="end" font-weight="bold" transform="rotate(-45 391.39 229.10)" stroke="#333" stroke-width="0.15" >ENSG00000237993</text>
<line x1="34.10" y1="298.90" x2="34.10" y2="373.70" stroke="#222" stroke-width="0.75" />
<line x1="34.10" y1="373.70" x2="83.80" y2="373.70" stroke="#222" stroke-width="0.75" />
<line x1="32.30" y1="373.70" x2="34.10" y2="373.70" stroke="#222" stroke-width="0.6" />
<text x="31.60" y="375.40" font-size="4.9" fill="#222" text-anchor="end" font-weight="bold" stroke="#222" stroke-width="0.18" >0</text>
<line x1="32.30" y1="354.95" x2="34.10" y2="354.95" stroke="#222" stroke-width="0.6" />
<text x="31.60" y="356.65" font-size="4.9" fill="#222" text-anchor="end" font-weight="bold" stroke="#222" stroke-width="0.18" >5</text>
<line x1="32.30" y1="336.20" x2="34.10" y2="336.20" stroke="#222" stroke-width="0.6" />
<text x="31.60" y="337.90" font-size="4.9" fill="#222" text-anchor="end" font-weight="bold" stroke="#222" stroke-width="0.18" >10</text>
<line x1="32.30" y1="317.45" x2="34.10" y2="317.45" stroke="#222" stroke-width="0.6" />
<text x="31.60" y="319.15" font-size="4.9" fill="#222" text-anchor="end" font-weight="bold" stroke="#222" stroke-width="0.18" >15</text>
<line x1="32.30" y1="298.70" x2="34.10" y2="298.70" stroke="#222" stroke-width="0.6" />
<text x="31.60" y="300.40" font-size="4.9" fill="#222" text-anchor="end" font-weight="bold" stroke="#222" stroke-width="0.18" >20</text>
<line x1="48.90" y1="373.70" x2="48.90" y2="375.40" stroke="#222" stroke-width="0.6" />
<line x1="70.50" y1="373.70" x2="70.50" y2="375.40" stroke="#222" stroke-width="0.6" />
<text x="21.40" y="335.60" font-size="5.15" fill="#222" text-anchor="middle" font-weight="bold" transform="rotate(-90 21.40 335.60)" stroke="#222" stroke-width="0.08" >Relative ENSG00000206947 expression</text>
<rect x="41.90" y="369.76" width="13.90" height="3.94" fill="#fff" stroke="#2a50b0" stroke-width="0.6" />
<circle cx="42.00" cy="370.30" r="0.90" fill="#2448b0" />
<circle cx="43.40" cy="369.30" r="0.90" fill="#2448b0" />
<circle cx="44.80" cy="370.10" r="0.90" fill="#2448b0" />
<circle cx="46.20" cy="369.00" r="0.90" fill="#2448b0" />
<circle cx="47.60" cy="369.90" r="0.90" fill="#2448b0" />
<circle cx="49.00" cy="368.70" r="0.90" fill="#2448b0" />
<circle cx="50.40" cy="369.70" r="0.90" fill="#2448b0" />
<circle cx="51.80" cy="368.90" r="0.90" fill="#2448b0" />
<circle cx="53.20" cy="370.00" r="0.90" fill="#2448b0" />
<circle cx="54.40" cy="369.10" r="0.90" fill="#2448b0" />
<circle cx="43.80" cy="371.10" r="0.90" fill="#2448b0" />
<circle cx="46.80" cy="370.90" r="0.90" fill="#2448b0" />
<circle cx="49.80" cy="371.00" r="0.90" fill="#2448b0" />
<circle cx="52.60" cy="370.90" r="0.90" fill="#2448b0" />
<circle cx="45.20" cy="368.60" r="0.90" fill="#2448b0" />
<circle cx="48.20" cy="368.40" r="0.90" fill="#2448b0" />
<circle cx="51.20" cy="368.30" r="0.90" fill="#2448b0" />
<line x1="48.90" y1="368.40" x2="48.90" y2="367.20" stroke="#2a50b0" stroke-width="0.5" />
<line x1="70.50" y1="332.07" x2="70.50" y2="351.20" stroke="#eaa0a0" stroke-width="0.55" />
<line x1="66.30" y1="332.07" x2="74.70" y2="332.07" stroke="#eaa0a0" stroke-width="0.55" />
<line x1="70.50" y1="351.20" x2="70.50" y2="370.32" stroke="#e07070" stroke-width="0.4" />
<rect x="63.50" y="351.20" width="14.00" height="22.50" fill="none" stroke="#e02424" stroke-width="0.9" />
<circle cx="70.60" cy="307.10" r="0.95" fill="#d82020" />
<circle cx="70.60" cy="313.30" r="0.95" fill="#d82020" />
<circle cx="70.60" cy="336.30" r="0.95" fill="#d82020" />
<circle cx="70.60" cy="342.70" r="0.95" fill="#d82020" />
<circle cx="68.20" cy="347.00" r="0.95" fill="#d82020" />
<circle cx="65.40" cy="352.20" r="0.95" fill="#d82020" />
<circle cx="71.30" cy="352.20" r="0.95" fill="#d82020" />
<circle cx="75.00" cy="352.20" r="0.95" fill="#d82020" />
<circle cx="66.60" cy="356.00" r="0.95" fill="#d82020" />
<circle cx="73.70" cy="356.80" r="0.95" fill="#d82020" />
<circle cx="68.20" cy="361.00" r="0.95" fill="#d82020" />
<circle cx="74.10" cy="361.00" r="0.95" fill="#d82020" />
<circle cx="67.00" cy="365.50" r="0.95" fill="#d82020" />
<circle cx="73.00" cy="365.50" r="0.95" fill="#d82020" />
<circle cx="70.60" cy="369.60" r="0.95" fill="#d82020" />
<circle cx="69.90" cy="303.70" r="0.65" fill="#222" />
<circle cx="71.90" cy="303.70" r="0.65" fill="#222" />
<text x="49.20" y="383.00" font-size="5.6" fill="#222" text-anchor="middle" font-weight="bold" stroke="#222" stroke-width="0.2" >Normal</text>
<text x="71.00" y="383.00" font-size="5.6" fill="#222" text-anchor="middle" font-weight="bold" stroke="#222" stroke-width="0.2" >keloid</text>
<defs><radialGradient id="p1" cx="0.5" cy="0.5" r="0.5"><stop offset="0" stop-color="#afacb8"/><stop offset="0.85" stop-color="#aaa6b6"/><stop offset="0.95" stop-color="#968eb0"/><stop offset="1" stop-color="#7a6aa8"/></radialGradient><radialGradient id="p2" cx="0.5" cy="0.5" r="0.5"><stop offset="0" stop-color="#b0a4d4"/><stop offset="0.85" stop-color="#aa9cd0"/><stop offset="1" stop-color="#8270bc"/></radialGradient><filter id="bl" x="-5%" y="-5%" width="110%" height="110%"><feGaussianBlur stdDeviation="0.3"/></filter><clipPath id="c1"><circle cx="150.65" cy="337.5" r="41.3"/></clipPath><clipPath id="c2"><circle cx="237.9" cy="338" r="41.5"/></clipPath></defs>
<circle cx="150.65" cy="337.50" r="41.30" fill="url(#p1)" />
<g clip-path="url(#c1)"><g filter="url(#bl)">
<circle cx="113.49" cy="333.75" r="0.66" fill="#7458b0" opacity="0.85"/>
<circle cx="164.08" cy="350.49" r="0.82" fill="#7458b0" opacity="0.85"/>
<circle cx="154.98" cy="334.95" r="0.76" fill="#7458b0" opacity="0.85"/>
<circle cx="170.43" cy="335.80" r="1.20" fill="#6c50a8" opacity="0.85"/>
<circle cx="140.70" cy="354.69" r="1.04" fill="#5e44a0" opacity="0.85"/>
<circle cx="161.13" cy="302.58" r="0.79" fill="#5e44a0" opacity="0.85"/>
<circle cx="110.76" cy="342.76" r="0.64" fill="#7458b0" opacity="0.85"/>
<circle cx="120.20" cy="344.92" r="0.72" fill="#5e44a0" opacity="0.85"/>
<circle cx="167.06" cy="312.40" r="0.87" fill="#6c50a8" opacity="0.85"/>
<circle cx="185.62" cy="332.84" r="1.12" fill="#6c50a8" opacity="0.85"/>
<circle cx="136.59" cy="372.59" r="1.09" fill="#6c50a8" opacity="0.85"/>
<circle cx="160.82" cy="344.27" r="0.86" fill="#7458b0" opacity="0.85"/>
<circle cx="127.54" cy="352.10" r="1.24" fill="#7458b0" opacity="0.85"/>
<circle cx="110.72" cy="333.45" r="0.72" fill="#5e44a0" opacity="0.85"/>
<circle cx="137.19" cy="335.12" r="0.80" fill="#5e44a0" opacity="0.85"/>
<circle cx="160.20" cy="374.22" r="0.85" fill="#7458b0" opacity="0.85"/>
<circle cx="126.37" cy="319.40" r="0.79" fill="#6c50a8" opacity="0.85"/>
<circle cx="125.39" cy="314.32" r="1.19" fill="#7458b0" opacity="0.85"/>
<circle cx="134.28" cy="312.91" r="0.83" fill="#7458b0" opacity="0.85"/>
<circle cx="144.37" cy="325.36" r="0.71" fill="#6c50a8" opacity="0.85"/>
<circle cx="174.09" cy="330.99" r="0.88" fill="#6c50a8" opacity="0.85"/>
<circle cx="168.66" cy="337.33" r="0.97" fill="#7458b0" opacity="0.85"/>
<circle cx="134.43" cy="348.39" r="1.15" fill="#7458b0" opacity="0.85"/>
<circle cx="170.48" cy="370.83" r="1.17" fill="#6c50a8" opacity="0.85"/>
<circle cx="169.32" cy="340.91" r="1.27" fill="#5e44a0" opacity="0.85"/>
<circle cx="143.88" cy="342.33" r="0.98" fill="#6c50a8" opacity="0.85"/>
<circle cx="140.49" cy="334.78" r="0.72" fill="#6c50a8" opacity="0.85"/>
<circle cx="148.87" cy="369.97" r="0.70" fill="#5e44a0" opacity="0.85"/>
<circle cx="154.85" cy="304.90" r="1.21" fill="#7458b0" opacity="0.85"/>
<circle cx="136.57" cy="332.86" r="0.94" fill="#5e44a0" opacity="0.85"/>
<circle cx="166.87" cy="351.14" r="0.81" fill="#6c50a8" opacity="0.85"/>
<circle cx="120.18" cy="328.40" r="1.15" fill="#5e44a0" opacity="0.85"/>
<circle cx="167.27" cy="308.77" r="1.12" fill="#7458b0" opacity="0.85"/>
<circle cx="118.54" cy="323.20" r="0.85" fill="#7458b0" opacity="0.85"/>
<circle cx="135.04" cy="332.45" r="0.64" fill="#6c50a8" opacity="0.85"/>
<circle cx="178.62" cy="353.06" r="1.01" fill="#5e44a0" opacity="0.85"/>
<circle cx="184.68" cy="331.46" r="0.79" fill="#6c50a8" opacity="0.85"/>
<circle cx="166.93" cy="370.56" r="0.96" fill="#6c50a8" opacity="0.85"/>
<circle cx="136.38" cy="324.34" r="0.66" fill="#5e44a0" opacity="0.85"/>
<circle cx="131.69" cy="343.15" r="0.73" fill="#7458b0" opacity="0.85"/>
<circle cx="169.60" cy="323.47" r="0.62" fill="#7458b0" opacity="0.85"/>
<circle cx="123.73" cy="365.20" r="0.62" fill="#5e44a0" opacity="0.85"/>
<circle cx="162.39" cy="348.64" r="0.80" fill="#7458b0" opacity="0.85"/>
<circle cx="139.78" cy="370.46" r="0.66" fill="#6c50a8" opacity="0.85"/>
<circle cx="177.47" cy="335.78" r="1.16" fill="#7458b0" opacity="0.85"/>
<circle cx="147.81" cy="336.52" r="0.64" fill="#7458b0" opacity="0.85"/>
<circle cx="152.36" cy="349.63" r="1.25" fill="#5e44a0" opacity="0.85"/>
<circle cx="119.42" cy="340.65" r="1.22" fill="#7458b0" opacity="0.85"/>
<circle cx="142.01" cy="311.30" r="1.15" fill="#7458b0" opacity="0.85"/>
<circle cx="169.46" cy="303.05" r="0.75" fill="#7458b0" opacity="0.85"/>
<circle cx="149.46" cy="300.59" r="0.77" fill="#5e44a0" opacity="0.85"/>
<circle cx="147.69" cy="345.63" r="0.67" fill="#7458b0" opacity="0.85"/>
<circle cx="174.21" cy="330.50" r="0.96" fill="#5e44a0" opacity="0.85"/>
<circle cx="118.80" cy="340.57" r="1.14" fill="#5e44a0" opacity="0.85"/>
<circle cx="139.10" cy="352.02" r="0.84" fill="#5e44a0" opacity="0.85"/>
<circle cx="183.98" cy="317.01" r="0.71" fill="#6c50a8" opacity="0.85"/>
<circle cx="135.14" cy="345.39" r="1.28" fill="#6c50a8" opacity="0.85"/>
<circle cx="154.80" cy="319.97" r="1.11" fill="#7458b0" opacity="0.85"/>
<circle cx="115.98" cy="320.90" r="0.78" fill="#7458b0" opacity="0.85"/>
<circle cx="132.13" cy="316.33" r="0.86" fill="#5e44a0" opacity="0.85"/>
<circle cx="163.05" cy="318.42" r="1.17" fill="#7458b0" opacity="0.85"/>
<circle cx="149.74" cy="374.40" r="0.99" fill="#5e44a0" opacity="0.85"/>
<circle cx="115.28" cy="322.64" r="1.09" fill="#6c50a8" opacity="0.85"/>
<circle cx="140.82" cy="373.81" r="1.15" fill="#5e44a0" opacity="0.85"/>
<circle cx="125.22" cy="348.44" r="1.18" fill="#5e44a0" opacity="0.85"/>
<circle cx="179.98" cy="312.37" r="0.68" fill="#5a3ea0" opacity="0.75"/>
<circle cx="135.87" cy="300.67" r="0.72" fill="#5a3ea0" opacity="0.75"/>
<circle cx="120.76" cy="309.64" r="0.91" fill="#5a3ea0" opacity="0.75"/>
<circle cx="118.45" cy="316.21" r="1.06" fill="#5a3ea0" opacity="0.75"/>
<circle cx="119.85" cy="312.67" r="1.03" fill="#5a3ea0" opacity="0.75"/>
<circle cx="138.25" cy="299.83" r="1.27" fill="#5a3ea0" opacity="0.75"/>
<circle cx="111.18" cy="326.15" r="0.76" fill="#5a3ea0" opacity="0.75"/>
<circle cx="112.30" cy="324.38" r="1.06" fill="#5a3ea0" opacity="0.75"/>
<circle cx="147.09" cy="298.95" r="1.22" fill="#5a3ea0" opacity="0.75"/>
<circle cx="127.03" cy="304.73" r="0.78" fill="#5a3ea0" opacity="0.75"/>
<circle cx="150.18" cy="297.36" r="0.90" fill="#5a3ea0" opacity="0.75"/>
<circle cx="142.11" cy="300.25" r="1.11" fill="#5a3ea0" opacity="0.75"/>
<circle cx="160.58" cy="300.30" r="1.04" fill="#5a3ea0" opacity="0.75"/>
<circle cx="164.04" cy="301.58" r="1.27" fill="#5a3ea0" opacity="0.75"/>
<circle cx="174.43" cy="307.65" r="0.80" fill="#5a3ea0" opacity="0.75"/>
<circle cx="115.43" cy="321.14" r="0.67" fill="#5a3ea0" opacity="0.75"/>
<circle cx="142.80" cy="299.48" r="0.84" fill="#5a3ea0" opacity="0.75"/>
<circle cx="140.27" cy="299.67" r="1.23" fill="#5a3ea0" opacity="0.75"/>
<circle cx="163.20" cy="301.23" r="0.78" fill="#5a3ea0" opacity="0.75"/>
<circle cx="112.88" cy="327.43" r="0.69" fill="#5a3ea0" opacity="0.75"/>
<circle cx="161.64" cy="298.44" r="1.40" fill="#5a3ea0" opacity="0.75"/>
<circle cx="122.05" cy="312.30" r="1.21" fill="#5a3ea0" opacity="0.75"/>
<circle cx="135.33" cy="299.39" r="0.91" fill="#5a3ea0" opacity="0.75"/>
<circle cx="128.73" cy="306.17" r="1.36" fill="#5a3ea0" opacity="0.75"/>
<circle cx="144.70" cy="298.50" r="0.95" fill="#5a3ea0" opacity="0.75"/>
<circle cx="167.95" cy="300.61" r="0.98" fill="#5a3ea0" opacity="0.75"/>
<circle cx="119.36" cy="313.65" r="1.31" fill="#5a3ea0" opacity="0.75"/>
<circle cx="135.32" cy="300.36" r="1.05" fill="#5a3ea0" opacity="0.75"/>
<circle cx="140.08" cy="299.03" r="0.80" fill="#5a3ea0" opacity="0.75"/>
<circle cx="148.72" cy="296.69" r="0.66" fill="#5a3ea0" opacity="0.75"/>
<circle cx="131.74" cy="301.23" r="1.38" fill="#5a3ea0" opacity="0.75"/>
<circle cx="112.06" cy="326.73" r="1.11" fill="#5a3ea0" opacity="0.75"/>
<circle cx="173.30" cy="305.08" r="0.70" fill="#5a3ea0" opacity="0.75"/>
<circle cx="126.59" cy="305.10" r="1.18" fill="#5a3ea0" opacity="0.75"/>
<circle cx="120.28" cy="311.28" r="1.13" fill="#5a3ea0" opacity="0.75"/>
<circle cx="157.61" cy="300.07" r="0.95" fill="#5a3ea0" opacity="0.75"/>
<circle cx="128.69" cy="304.10" r="0.87" fill="#5a3ea0" opacity="0.75"/>
<circle cx="116.09" cy="316.95" r="0.83" fill="#5a3ea0" opacity="0.75"/>
<circle cx="168.99" cy="303.07" r="1.04" fill="#5a3ea0" opacity="0.75"/>
<circle cx="170.04" cy="304.37" r="1.18" fill="#5a3ea0" opacity="0.75"/>
<circle cx="112.78" cy="321.56" r="0.62" fill="#5a3ea0" opacity="0.75"/>
<circle cx="163.58" cy="300.48" r="0.74" fill="#5a3ea0" opacity="0.75"/>
<circle cx="134.45" cy="301.31" r="0.93" fill="#5a3ea0" opacity="0.75"/>
<circle cx="116.24" cy="317.66" r="0.84" fill="#5a3ea0" opacity="0.75"/>
<circle cx="181.30" cy="312.95" r="0.95" fill="#5a3ea0" opacity="0.75"/>
<circle cx="120.96" cy="308.94" r="0.86" fill="#5a3ea0" opacity="0.75"/>
<circle cx="157.03" cy="297.25" r="0.91" fill="#5a3ea0" opacity="0.75"/>
<circle cx="166.09" cy="301.77" r="0.69" fill="#5a3ea0" opacity="0.75"/>
<circle cx="113.41" cy="324.38" r="1.30" fill="#5a3ea0" opacity="0.75"/>
<circle cx="120.69" cy="311.83" r="1.21" fill="#5a3ea0" opacity="0.75"/>
<circle cx="129.50" cy="369.67" r="0.81" fill="#5a3ea0" opacity="0.7"/>
<circle cx="118.98" cy="363.69" r="1.04" fill="#5a3ea0" opacity="0.7"/>
<circle cx="131.36" cy="372.37" r="0.75" fill="#5a3ea0" opacity="0.7"/>
<circle cx="146.83" cy="376.78" r="1.05" fill="#5a3ea0" opacity="0.7"/>
<circle cx="126.97" cy="369.66" r="0.93" fill="#5a3ea0" opacity="0.7"/>
<circle cx="144.30" cy="378.06" r="0.57" fill="#5a3ea0" opacity="0.7"/>
<circle cx="126.80" cy="370.06" r="0.51" fill="#5a3ea0" opacity="0.7"/>
<circle cx="123.63" cy="364.81" r="0.78" fill="#5a3ea0" opacity="0.7"/>
<circle cx="148.31" cy="375.93" r="0.63" fill="#5a3ea0" opacity="0.7"/>
<circle cx="143.33" cy="375.09" r="0.62" fill="#5a3ea0" opacity="0.7"/>
<circle cx="117.02" cy="356.15" r="0.99" fill="#5a3ea0" opacity="0.7"/>
<circle cx="121.15" cy="362.75" r="0.64" fill="#5a3ea0" opacity="0.7"/>
<circle cx="112.86" cy="332.27" r="0.95" fill="#5a3ea0" opacity="0.7"/>
<circle cx="141.50" cy="377.59" r="0.74" fill="#5a3ea0" opacity="0.7"/>
<circle cx="112.23" cy="351.37" r="0.56" fill="#5a3ea0" opacity="0.7"/>
<circle cx="144.34" cy="377.29" r="0.85" fill="#5a3ea0" opacity="0.7"/>
<circle cx="111.93" cy="341.37" r="0.80" fill="#5a3ea0" opacity="0.7"/>
<circle cx="135.20" cy="373.79" r="0.67" fill="#5a3ea0" opacity="0.7"/>
<circle cx="114.30" cy="351.61" r="0.66" fill="#5a3ea0" opacity="0.7"/>
<circle cx="113.62" cy="347.22" r="0.98" fill="#5a3ea0" opacity="0.7"/>
<circle cx="117.61" cy="357.76" r="0.57" fill="#5a3ea0" opacity="0.7"/>
<circle cx="116.31" cy="357.35" r="0.93" fill="#5a3ea0" opacity="0.7"/>
<circle cx="123.05" cy="365.57" r="1.04" fill="#5a3ea0" opacity="0.7"/>
<circle cx="128.16" cy="372.07" r="1.04" fill="#5a3ea0" opacity="0.7"/>
<circle cx="113.43" cy="320.03" r="0.65" fill="#5a3ea0" opacity="0.7"/>
<circle cx="110.78" cy="334.02" r="0.62" fill="#5a3ea0" opacity="0.7"/>
<circle cx="114.57" cy="319.92" r="0.99" fill="#5a3ea0" opacity="0.7"/>
<circle cx="115.80" cy="353.29" r="1.02" fill="#5a3ea0" opacity="0.7"/>
<circle cx="136.23" cy="373.58" r="0.87" fill="#5a3ea0" opacity="0.7"/>
<circle cx="134.64" cy="373.64" r="0.93" fill="#5a3ea0" opacity="0.7"/>
</g></g>
<circle cx="237.90" cy="338.00" r="41.50" fill="url(#p2)" />
<g clip-path="url(#c2)"><g filter="url(#bl)">
<circle cx="265.55" cy="357.04" r="0.74" fill="#5a38a6" opacity="0.9"/>
<circle cx="219.05" cy="314.62" r="1.15" fill="#52309e" opacity="0.9"/>
<circle cx="262.87" cy="331.26" r="1.49" fill="#52309e" opacity="0.9"/>
<circle cx="213.59" cy="362.43" r="1.56" fill="#3e2290" opacity="0.9"/>
<circle cx="212.42" cy="355.95" r="1.27" fill="#52309e" opacity="0.9"/>
<circle cx="225.92" cy="347.84" r="1.27" fill="#3e2290" opacity="0.9"/>
<circle cx="266.05" cy="336.68" r="1.69" fill="#52309e" opacity="0.9"/>
<circle cx="233.25" cy="327.60" r="1.33" fill="#52309e" opacity="0.9"/>
<circle cx="257.27" cy="304.47" r="0.95" fill="#5a38a6" opacity="0.9"/>
<circle cx="215.09" cy="341.57" r="1.08" fill="#52309e" opacity="0.9"/>
<circle cx="256.83" cy="310.01" r="0.82" fill="#52309e" opacity="0.9"/>
<circle cx="261.33" cy="319.15" r="1.22" fill="#4a2898" opacity="0.9"/>
<circle cx="222.44" cy="335.59" r="1.32" fill="#3e2290" opacity="0.9"/>
<circle cx="259.70" cy="333.89" r="0.71" fill="#52309e" opacity="0.9"/>
<circle cx="234.32" cy="340.79" r="1.17" fill="#5a38a6" opacity="0.9"/>
<circle cx="211.10" cy="343.75" r="1.42" fill="#4a2898" opacity="0.9"/>
<circle cx="271.26" cy="360.35" r="1.12" fill="#52309e" opacity="0.9"/>
<circle cx="250.78" cy="339.98" r="1.52" fill="#4a2898" opacity="0.9"/>
<circle cx="238.43" cy="360.11" r="1.86" fill="#3e2290" opacity="0.9"/>
<circle cx="231.31" cy="334.70" r="1.70" fill="#4a2898" opacity="0.9"/>
<circle cx="216.05" cy="315.12" r="1.75" fill="#5a38a6" opacity="0.9"/>
<circle cx="202.47" cy="326.54" r="0.80" fill="#5a38a6" opacity="0.9"/>
<circle cx="235.31" cy="363.96" r="0.85" fill="#3e2290" opacity="0.9"/>
<circle cx="205.70" cy="314.86" r="1.66" fill="#3e2290" opacity="0.9"/>
<circle cx="265.84" cy="346.58" r="1.26" fill="#4a2898" opacity="0.9"/>
<circle cx="220.55" cy="368.07" r="1.81" fill="#3e2290" opacity="0.9"/>
<circle cx="217.01" cy="303.91" r="1.61" fill="#5a38a6" opacity="0.9"/>
<circle cx="211.08" cy="346.81" r="1.34" fill="#4a2898" opacity="0.9"/>
<circle cx="231.40" cy="321.98" r="0.75" fill="#52309e" opacity="0.9"/>
<circle cx="242.65" cy="356.28" r="1.47" fill="#52309e" opacity="0.9"/>
<circle cx="277.07" cy="325.12" r="1.18" fill="#4a2898" opacity="0.9"/>
<circle cx="226.26" cy="325.34" r="1.86" fill="#52309e" opacity="0.9"/>
<circle cx="227.80" cy="341.56" r="0.64" fill="#5a38a6" opacity="0.9"/>
<circle cx="236.66" cy="308.70" r="0.71" fill="#52309e" opacity="0.9"/>
<circle cx="259.29" cy="308.46" r="1.36" fill="#52309e" opacity="0.9"/>
<circle cx="220.44" cy="365.75" r="1.14" fill="#4a2898" opacity="0.9"/>
<circle cx="219.99" cy="314.73" r="1.02" fill="#5a38a6" opacity="0.9"/>
<circle cx="244.93" cy="360.87" r="0.62" fill="#4a2898" opacity="0.9"/>
<circle cx="258.80" cy="306.09" r="1.72" fill="#5a38a6" opacity="0.9"/>
<circle cx="224.80" cy="299.58" r="1.69" fill="#5a38a6" opacity="0.9"/>
<circle cx="233.85" cy="335.76" r="1.10" fill="#3e2290" opacity="0.9"/>
<circle cx="203.84" cy="359.80" r="1.25" fill="#5a38a6" opacity="0.9"/>
<circle cx="248.18" cy="345.84" r="1.46" fill="#5a38a6" opacity="0.9"/>
<circle cx="233.61" cy="301.30" r="1.38" fill="#4a2898" opacity="0.9"/>
<circle cx="234.66" cy="309.88" r="1.60" fill="#3e2290" opacity="0.9"/>
<circle cx="275.02" cy="348.98" r="1.46" fill="#3e2290" opacity="0.9"/>
<circle cx="236.83" cy="336.10" r="1.22" fill="#52309e" opacity="0.9"/>
<circle cx="221.09" cy="360.73" r="0.73" fill="#4a2898" opacity="0.9"/>
<circle cx="222.94" cy="364.50" r="1.81" fill="#5a38a6" opacity="0.9"/>
<circle cx="264.50" cy="321.93" r="1.89" fill="#4a2898" opacity="0.9"/>
<circle cx="202.74" cy="354.42" r="1.42" fill="#52309e" opacity="0.9"/>
<circle cx="217.49" cy="318.03" r="1.42" fill="#4a2898" opacity="0.9"/>
<circle cx="226.68" cy="299.41" r="0.62" fill="#3e2290" opacity="0.9"/>
<circle cx="229.24" cy="304.52" r="1.59" fill="#52309e" opacity="0.9"/>
<circle cx="270.53" cy="344.41" r="1.64" fill="#52309e" opacity="0.9"/>
<circle cx="233.81" cy="300.43" r="1.57" fill="#3e2290" opacity="0.9"/>
<circle cx="226.20" cy="327.75" r="1.65" fill="#4a2898" opacity="0.9"/>
<circle cx="238.42" cy="367.66" r="1.10" fill="#3e2290" opacity="0.9"/>
<circle cx="253.65" cy="360.73" r="1.70" fill="#3e2290" opacity="0.9"/>
<circle cx="243.08" cy="335.78" r="0.95" fill="#5a38a6" opacity="0.9"/>
<circle cx="251.56" cy="342.67" r="1.69" fill="#4a2898" opacity="0.9"/>
<circle cx="213.49" cy="356.40" r="1.81" fill="#4a2898" opacity="0.9"/>
<circle cx="232.81" cy="347.77" r="1.09" fill="#3e2290" opacity="0.9"/>
<circle cx="229.88" cy="335.84" r="1.74" fill="#5a38a6" opacity="0.9"/>
<circle cx="222.29" cy="337.28" r="1.67" fill="#4a2898" opacity="0.9"/>
<circle cx="246.20" cy="377.16" r="1.65" fill="#52309e" opacity="0.9"/>
<circle cx="245.77" cy="332.46" r="1.79" fill="#3e2290" opacity="0.9"/>
<circle cx="267.47" cy="358.81" r="1.61" fill="#3e2290" opacity="0.9"/>
<circle cx="252.61" cy="335.94" r="0.84" fill="#5a38a6" opacity="0.9"/>
<circle cx="222.65" cy="303.14" r="1.34" fill="#3e2290" opacity="0.9"/>
<circle cx="248.93" cy="307.84" r="0.84" fill="#3e2290" opacity="0.9"/>
<circle cx="253.50" cy="324.96" r="1.51" fill="#4a2898" opacity="0.9"/>
<circle cx="244.73" cy="359.81" r="0.61" fill="#3e2290" opacity="0.9"/>
<circle cx="255.79" cy="350.68" r="1.60" fill="#5a38a6" opacity="0.9"/>
<circle cx="248.43" cy="309.53" r="1.18" fill="#4a2898" opacity="0.9"/>
<circle cx="215.33" cy="369.48" r="0.81" fill="#4a2898" opacity="0.9"/>
<circle cx="240.98" cy="336.61" r="1.78" fill="#5a38a6" opacity="0.9"/>
<circle cx="255.66" cy="348.27" r="1.46" fill="#5a38a6" opacity="0.9"/>
<circle cx="227.98" cy="327.97" r="1.12" fill="#52309e" opacity="0.9"/>
<circle cx="239.73" cy="374.63" r="1.53" fill="#5a38a6" opacity="0.9"/>
<circle cx="204.04" cy="331.16" r="0.77" fill="#5a38a6" opacity="0.9"/>
<circle cx="262.29" cy="348.92" r="0.98" fill="#4a2898" opacity="0.9"/>
<circle cx="243.16" cy="360.96" r="0.97" fill="#5a38a6" opacity="0.9"/>
<circle cx="227.12" cy="368.75" r="0.72" fill="#4a2898" opacity="0.9"/>
<circle cx="208.35" cy="347.67" r="1.72" fill="#3e2290" opacity="0.9"/>
<circle cx="211.96" cy="338.90" r="0.90" fill="#52309e" opacity="0.9"/>
<circle cx="219.90" cy="336.74" r="0.61" fill="#5a38a6" opacity="0.9"/>
<circle cx="258.73" cy="303.20" r="1.05" fill="#4a2898" opacity="0.9"/>
<circle cx="205.01" cy="325.67" r="0.71" fill="#5a38a6" opacity="0.9"/>
<circle cx="225.63" cy="318.65" r="1.27" fill="#3e2290" opacity="0.9"/>
<circle cx="220.92" cy="371.59" r="0.97" fill="#5a38a6" opacity="0.9"/>
<circle cx="213.09" cy="316.93" r="0.83" fill="#3e2290" opacity="0.9"/>
<circle cx="213.36" cy="308.23" r="1.14" fill="#4a2898" opacity="0.9"/>
<circle cx="233.24" cy="367.88" r="1.25" fill="#52309e" opacity="0.9"/>
<circle cx="232.64" cy="340.60" r="1.89" fill="#52309e" opacity="0.9"/>
<circle cx="226.94" cy="305.69" r="0.72" fill="#52309e" opacity="0.9"/>
<circle cx="231.04" cy="355.28" r="1.08" fill="#5a38a6" opacity="0.9"/>
<circle cx="221.18" cy="319.46" r="0.74" fill="#4a2898" opacity="0.9"/>
<circle cx="232.87" cy="351.06" r="1.57" fill="#5a38a6" opacity="0.9"/>
<circle cx="221.38" cy="311.54" r="1.42" fill="#52309e" opacity="0.9"/>
<circle cx="267.36" cy="326.15" r="1.31" fill="#5a38a6" opacity="0.9"/>
<circle cx="225.62" cy="360.51" r="1.90" fill="#5a38a6" opacity="0.9"/>
<circle cx="266.30" cy="344.76" r="1.26" fill="#4a2898" opacity="0.9"/>
<circle cx="241.69" cy="328.96" r="0.99" fill="#4a2898" opacity="0.9"/>
<circle cx="253.31" cy="325.13" r="1.61" fill="#5a38a6" opacity="0.9"/>
<circle cx="259.30" cy="322.50" r="0.70" fill="#4a2898" opacity="0.9"/>
<circle cx="246.66" cy="354.63" r="0.72" fill="#52309e" opacity="0.9"/>
<circle cx="270.56" cy="319.79" r="0.99" fill="#4a2898" opacity="0.9"/>
<circle cx="252.72" cy="356.29" r="1.16" fill="#4a2898" opacity="0.9"/>
<circle cx="265.64" cy="345.84" r="0.64" fill="#5a38a6" opacity="0.9"/>
<circle cx="222.52" cy="322.52" r="1.18" fill="#52309e" opacity="0.9"/>
<circle cx="234.89" cy="366.08" r="0.81" fill="#5a38a6" opacity="0.9"/>
<circle cx="274.85" cy="324.91" r="1.59" fill="#52309e" opacity="0.9"/>
<circle cx="210.37" cy="319.08" r="1.11" fill="#4a2898" opacity="0.9"/>
<circle cx="252.75" cy="375.95" r="1.47" fill="#52309e" opacity="0.9"/>
<circle cx="229.49" cy="328.00" r="1.03" fill="#52309e" opacity="0.9"/>
<circle cx="220.84" cy="322.09" r="0.61" fill="#5a38a6" opacity="0.9"/>
<circle cx="245.02" cy="303.72" r="0.99" fill="#52309e" opacity="0.9"/>
<circle cx="220.50" cy="329.45" r="0.87" fill="#3e2290" opacity="0.9"/>
<circle cx="211.43" cy="327.32" r="1.06" fill="#5a38a6" opacity="0.9"/>
<circle cx="271.22" cy="357.13" r="1.35" fill="#4a2898" opacity="0.9"/>
<circle cx="208.79" cy="319.73" r="1.42" fill="#3e2290" opacity="0.9"/>
<circle cx="210.65" cy="338.36" r="1.44" fill="#52309e" opacity="0.9"/>
<circle cx="230.02" cy="338.53" r="1.60" fill="#52309e" opacity="0.9"/>
<circle cx="221.13" cy="370.32" r="1.50" fill="#3e2290" opacity="0.9"/>
<circle cx="219.64" cy="306.85" r="1.43" fill="#5a38a6" opacity="0.9"/>
<circle cx="248.31" cy="307.08" r="1.70" fill="#3e2290" opacity="0.9"/>
<circle cx="206.74" cy="331.01" r="1.55" fill="#52309e" opacity="0.9"/>
<circle cx="263.88" cy="336.02" r="0.63" fill="#3e2290" opacity="0.9"/>
<circle cx="217.44" cy="366.74" r="1.35" fill="#52309e" opacity="0.9"/>
<circle cx="218.98" cy="349.36" r="1.09" fill="#52309e" opacity="0.9"/>
<circle cx="260.05" cy="332.82" r="1.59" fill="#5a38a6" opacity="0.9"/>
<circle cx="233.02" cy="376.52" r="1.82" fill="#3e2290" opacity="0.9"/>
<circle cx="241.08" cy="304.13" r="1.80" fill="#3e2290" opacity="0.9"/>
<circle cx="236.66" cy="378.23" r="1.84" fill="#4a2898" opacity="0.9"/>
<circle cx="241.33" cy="357.48" r="1.61" fill="#5a38a6" opacity="0.9"/>
<circle cx="235.93" cy="362.08" r="1.55" fill="#3e2290" opacity="0.9"/>
<circle cx="232.01" cy="366.98" r="1.84" fill="#52309e" opacity="0.9"/>
<circle cx="241.23" cy="351.71" r="1.08" fill="#4a2898" opacity="0.9"/>
<circle cx="210.94" cy="336.62" r="0.71" fill="#5a38a6" opacity="0.9"/>
<circle cx="212.91" cy="338.19" r="1.27" fill="#4a2898" opacity="0.9"/>
<circle cx="215.96" cy="370.93" r="1.63" fill="#52309e" opacity="0.9"/>
<circle cx="214.47" cy="341.63" r="0.77" fill="#3e2290" opacity="0.9"/>
<circle cx="227.82" cy="329.84" r="1.80" fill="#52309e" opacity="0.9"/>
<circle cx="271.70" cy="345.24" r="0.91" fill="#5a38a6" opacity="0.9"/>
<circle cx="220.68" cy="361.53" r="1.46" fill="#52309e" opacity="0.9"/>
<circle cx="227.82" cy="320.92" r="1.27" fill="#5a38a6" opacity="0.9"/>
<circle cx="251.19" cy="370.19" r="0.65" fill="#3e2290" opacity="0.9"/>
<circle cx="221.09" cy="361.36" r="1.27" fill="#52309e" opacity="0.9"/>
<circle cx="269.34" cy="328.58" r="1.27" fill="#52309e" opacity="0.9"/>
<circle cx="247.34" cy="326.74" r="0.88" fill="#3e2290" opacity="0.9"/>
<circle cx="198.72" cy="345.41" r="1.04" fill="#5a38a6" opacity="0.9"/>
<circle cx="247.55" cy="373.01" r="0.63" fill="#5a38a6" opacity="0.9"/>
<circle cx="252.22" cy="326.31" r="1.31" fill="#4a2898" opacity="0.9"/>
<circle cx="227.45" cy="312.00" r="1.86" fill="#52309e" opacity="0.9"/>
<circle cx="227.37" cy="330.27" r="1.85" fill="#4a2898" opacity="0.9"/>
<circle cx="249.18" cy="366.73" r="1.44" fill="#3e2290" opacity="0.9"/>
<circle cx="227.34" cy="313.73" r="1.58" fill="#4a2898" opacity="0.9"/>
<circle cx="228.38" cy="369.24" r="1.65" fill="#5a38a6" opacity="0.9"/>
<circle cx="201.27" cy="344.61" r="0.99" fill="#4a2898" opacity="0.9"/>
<circle cx="244.56" cy="354.08" r="0.87" fill="#3e2290" opacity="0.9"/>
<circle cx="226.02" cy="313.83" r="1.87" fill="#4a2898" opacity="0.9"/>
<circle cx="249.32" cy="334.82" r="1.52" fill="#4a2898" opacity="0.9"/>
<circle cx="233.82" cy="334.79" r="1.80" fill="#5a38a6" opacity="0.9"/>
<circle cx="269.20" cy="325.87" r="0.93" fill="#4a2898" opacity="0.9"/>
<circle cx="211.62" cy="354.56" r="1.29" fill="#3e2290" opacity="0.9"/>
<circle cx="264.81" cy="369.19" r="1.56" fill="#52309e" opacity="0.9"/>
<circle cx="238.20" cy="344.89" r="1.43" fill="#3e2290" opacity="0.9"/>
<circle cx="255.93" cy="357.49" r="1.83" fill="#4a2898" opacity="0.9"/>
<circle cx="206.27" cy="351.75" r="1.26" fill="#4a2898" opacity="0.9"/>
<circle cx="206.33" cy="338.32" r="1.70" fill="#4a2898" opacity="0.9"/>
<circle cx="225.29" cy="346.55" r="1.60" fill="#52309e" opacity="0.9"/>
<circle cx="255.99" cy="361.38" r="1.64" fill="#52309e" opacity="0.9"/>
<circle cx="198.06" cy="337.11" r="0.96" fill="#4a2898" opacity="0.9"/>
<circle cx="239.80" cy="365.94" r="1.44" fill="#4a2898" opacity="0.9"/>
<circle cx="260.66" cy="319.18" r="1.27" fill="#52309e" opacity="0.9"/>
<circle cx="246.05" cy="347.54" r="0.90" fill="#52309e" opacity="0.9"/>
<circle cx="256.91" cy="356.76" r="0.65" fill="#5a38a6" opacity="0.9"/>
<circle cx="199.37" cy="341.80" r="1.51" fill="#52309e" opacity="0.9"/>
<circle cx="239.12" cy="315.35" r="1.55" fill="#52309e" opacity="0.9"/>
<circle cx="259.09" cy="364.70" r="1.20" fill="#5a38a6" opacity="0.9"/>
<circle cx="249.87" cy="359.06" r="1.67" fill="#3e2290" opacity="0.9"/>
<circle cx="251.97" cy="336.04" r="0.87" fill="#4a2898" opacity="0.9"/>
<circle cx="264.34" cy="362.00" r="1.03" fill="#52309e" opacity="0.9"/>
<circle cx="267.14" cy="322.17" r="1.45" fill="#4a2898" opacity="0.9"/>
<circle cx="202.00" cy="339.38" r="1.34" fill="#52309e" opacity="0.9"/>
<circle cx="222.19" cy="366.72" r="0.69" fill="#52309e" opacity="0.9"/>
<circle cx="214.86" cy="328.71" r="1.11" fill="#5a38a6" opacity="0.9"/>
<circle cx="236.31" cy="360.47" r="1.39" fill="#5a38a6" opacity="0.9"/>
<circle cx="272.78" cy="341.72" r="1.11" fill="#5a38a6" opacity="0.9"/>
<circle cx="244.39" cy="350.74" r="0.65" fill="#4a2898" opacity="0.9"/>
<circle cx="243.34" cy="345.62" r="1.52" fill="#5a38a6" opacity="0.9"/>
<circle cx="219.70" cy="303.06" r="1.78" fill="#52309e" opacity="0.9"/>
<circle cx="248.38" cy="320.64" r="0.93" fill="#5a38a6" opacity="0.9"/>
<circle cx="224.64" cy="342.84" r="0.84" fill="#3e2290" opacity="0.9"/>
<circle cx="261.85" cy="358.95" r="1.88" fill="#5a38a6" opacity="0.9"/>
<circle cx="272.87" cy="317.30" r="1.15" fill="#52309e" opacity="0.9"/>
<circle cx="271.65" cy="353.52" r="1.47" fill="#5a38a6" opacity="0.9"/>
<circle cx="247.40" cy="299.18" r="1.59" fill="#52309e" opacity="0.9"/>
<circle cx="263.57" cy="356.57" r="1.15" fill="#52309e" opacity="0.9"/>
<circle cx="202.91" cy="337.26" r="1.90" fill="#52309e" opacity="0.9"/>
<circle cx="220.02" cy="345.14" r="1.76" fill="#4a2898" opacity="0.9"/>
<circle cx="203.30" cy="351.80" r="0.84" fill="#3e2290" opacity="0.9"/>
<circle cx="272.34" cy="330.72" r="0.68" fill="#4a2898" opacity="0.9"/>
<circle cx="258.20" cy="354.97" r="1.41" fill="#3e2290" opacity="0.9"/>
<circle cx="253.15" cy="314.95" r="1.02" fill="#52309e" opacity="0.9"/>
<circle cx="248.77" cy="358.10" r="1.40" fill="#3e2290" opacity="0.9"/>
<circle cx="236.97" cy="369.60" r="0.96" fill="#52309e" opacity="0.9"/>
<circle cx="228.63" cy="371.32" r="0.88" fill="#52309e" opacity="0.9"/>
<circle cx="214.43" cy="323.63" r="1.74" fill="#3e2290" opacity="0.9"/>
<circle cx="255.19" cy="371.13" r="1.00" fill="#5a38a6" opacity="0.9"/>
<circle cx="254.03" cy="336.04" r="1.07" fill="#4a2898" opacity="0.9"/>
<circle cx="202.52" cy="355.89" r="0.93" fill="#3e2290" opacity="0.9"/>
<circle cx="227.33" cy="314.79" r="0.95" fill="#52309e" opacity="0.9"/>
<circle cx="265.19" cy="366.52" r="1.90" fill="#5a38a6" opacity="0.9"/>
<circle cx="206.09" cy="335.43" r="0.78" fill="#3e2290" opacity="0.9"/>
<circle cx="273.97" cy="334.54" r="0.94" fill="#5a38a6" opacity="0.9"/>
<circle cx="253.65" cy="375.32" r="0.72" fill="#4a2898" opacity="0.9"/>
<circle cx="251.44" cy="310.52" r="1.02" fill="#52309e" opacity="0.9"/>
<circle cx="275.26" cy="334.64" r="1.62" fill="#4a2898" opacity="0.9"/>
<circle cx="225.46" cy="301.20" r="1.45" fill="#4a2898" opacity="0.9"/>
<circle cx="232.30" cy="335.25" r="1.34" fill="#4a2898" opacity="0.9"/>
<circle cx="251.73" cy="309.58" r="1.16" fill="#52309e" opacity="0.9"/>
<circle cx="207.51" cy="340.14" r="1.65" fill="#5a38a6" opacity="0.9"/>
<circle cx="277.13" cy="349.66" r="0.93" fill="#4a2898" opacity="0.9"/>
<circle cx="208.72" cy="359.87" r="1.62" fill="#3e2290" opacity="0.9"/>
<circle cx="228.86" cy="303.48" r="1.84" fill="#3e2290" opacity="0.9"/>
<circle cx="233.58" cy="359.12" r="0.71" fill="#4a2898" opacity="0.9"/>
<circle cx="259.88" cy="350.97" r="1.35" fill="#5a38a6" opacity="0.9"/>
<circle cx="226.45" cy="356.11" r="1.41" fill="#3e2290" opacity="0.9"/>
<circle cx="254.42" cy="372.90" r="0.74" fill="#52309e" opacity="0.9"/>
<circle cx="262.48" cy="342.80" r="1.27" fill="#52309e" opacity="0.9"/>
<circle cx="204.67" cy="326.36" r="1.76" fill="#5a38a6" opacity="0.9"/>
<circle cx="250.67" cy="359.72" r="0.71" fill="#3e2290" opacity="0.9"/>
<circle cx="241.33" cy="332.34" r="0.68" fill="#52309e" opacity="0.9"/>
<circle cx="253.36" cy="354.22" r="1.71" fill="#4a2898" opacity="0.9"/>
<circle cx="221.50" cy="337.33" r="1.76" fill="#52309e" opacity="0.9"/>
<circle cx="216.26" cy="332.08" r="0.83" fill="#5a38a6" opacity="0.9"/>
<circle cx="251.28" cy="360.53" r="0.76" fill="#5a38a6" opacity="0.9"/>
<circle cx="253.39" cy="355.69" r="0.91" fill="#3e2290" opacity="0.9"/>
<circle cx="241.69" cy="326.36" r="1.03" fill="#5a38a6" opacity="0.9"/>
<circle cx="263.98" cy="308.16" r="1.59" fill="#4a2898" opacity="0.9"/>
<circle cx="208.51" cy="324.75" r="0.80" fill="#3e2290" opacity="0.9"/>
<circle cx="226.37" cy="361.71" r="1.30" fill="#4a2898" opacity="0.9"/>
<circle cx="254.90" cy="374.19" r="1.15" fill="#3e2290" opacity="0.9"/>
<circle cx="231.43" cy="352.36" r="1.59" fill="#4a2898" opacity="0.9"/>
<circle cx="221.16" cy="355.48" r="0.80" fill="#5a38a6" opacity="0.9"/>
<circle cx="201.82" cy="347.11" r="1.04" fill="#3e2290" opacity="0.9"/>
<circle cx="234.55" cy="325.29" r="1.01" fill="#4a2898" opacity="0.9"/>
<circle cx="217.12" cy="365.41" r="1.12" fill="#3e2290" opacity="0.9"/>
<circle cx="239.85" cy="307.29" r="1.07" fill="#3e2290" opacity="0.9"/>
<circle cx="244.99" cy="346.35" r="1.73" fill="#4a2898" opacity="0.9"/>
<circle cx="226.32" cy="306.59" r="1.16" fill="#4a2898" opacity="0.9"/>
<circle cx="248.96" cy="310.07" r="1.32" fill="#52309e" opacity="0.9"/>
<circle cx="211.84" cy="354.48" r="0.72" fill="#52309e" opacity="0.9"/>
<circle cx="250.18" cy="347.27" r="1.47" fill="#4a2898" opacity="0.9"/>
<circle cx="246.41" cy="334.04" r="0.61" fill="#52309e" opacity="0.9"/>
<circle cx="238.92" cy="298.22" r="1.09" fill="#52309e" opacity="0.9"/>
<circle cx="254.56" cy="362.94" r="1.77" fill="#5a38a6" opacity="0.9"/>
<circle cx="274.32" cy="330.68" r="0.61" fill="#52309e" opacity="0.9"/>
<circle cx="228.25" cy="317.36" r="1.55" fill="#5a38a6" opacity="0.9"/>
<circle cx="244.75" cy="334.47" r="1.17" fill="#52309e" opacity="0.9"/>
<circle cx="226.83" cy="312.58" r="1.33" fill="#3e2290" opacity="0.9"/>
<circle cx="241.30" cy="337.13" r="1.77" fill="#5a38a6" opacity="0.9"/>
<circle cx="208.88" cy="328.19" r="0.61" fill="#5a38a6" opacity="0.9"/>
<circle cx="229.47" cy="301.48" r="1.08" fill="#4a2898" opacity="0.9"/>
<circle cx="232.67" cy="330.93" r="0.76" fill="#4a2898" opacity="0.9"/>
<circle cx="260.10" cy="351.78" r="0.90" fill="#5a38a6" opacity="0.9"/>
<circle cx="221.37" cy="315.97" r="1.30" fill="#5a38a6" opacity="0.9"/>
<circle cx="211.55" cy="323.50" r="1.30" fill="#5a38a6" opacity="0.9"/>
<circle cx="277.81" cy="331.80" r="1.54" fill="#5a38a6" opacity="0.9"/>
<circle cx="250.83" cy="344.62" r="1.05" fill="#52309e" opacity="0.9"/>
<circle cx="199.69" cy="327.61" r="1.47" fill="#52309e" opacity="0.9"/>
<circle cx="256.69" cy="333.01" r="0.89" fill="#4a2898" opacity="0.9"/>
<circle cx="219.91" cy="350.84" r="0.62" fill="#5a38a6" opacity="0.9"/>
<circle cx="227.31" cy="370.20" r="1.33" fill="#3e2290" opacity="0.9"/>
<circle cx="239.95" cy="306.78" r="1.42" fill="#52309e" opacity="0.9"/>
<circle cx="210.23" cy="343.08" r="0.97" fill="#4a2898" opacity="0.9"/>
<circle cx="270.78" cy="361.12" r="1.02" fill="#4a2898" opacity="0.9"/>
<circle cx="260.50" cy="308.32" r="1.23" fill="#52309e" opacity="0.9"/>
<circle cx="240.89" cy="362.92" r="1.39" fill="#4a2898" opacity="0.9"/>
<circle cx="222.94" cy="365.73" r="1.79" fill="#5a38a6" opacity="0.9"/>
<circle cx="226.58" cy="330.03" r="1.70" fill="#3e2290" opacity="0.9"/>
<circle cx="221.00" cy="368.63" r="1.66" fill="#52309e" opacity="0.9"/>
<circle cx="256.13" cy="374.26" r="1.37" fill="#4a2898" opacity="0.9"/>
<circle cx="198.13" cy="347.75" r="1.01" fill="#52309e" opacity="0.9"/>
<circle cx="250.17" cy="332.84" r="1.09" fill="#5a38a6" opacity="0.9"/>
<circle cx="198.46" cy="329.22" r="0.93" fill="#4a2898" opacity="0.9"/>
<circle cx="264.77" cy="351.70" r="1.51" fill="#3e2290" opacity="0.9"/>
<circle cx="265.52" cy="351.61" r="1.52" fill="#5a38a6" opacity="0.9"/>
<circle cx="252.89" cy="323.39" r="1.67" fill="#4a2898" opacity="0.9"/>
<circle cx="234.22" cy="343.32" r="0.98" fill="#4a2898" opacity="0.9"/>
<circle cx="216.74" cy="361.34" r="0.91" fill="#5a38a6" opacity="0.9"/>
<circle cx="270.66" cy="360.28" r="0.69" fill="#3e2290" opacity="0.9"/>
<circle cx="228.83" cy="350.75" r="0.70" fill="#5a38a6" opacity="0.9"/>
<circle cx="218.84" cy="344.28" r="0.83" fill="#3e2290" opacity="0.9"/>
<circle cx="260.04" cy="328.51" r="1.67" fill="#5a38a6" opacity="0.9"/>
<circle cx="219.59" cy="304.80" r="1.13" fill="#52309e" opacity="0.9"/>
<circle cx="273.09" cy="358.79" r="1.31" fill="#4a2898" opacity="0.9"/>
<circle cx="261.95" cy="369.53" r="1.17" fill="#52309e" opacity="0.9"/>
<circle cx="206.03" cy="358.71" r="0.98" fill="#52309e" opacity="0.9"/>
<circle cx="250.45" cy="338.23" r="1.53" fill="#52309e" opacity="0.9"/>
<circle cx="256.96" cy="357.80" r="1.37" fill="#52309e" opacity="0.9"/>
<circle cx="228.85" cy="298.03" r="0.64" fill="#3e2290" opacity="0.9"/>
<circle cx="233.58" cy="347.17" r="0.94" fill="#52309e" opacity="0.9"/>
<circle cx="203.09" cy="316.53" r="0.87" fill="#4a2898" opacity="0.9"/>
<circle cx="225.23" cy="322.80" r="0.90" fill="#4a2898" opacity="0.9"/>
<circle cx="199.85" cy="353.29" r="1.02" fill="#3e2290" opacity="0.9"/>
<circle cx="277.80" cy="336.72" r="1.63" fill="#5a38a6" opacity="0.9"/>
<circle cx="230.68" cy="315.63" r="1.64" fill="#52309e" opacity="0.9"/>
<circle cx="204.69" cy="330.51" r="0.73" fill="#5a38a6" opacity="0.9"/>
<circle cx="266.07" cy="359.89" r="1.47" fill="#3e2290" opacity="0.9"/>
<circle cx="245.11" cy="328.45" r="1.48" fill="#5a38a6" opacity="0.9"/>
<circle cx="209.93" cy="342.86" r="1.49" fill="#5a38a6" opacity="0.9"/>
<circle cx="198.09" cy="338.98" r="0.97" fill="#4a2898" opacity="0.9"/>
<circle cx="270.68" cy="313.06" r="1.32" fill="#3e2290" opacity="0.9"/>
<circle cx="215.72" cy="360.90" r="1.66" fill="#52309e" opacity="0.9"/>
<circle cx="238.38" cy="372.31" r="1.90" fill="#5a38a6" opacity="0.9"/>
<circle cx="208.86" cy="337.35" r="1.30" fill="#52309e" opacity="0.9"/>
<circle cx="244.91" cy="361.24" r="1.88" fill="#4a2898" opacity="0.9"/>
<circle cx="250.69" cy="344.12" r="0.83" fill="#5a38a6" opacity="0.9"/>
<circle cx="210.74" cy="308.87" r="1.47" fill="#4a2898" opacity="0.9"/>
<circle cx="212.10" cy="355.97" r="1.28" fill="#52309e" opacity="0.9"/>
<circle cx="267.42" cy="343.06" r="1.42" fill="#52309e" opacity="0.9"/>
<circle cx="238.76" cy="313.79" r="1.02" fill="#52309e" opacity="0.9"/>
<circle cx="217.52" cy="363.34" r="1.30" fill="#3e2290" opacity="0.9"/>
<circle cx="249.59" cy="375.46" r="1.82" fill="#3e2290" opacity="0.9"/>
<circle cx="236.53" cy="300.05" r="0.68" fill="#3e2290" opacity="0.9"/>
<circle cx="272.50" cy="341.00" r="1.84" fill="#4a2898" opacity="0.9"/>
<circle cx="242.62" cy="312.63" r="1.28" fill="#5a38a6" opacity="0.9"/>
<circle cx="237.30" cy="313.36" r="1.69" fill="#4a2898" opacity="0.9"/>
<circle cx="268.72" cy="320.53" r="1.51" fill="#52309e" opacity="0.9"/>
<circle cx="223.94" cy="329.40" r="1.68" fill="#5a38a6" opacity="0.9"/>
<circle cx="229.70" cy="357.71" r="1.80" fill="#5a38a6" opacity="0.9"/>
<circle cx="261.81" cy="340.99" r="1.05" fill="#4a2898" opacity="0.9"/>
<circle cx="239.36" cy="326.97" r="1.17" fill="#4a2898" opacity="0.9"/>
<circle cx="200.11" cy="332.19" r="1.63" fill="#5a38a6" opacity="0.9"/>
<circle cx="251.28" cy="303.83" r="1.63" fill="#4a2898" opacity="0.9"/>
<circle cx="234.85" cy="363.59" r="1.74" fill="#52309e" opacity="0.9"/>
<circle cx="222.48" cy="349.85" r="1.49" fill="#4a2898" opacity="0.9"/>
<circle cx="226.66" cy="310.45" r="1.50" fill="#52309e" opacity="0.9"/>
<circle cx="274.12" cy="335.02" r="1.81" fill="#4a2898" opacity="0.9"/>
<circle cx="269.03" cy="355.65" r="0.89" fill="#3e2290" opacity="0.9"/>
<circle cx="263.74" cy="337.65" r="1.72" fill="#3e2290" opacity="0.9"/>
<circle cx="224.34" cy="343.88" r="1.90" fill="#5a38a6" opacity="0.9"/>
<circle cx="245.05" cy="359.62" r="0.61" fill="#52309e" opacity="0.9"/>
<circle cx="224.16" cy="360.72" r="1.57" fill="#52309e" opacity="0.9"/>
<circle cx="224.06" cy="373.43" r="1.56" fill="#52309e" opacity="0.9"/>
<circle cx="211.84" cy="354.97" r="0.70" fill="#4a2898" opacity="0.9"/>
<circle cx="261.83" cy="356.73" r="1.23" fill="#4a2898" opacity="0.9"/>
<circle cx="234.11" cy="305.81" r="0.87" fill="#52309e" opacity="0.9"/>
<circle cx="252.81" cy="309.12" r="0.90" fill="#5a38a6" opacity="0.9"/>
<circle cx="221.00" cy="351.16" r="0.79" fill="#3e2290" opacity="0.9"/>
<circle cx="211.02" cy="308.53" r="0.82" fill="#3e2290" opacity="0.9"/>
<circle cx="265.32" cy="331.40" r="1.71" fill="#52309e" opacity="0.9"/>
<circle cx="210.14" cy="330.86" r="1.78" fill="#3e2290" opacity="0.9"/>
<circle cx="217.03" cy="309.44" r="1.30" fill="#52309e" opacity="0.9"/>
<circle cx="274.73" cy="356.34" r="1.55" fill="#52309e" opacity="0.9"/>
<circle cx="247.24" cy="324.31" r="0.81" fill="#3e2290" opacity="0.9"/>
<circle cx="213.07" cy="365.94" r="1.23" fill="#3e2290" opacity="0.9"/>
<circle cx="222.86" cy="302.86" r="0.78" fill="#3e2290" opacity="0.9"/>
<circle cx="222.93" cy="356.13" r="0.62" fill="#3e2290" opacity="0.9"/>
<circle cx="235.76" cy="309.08" r="0.60" fill="#52309e" opacity="0.9"/>
<circle cx="262.74" cy="351.70" r="1.45" fill="#5a38a6" opacity="0.9"/>
<circle cx="249.11" cy="328.90" r="1.25" fill="#4a2898" opacity="0.9"/>
<circle cx="255.62" cy="338.58" r="1.30" fill="#52309e" opacity="0.9"/>
<circle cx="215.41" cy="314.51" r="1.09" fill="#4a2898" opacity="0.9"/>
<circle cx="227.91" cy="322.70" r="1.35" fill="#3e2290" opacity="0.9"/>
<circle cx="270.07" cy="354.65" r="0.82" fill="#3e2290" opacity="0.9"/>
<circle cx="261.02" cy="358.66" r="1.86" fill="#5a38a6" opacity="0.9"/>
</g></g>
<text x="141.00" y="387.20" font-size="6.8" fill="#222" text-anchor="middle" font-weight="normal" stroke="#222" stroke-width="0.12" >pLVX-Vector</text>
<text x="240.80" y="387.20" font-size="6.8" fill="#222" text-anchor="middle" font-weight="normal" stroke="#222" stroke-width="0.12" >pLVX-ENSG00000206947</text>
<line x1="321.40" y1="272.60" x2="321.40" y2="348.90" stroke="#222" stroke-width="0.75" />
<line x1="321.40" y1="348.90" x2="372.00" y2="348.90" stroke="#222" stroke-width="0.75" />
<line x1="319.80" y1="348.90" x2="321.40" y2="348.90" stroke="#222" stroke-width="0.6" />
<text x="318.00" y="350.70" font-size="5.0" fill="#222" text-anchor="end" font-weight="bold" stroke="#222" stroke-width="0.15" >0</text>
<line x1="319.80" y1="329.85" x2="321.40" y2="329.85" stroke="#222" stroke-width="0.6" />
<text x="318.00" y="331.65" font-size="5.0" fill="#222" text-anchor="end" font-weight="bold" stroke="#222" stroke-width="0.15" >20</text>
<line x1="319.80" y1="310.80" x2="321.40" y2="310.80" stroke="#222" stroke-width="0.6" />
<text x="318.00" y="312.60" font-size="5.0" fill="#222" text-anchor="end" font-weight="bold" stroke="#222" stroke-width="0.15" >40</text>
<line x1="319.80" y1="291.75" x2="321.40" y2="291.75" stroke="#222" stroke-width="0.6" />
<text x="318.00" y="293.55" font-size="5.0" fill="#222" text-anchor="end" font-weight="bold" stroke="#222" stroke-width="0.15" >60</text>
<line x1="319.80" y1="272.70" x2="321.40" y2="272.70" stroke="#222" stroke-width="0.6" />
<text x="318.00" y="274.50" font-size="5.0" fill="#222" text-anchor="end" font-weight="bold" stroke="#222" stroke-width="0.15" >80</text>
<text x="307.60" y="311.00" font-size="5.6" fill="#222" text-anchor="middle" font-weight="bold" transform="rotate(-90 307.60 311.00)" stroke="#222" stroke-width="0.06" >Number of clones per well</text>
<line x1="336.30" y1="322.23" x2="336.30" y2="336.52" stroke="#5070c0" stroke-width="0.55" />
<line x1="333.10" y1="322.23" x2="339.60" y2="322.23" stroke="#5070c0" stroke-width="0.55" />
<line x1="333.10" y1="336.52" x2="339.60" y2="336.52" stroke="#5070c0" stroke-width="0.55" />
<rect x="329.40" y="329.85" width="13.70" height="19.05" fill="none" stroke="#283c9c" stroke-width="1.0" />
<line x1="358.10" y1="278.41" x2="358.10" y2="289.84" stroke="#d8a8b0" stroke-width="0.55" />
<line x1="354.60" y1="278.41" x2="361.60" y2="278.41" stroke="#e8b0b0" stroke-width="0.55" />
<line x1="354.60" y1="289.84" x2="361.60" y2="289.84" stroke="#a8b0d0" stroke-width="0.55" />
<rect x="351.40" y="284.32" width="13.20" height="64.58" fill="none" stroke="#e82424" stroke-width="1.0" />
<circle cx="357.20" cy="275.60" r="0.60" fill="#222" />
<circle cx="359.00" cy="275.60" r="0.60" fill="#222" />
<line x1="336.30" y1="348.90" x2="336.30" y2="350.80" stroke="#222" stroke-width="0.6" />
<line x1="357.30" y1="348.90" x2="357.30" y2="350.80" stroke="#222" stroke-width="0.6" />
<text x="339.40" y="357.60" font-size="5.9" fill="#222" text-anchor="end" font-weight="bold" transform="rotate(-45 339.40 357.60)" stroke="#222" stroke-width="0.2" >pLVX-Vector</text>
<text x="357.70" y="357.00" font-size="5.9" fill="#222" text-anchor="end" font-weight="bold" transform="rotate(-45 357.70 357.00)" stroke="#222" stroke-width="0.2" >pLVX-</text>
<text x="365.50" y="362.00" font-size="6.0" fill="#222" text-anchor="end" font-weight="bold" transform="rotate(-45 365.50 362.00)" stroke="#222" stroke-width="0.2" >ENSG00000206947</text>
</g>
</svg>
</body></html>
